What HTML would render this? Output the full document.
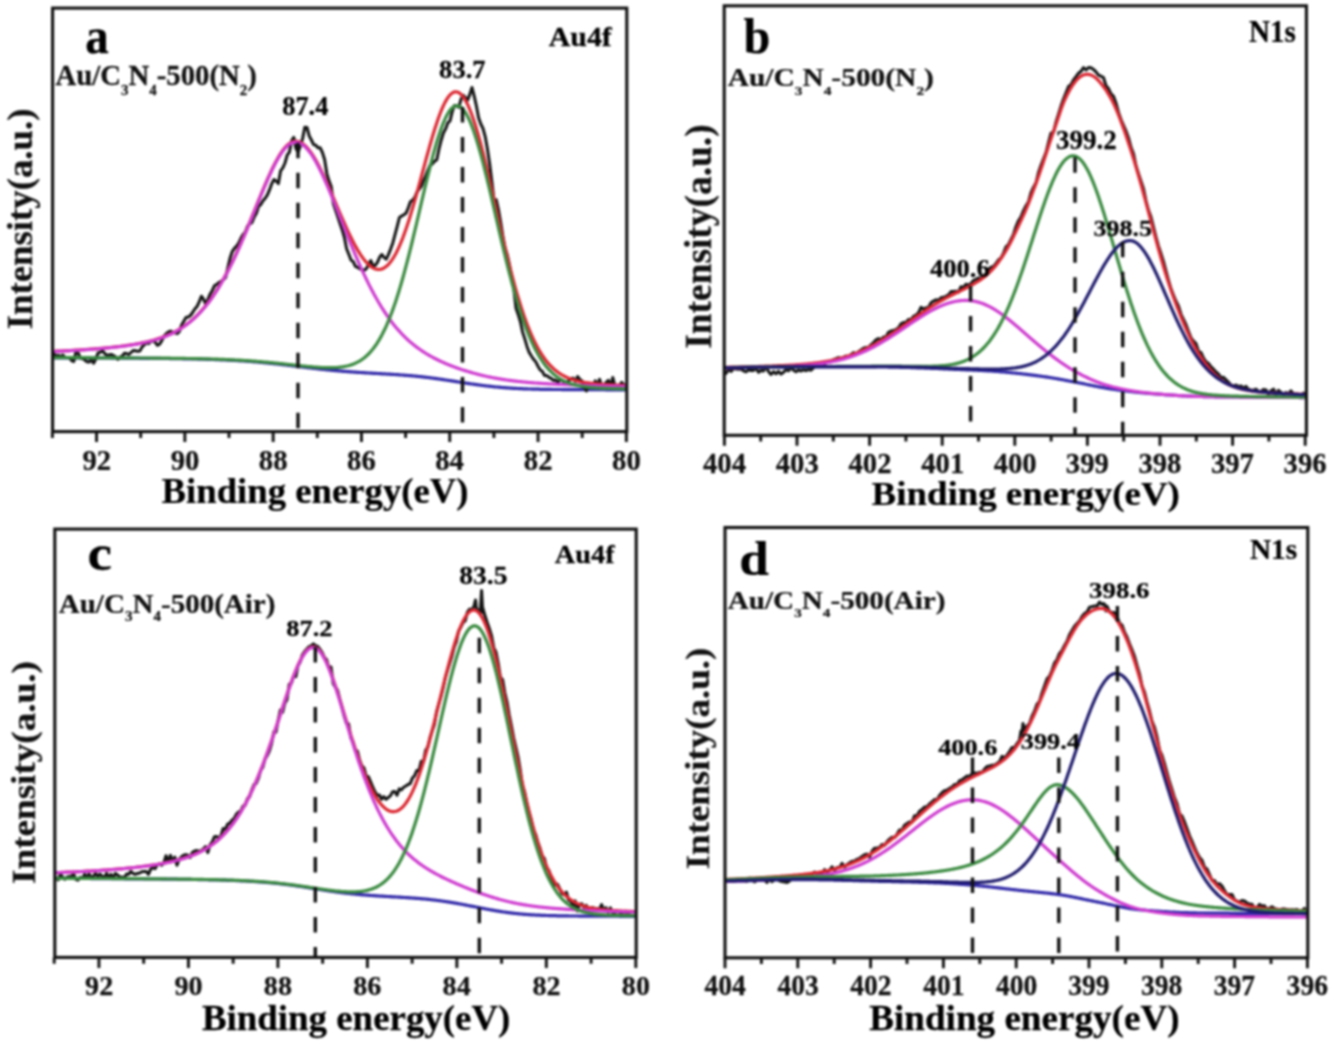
<!DOCTYPE html>
<html><head><meta charset="utf-8"><style>
html,body{margin:0;padding:0;background:#fff;}
svg{display:block;}
#w{filter:blur(1px);width:1338px;height:1048px;}
</style></head><body><div id="w">
<svg width="1338" height="1048" viewBox="0 0 1338 1048">
<rect width="1338" height="1048" fill="#fff"/>
<g fill="none" stroke-width="3.2" stroke-linejoin="round" stroke-linecap="round">
<path d="M54.0,357.8 L55.0,357.8 L56.0,357.8 L57.0,357.8 L58.0,357.8 L59.0,357.8 L60.0,357.8 L61.0,357.8 L62.0,357.8 L63.0,357.8 L64.0,357.8 L65.0,357.8 L66.0,357.8 L67.0,357.8 L68.0,357.9 L69.0,357.9 L70.0,357.9 L71.0,357.9 L72.0,357.9 L73.0,357.9 L74.0,357.9 L75.0,357.9 L76.0,357.9 L77.0,357.9 L78.0,357.9 L79.0,357.9 L80.0,357.9 L81.0,357.9 L82.0,357.9 L83.0,357.9 L84.0,357.9 L85.0,357.9 L86.0,357.9 L87.0,357.9 L88.0,357.9 L89.0,357.9 L90.0,357.9 L91.0,358.0 L92.0,358.0 L93.0,358.0 L94.0,358.0 L95.0,358.0 L96.0,358.0 L97.0,358.0 L98.0,358.0 L99.0,358.0 L100.0,358.0 L101.0,358.0 L102.0,358.0 L103.0,358.0 L104.0,358.0 L105.0,358.0 L106.0,358.0 L107.0,358.0 L108.0,358.0 L109.0,358.0 L110.0,358.0 L111.0,358.1 L112.0,358.1 L113.0,358.1 L114.0,358.1 L115.0,358.1 L116.0,358.1 L117.0,358.1 L118.0,358.1 L119.0,358.1 L120.0,358.1 L121.0,358.1 L122.0,358.1 L123.0,358.1 L124.0,358.1 L125.0,358.1 L126.0,358.1 L127.0,358.2 L128.0,358.2 L129.0,358.2 L130.0,358.2 L131.0,358.2 L132.0,358.2 L133.0,358.2 L134.0,358.2 L135.0,358.2 L136.0,358.2 L137.0,358.2 L138.0,358.2 L139.0,358.2 L140.0,358.3 L141.0,358.3 L142.0,358.3 L143.0,358.3 L144.0,358.3 L145.0,358.3 L146.0,358.3 L147.0,358.3 L148.0,358.3 L149.0,358.3 L150.0,358.3 L151.0,358.3 L152.0,358.4 L153.0,358.4 L154.0,358.4 L155.0,358.4 L156.0,358.4 L157.0,358.4 L158.0,358.4 L159.0,358.4 L160.0,358.4 L161.0,358.5 L162.0,358.5 L163.0,358.5 L164.0,358.5 L165.0,358.5 L166.0,358.5 L167.0,358.5 L168.0,358.5 L169.0,358.5 L170.0,358.6 L171.0,358.6 L172.0,358.6 L173.0,358.6 L174.0,358.6 L175.0,358.6 L176.0,358.6 L177.0,358.7 L178.0,358.7 L179.0,358.7 L180.0,358.7 L181.0,358.7 L182.0,358.7 L183.0,358.8 L184.0,358.8 L185.0,358.8 L186.0,358.8 L187.0,358.8 L188.0,358.8 L189.0,358.9 L190.0,358.9 L191.0,358.9 L192.0,358.9 L193.0,359.0 L194.0,359.0 L195.0,359.0 L196.0,359.0 L197.0,359.0 L198.0,359.1 L199.0,359.1 L200.0,359.1 L201.0,359.1 L202.0,359.2 L203.0,359.2 L204.0,359.2 L205.0,359.2 L206.0,359.3 L207.0,359.3 L208.0,359.3 L209.0,359.4 L210.0,359.4 L211.0,359.4 L212.0,359.5 L213.0,359.5 L214.0,359.5 L215.0,359.6 L216.0,359.6 L217.0,359.6 L218.0,359.7 L219.0,359.7 L220.0,359.8 L221.0,359.8 L222.0,359.8 L223.0,359.9 L224.0,359.9 L225.0,360.0 L226.0,360.0 L227.0,360.1 L228.0,360.1 L229.0,360.2 L230.0,360.2 L231.0,360.3 L232.0,360.3 L233.0,360.4 L234.0,360.4 L235.0,360.5 L236.0,360.5 L237.0,360.6 L238.0,360.7 L239.0,360.7 L240.0,360.8 L241.0,360.8 L242.0,360.9 L243.0,361.0 L244.0,361.0 L245.0,361.1 L246.0,361.2 L247.0,361.2 L248.0,361.3 L249.0,361.4 L250.0,361.5 L251.0,361.5 L252.0,361.6 L253.0,361.7 L254.0,361.8 L255.0,361.9 L256.0,361.9 L257.0,362.0 L258.0,362.1 L259.0,362.2 L260.0,362.3 L261.0,362.4 L262.0,362.5 L263.0,362.6 L264.0,362.7 L265.0,362.8 L266.0,362.9 L267.0,363.0 L268.0,363.1 L269.0,363.2 L270.0,363.3 L271.0,363.4 L272.0,363.5 L273.0,363.6 L274.0,363.7 L275.0,363.8 L276.0,363.9 L277.0,364.0 L278.0,364.1 L279.0,364.2 L280.0,364.3 L281.0,364.5 L282.0,364.6 L283.0,364.7 L284.0,364.8 L285.0,364.9 L286.0,365.0 L287.0,365.2 L288.0,365.3 L289.0,365.4 L290.0,365.5 L291.0,365.6 L292.0,365.8 L293.0,365.9 L294.0,366.0 L295.0,366.1 L296.0,366.2 L297.0,366.4 L298.0,366.5 L299.0,366.6 L300.0,366.7 L301.0,366.8 L302.0,367.0 L303.0,367.1 L304.0,367.2 L305.0,367.3 L306.0,367.4 L307.0,367.6 L308.0,367.7 L309.0,367.8 L310.0,367.9 L311.0,368.0 L312.0,368.2 L313.0,368.3 L314.0,368.4 L315.0,368.5 L316.0,368.6 L317.0,368.7 L318.0,368.8 L319.0,368.9 L320.0,369.1 L321.0,369.2 L322.0,369.3 L323.0,369.4 L324.0,369.5 L325.0,369.6 L326.0,369.7 L327.0,369.8 L328.0,369.9 L329.0,370.0 L330.0,370.1 L331.0,370.2 L332.0,370.3 L333.0,370.4 L334.0,370.5 L335.0,370.6 L336.0,370.7 L337.0,370.7 L338.0,370.8 L339.0,370.9 L340.0,371.0 L341.0,371.1 L342.0,371.2 L343.0,371.3 L344.0,371.3 L345.0,371.4 L346.0,371.5 L347.0,371.6 L348.0,371.6 L349.0,371.7 L350.0,371.8 L351.0,371.9 L352.0,371.9 L353.0,372.0 L354.0,372.1 L355.0,372.2 L356.0,372.2 L357.0,372.3 L358.0,372.4 L359.0,372.4 L360.0,372.5 L361.0,372.5 L362.0,372.6 L363.0,372.7 L364.0,372.7 L365.0,372.8 L366.0,372.9 L367.0,372.9 L368.0,373.0 L369.0,373.0 L370.0,373.1 L371.0,373.1 L372.0,373.2 L373.0,373.3 L374.0,373.3 L375.0,373.4 L376.0,373.4 L377.0,373.5 L378.0,373.5 L379.0,373.6 L380.0,373.7 L381.0,373.7 L382.0,373.8 L383.0,373.8 L384.0,373.9 L385.0,373.9 L386.0,374.0 L387.0,374.1 L388.0,374.1 L389.0,374.2 L390.0,374.2 L391.0,374.3 L392.0,374.4 L393.0,374.4 L394.0,374.5 L395.0,374.5 L396.0,374.6 L397.0,374.7 L398.0,374.7 L399.0,374.8 L400.0,374.9 L401.0,375.0 L402.0,375.0 L403.0,375.1 L404.0,375.2 L405.0,375.3 L406.0,375.3 L407.0,375.4 L408.0,375.5 L409.0,375.6 L410.0,375.7 L411.0,375.7 L412.0,375.8 L413.0,375.9 L414.0,376.0 L415.0,376.1 L416.0,376.2 L417.0,376.3 L418.0,376.4 L419.0,376.5 L420.0,376.6 L421.0,376.7 L422.0,376.8 L423.0,376.9 L424.0,377.1 L425.0,377.2 L426.0,377.3 L427.0,377.4 L428.0,377.5 L429.0,377.6 L430.0,377.8 L431.0,377.9 L432.0,378.0 L433.0,378.2 L434.0,378.3 L435.0,378.4 L436.0,378.6 L437.0,378.7 L438.0,378.8 L439.0,379.0 L440.0,379.1 L441.0,379.3 L442.0,379.4 L443.0,379.6 L444.0,379.7 L445.0,379.9 L446.0,380.0 L447.0,380.2 L448.0,380.3 L449.0,380.5 L450.0,380.6 L451.0,380.8 L452.0,380.9 L453.0,381.1 L454.0,381.2 L455.0,381.4 L456.0,381.6 L457.0,381.7 L458.0,381.9 L459.0,382.0 L460.0,382.2 L461.0,382.3 L462.0,382.5 L463.0,382.6 L464.0,382.8 L465.0,383.0 L466.0,383.1 L467.0,383.3 L468.0,383.4 L469.0,383.6 L470.0,383.7 L471.0,383.9 L472.0,384.0 L473.0,384.1 L474.0,384.3 L475.0,384.4 L476.0,384.6 L477.0,384.7 L478.0,384.8 L479.0,385.0 L480.0,385.1 L481.0,385.2 L482.0,385.4 L483.0,385.5 L484.0,385.6 L485.0,385.8 L486.0,385.9 L487.0,386.0 L488.0,386.1 L489.0,386.2 L490.0,386.3 L491.0,386.4 L492.0,386.5 L493.0,386.7 L494.0,386.8 L495.0,386.9 L496.0,387.0 L497.0,387.0 L498.0,387.1 L499.0,387.2 L500.0,387.3 L501.0,387.4 L502.0,387.5 L503.0,387.6 L504.0,387.7 L505.0,387.7 L506.0,387.8 L507.0,387.9 L508.0,387.9 L509.0,388.0 L510.0,388.1 L511.0,388.1 L512.0,388.2 L513.0,388.3 L514.0,388.3 L515.0,388.4 L516.0,388.4 L517.0,388.5 L518.0,388.5 L519.0,388.6 L520.0,388.6 L521.0,388.7 L522.0,388.7 L523.0,388.8 L524.0,388.8 L525.0,388.8 L526.0,388.9 L527.0,388.9 L528.0,389.0 L529.0,389.0 L530.0,389.0 L531.0,389.0 L532.0,389.1 L533.0,389.1 L534.0,389.1 L535.0,389.2 L536.0,389.2 L537.0,389.2 L538.0,389.2 L539.0,389.2 L540.0,389.3 L541.0,389.3 L542.0,389.3 L543.0,389.3 L544.0,389.3 L545.0,389.4 L546.0,389.4 L547.0,389.4 L548.0,389.4 L549.0,389.4 L550.0,389.4 L551.0,389.4 L552.0,389.5 L553.0,389.5 L554.0,389.5 L555.0,389.5 L556.0,389.5 L557.0,389.5 L558.0,389.5 L559.0,389.5 L560.0,389.5 L561.0,389.5 L562.0,389.6 L563.0,389.6 L564.0,389.6 L565.0,389.6 L566.0,389.6 L567.0,389.6 L568.0,389.6 L569.0,389.6 L570.0,389.6 L571.0,389.6 L572.0,389.6 L573.0,389.6 L574.0,389.6 L575.0,389.6 L576.0,389.6 L577.0,389.6 L578.0,389.7 L579.0,389.7 L580.0,389.7 L581.0,389.7 L582.0,389.7 L583.0,389.7 L584.0,389.7 L585.0,389.7 L586.0,389.7 L587.0,389.7 L588.0,389.7 L589.0,389.7 L590.0,389.7 L591.0,389.7 L592.0,389.7 L593.0,389.7 L594.0,389.7 L595.0,389.7 L596.0,389.7 L597.0,389.7 L598.0,389.7 L599.0,389.7 L600.0,389.7 L601.0,389.7 L602.0,389.7 L603.0,389.7 L604.0,389.7 L605.0,389.7 L606.0,389.8 L607.0,389.8 L608.0,389.8 L609.0,389.8 L610.0,389.8 L611.0,389.8 L612.0,389.8 L613.0,389.8 L614.0,389.8 L615.0,389.8 L616.0,389.8 L617.0,389.8 L618.0,389.8 L619.0,389.8 L620.0,389.8 L621.0,389.8 L622.0,389.8 L623.0,389.8 L624.0,389.8 L625.0,389.8" stroke="#3028a8" />
<path d="M54.0,353.9 L56.2,356.2 L58.4,355.2 L60.6,356.8 L62.8,355.0 L65.0,357.2 L67.2,357.5 L69.4,357.5 L71.6,360.7 L73.8,361.5 L76.0,351.5 L78.2,353.2 L80.4,358.1 L82.6,358.6 L84.8,360.1 L87.0,361.8 L89.2,361.9 L91.4,359.4 L93.6,363.2 L95.8,359.0 L98.0,353.0 L100.2,352.4 L102.4,350.4 L104.6,353.5 L106.8,355.1 L109.0,354.9 L111.2,354.4 L113.4,355.6 L115.6,356.9 L117.8,359.3 L120.0,357.2 L122.2,356.1 L124.4,353.3 L126.6,353.5 L128.8,354.5 L131.0,352.5 L133.2,350.5 L135.4,350.7 L137.6,351.2 L139.8,351.1 L142.0,347.1 L144.2,344.8 L146.4,342.9 L148.6,343.7 L150.8,341.5 L153.0,340.8 L155.2,342.2 L157.4,345.3 L159.6,344.2 L161.8,340.6 L164.0,336.3 L166.2,333.6 L168.4,332.0 L170.6,331.1 L172.8,332.3 L175.0,332.9 L177.2,333.7 L179.4,331.5 L181.6,325.0 L183.8,321.3 L186.0,317.5 L188.2,317.0 L190.4,315.5 L192.6,312.5 L194.8,309.0 L197.0,306.5 L199.2,301.9 L201.4,296.2 L203.6,299.4 L205.8,304.2 L208.0,299.1 L210.2,293.9 L212.4,290.2 L214.6,285.5 L216.8,284.4 L219.0,282.5 L221.2,281.3 L223.4,279.5 L225.6,277.7 L227.8,267.9 L230.0,258.3 L232.2,251.6 L234.4,248.4 L236.6,246.1 L238.8,242.8 L241.0,238.0 L243.2,234.4 L245.4,231.9 L247.6,226.1 L249.8,223.9 L252.0,222.5 L254.2,217.0 L256.4,213.3 L258.6,206.4 L260.8,204.5 L263.0,200.8 L265.2,198.3 L267.4,194.9 L269.6,189.7 L271.8,183.6 L274.0,179.5 L276.2,181.1 L278.4,183.6 L280.6,170.8 L282.8,167.9 L285.0,163.0 L287.2,155.2 L289.4,152.2 L291.6,140.9 L293.8,137.4 L296.0,148.6 L298.2,151.9 L300.4,145.7 L302.6,138.6 L304.8,127.2 L307.0,127.5 L309.2,135.9 L311.4,140.0 L313.6,144.6 L315.8,145.3 L318.0,147.8 L320.2,147.8 L322.4,152.5 L324.6,159.5 L326.8,173.3 L329.0,180.8 L331.2,186.5 L333.4,203.8 L335.6,210.3 L337.8,216.9 L340.0,223.5 L342.2,229.9 L344.4,237.5 L346.6,248.7 L348.8,254.2 L351.0,260.0 L353.2,261.6 L355.4,266.3 L357.6,267.3 L359.8,268.9 L362.0,269.5 L364.2,270.2 L366.4,268.7 L368.6,264.2 L370.8,260.5 L373.0,265.6 L375.2,265.4 L377.4,262.4 L379.6,257.3 L381.8,254.5 L384.0,257.4 L386.2,259.2 L388.4,254.6 L390.6,249.1 L392.8,242.9 L395.0,234.6 L397.2,226.4 L399.4,217.6 L401.6,216.1 L403.8,214.8 L406.0,213.3 L408.2,208.0 L410.4,201.7 L412.6,200.2 L414.8,197.3 L417.0,192.1 L419.2,189.0 L421.4,186.1 L423.6,180.3 L425.8,175.5 L428.0,170.0 L430.2,165.2 L432.4,163.9 L434.6,161.3 L436.8,159.8 L439.0,149.0 L441.2,140.2 L443.4,133.0 L445.6,128.9 L447.8,122.9 L450.0,120.9 L452.2,111.8 L454.4,105.5 L456.6,105.8 L458.8,107.3 L461.0,99.3 L463.2,95.2 L465.4,97.5 L467.6,100.1 L469.8,94.4 L472.0,87.5 L474.2,96.2 L476.4,106.0 L478.6,117.8 L480.8,124.0 L483.0,128.5 L485.2,136.6 L487.4,148.8 L489.6,163.5 L491.8,181.1 L494.0,200.2 L496.2,199.7 L498.4,209.5 L500.6,222.0 L502.8,235.8 L505.0,247.8 L507.2,254.6 L509.4,264.6 L511.6,276.8 L513.8,288.8 L516.0,308.2 L518.2,314.4 L520.4,321.8 L522.6,332.1 L524.8,338.9 L527.0,346.4 L529.2,352.4 L531.4,356.0 L533.6,359.3 L535.8,361.9 L538.0,366.2 L540.2,369.9 L542.4,371.5 L544.6,375.6 L546.8,375.6 L549.0,377.3 L551.2,378.4 L553.4,380.3 L555.6,379.9 L557.8,382.6 L560.0,379.5 L562.2,380.4 L564.4,382.6 L566.6,382.3 L568.8,380.8 L571.0,378.7 L573.2,378.1 L575.4,381.3 L577.6,376.5 L579.8,379.5 L582.0,381.0 L584.2,387.5 L586.4,391.0 L588.6,383.2 L590.8,384.6 L593.0,386.8 L595.2,380.9 L597.4,384.9 L599.6,379.4 L601.8,386.4 L604.0,385.5 L606.2,382.3 L608.4,380.3 L610.6,386.5 L612.8,377.5 L615.0,386.3 L617.2,386.2 L619.4,386.1 L621.6,382.4 L623.8,384.6" stroke="#141414" stroke-width="3.0" />
<path d="M54.0,351.3 L55.0,351.3 L56.0,351.2 L57.0,351.2 L58.0,351.2 L59.0,351.1 L60.0,351.1 L61.0,351.0 L62.0,351.0 L63.0,350.9 L64.0,350.8 L65.0,350.8 L66.0,350.7 L67.0,350.7 L68.0,350.6 L69.0,350.6 L70.0,350.5 L71.0,350.5 L72.0,350.4 L73.0,350.3 L74.0,350.3 L75.0,350.2 L76.0,350.2 L77.0,350.1 L78.0,350.0 L79.0,350.0 L80.0,349.9 L81.0,349.9 L82.0,349.8 L83.0,349.7 L84.0,349.7 L85.0,349.6 L86.0,349.5 L87.0,349.4 L88.0,349.4 L89.0,349.3 L90.0,349.2 L91.0,349.2 L92.0,349.1 L93.0,349.0 L94.0,348.9 L95.0,348.8 L96.0,348.8 L97.0,348.7 L98.0,348.6 L99.0,348.5 L100.0,348.4 L101.0,348.3 L102.0,348.3 L103.0,348.2 L104.0,348.1 L105.0,348.0 L106.0,347.9 L107.0,347.8 L108.0,347.7 L109.0,347.6 L110.0,347.5 L111.0,347.4 L112.0,347.3 L113.0,347.2 L114.0,347.1 L115.0,347.0 L116.0,346.8 L117.0,346.7 L118.0,346.6 L119.0,346.5 L120.0,346.4 L121.0,346.2 L122.0,346.1 L123.0,346.0 L124.0,345.9 L125.0,345.7 L126.0,345.6 L127.0,345.4 L128.0,345.3 L129.0,345.1 L130.0,345.0 L131.0,344.8 L132.0,344.7 L133.0,344.5 L134.0,344.4 L135.0,344.2 L136.0,344.0 L137.0,343.8 L138.0,343.7 L139.0,343.5 L140.0,343.3 L141.0,343.1 L142.0,342.9 L143.0,342.7 L144.0,342.4 L145.0,342.2 L146.0,342.0 L147.0,341.8 L148.0,341.5 L149.0,341.3 L150.0,341.0 L151.0,340.8 L152.0,340.5 L153.0,340.2 L154.0,340.0 L155.0,339.7 L156.0,339.4 L157.0,339.1 L158.0,338.7 L159.0,338.4 L160.0,338.1 L161.0,337.7 L162.0,337.4 L163.0,337.0 L164.0,336.6 L165.0,336.3 L166.0,335.8 L167.0,335.4 L168.0,335.0 L169.0,334.6 L170.0,334.1 L171.0,333.7 L172.0,333.2 L173.0,332.7 L174.0,332.2 L175.0,331.7 L176.0,331.1 L177.0,330.6 L178.0,330.0 L179.0,329.4 L180.0,328.8 L181.0,328.2 L182.0,327.5 L183.0,326.9 L184.0,326.2 L185.0,325.5 L186.0,324.8 L187.0,324.0 L188.0,323.2 L189.0,322.5 L190.0,321.7 L191.0,320.8 L192.0,320.0 L193.0,319.1 L194.0,318.2 L195.0,317.3 L196.0,316.3 L197.0,315.3 L198.0,314.3 L199.0,313.3 L200.0,312.2 L201.0,311.2 L202.0,310.0 L203.0,308.9 L204.0,307.7 L205.0,306.5 L206.0,305.3 L207.0,304.1 L208.0,302.8 L209.0,301.5 L210.0,300.1 L211.0,298.7 L212.0,297.3 L213.0,295.9 L214.0,294.4 L215.0,292.9 L216.0,291.4 L217.0,289.8 L218.0,288.2 L219.0,286.6 L220.0,284.9 L221.0,283.2 L222.0,281.5 L223.0,279.7 L224.0,278.0 L225.0,276.1 L226.0,274.3 L227.0,272.4 L228.0,270.5 L229.0,268.5 L230.0,266.6 L231.0,264.6 L232.0,262.5 L233.0,260.5 L234.0,258.4 L235.0,256.2 L236.0,254.1 L237.0,251.9 L238.0,249.7 L239.0,247.5 L240.0,245.2 L241.0,243.0 L242.0,240.7 L243.0,238.3 L244.0,236.0 L245.0,233.6 L246.0,231.3 L247.0,228.9 L248.0,226.5 L249.0,224.0 L250.0,221.6 L251.0,219.2 L252.0,216.7 L253.0,214.2 L254.0,211.8 L255.0,209.3 L256.0,206.8 L257.0,204.4 L258.0,201.9 L259.0,199.4 L260.0,197.0 L261.0,194.5 L262.0,192.1 L263.0,189.7 L264.0,187.3 L265.0,185.0 L266.0,182.6 L267.0,180.3 L268.0,178.0 L269.0,175.8 L270.0,173.6 L271.0,171.4 L272.0,169.3 L273.0,167.2 L274.0,165.2 L275.0,163.3 L276.0,161.4 L277.0,159.5 L278.0,157.8 L279.0,156.1 L280.0,154.4 L281.0,152.9 L282.0,151.4 L283.0,150.1 L284.0,148.8 L285.0,147.6 L286.0,146.5 L287.0,145.5 L288.0,144.6 L289.0,143.8 L290.0,143.1 L291.0,142.5 L292.0,142.1 L293.0,141.7 L294.0,141.4 L295.0,141.3 L296.0,141.3 L297.0,141.3 L298.0,141.5 L299.0,141.8 L300.0,142.2 L301.0,142.7 L302.0,143.3 L303.0,143.9 L304.0,144.7 L305.0,145.6 L306.0,146.5 L307.0,147.6 L308.0,148.7 L309.0,149.9 L310.0,151.2 L311.0,152.6 L312.0,154.0 L313.0,155.6 L314.0,157.2 L315.0,158.8 L316.0,160.6 L317.0,162.4 L318.0,164.2 L319.0,166.1 L320.0,168.1 L321.0,170.1 L322.0,172.2 L323.0,174.2 L324.0,176.4 L325.0,178.6 L326.0,180.8 L327.0,183.0 L328.0,185.3 L329.0,187.5 L330.0,189.8 L331.0,192.2 L332.0,194.5 L333.0,196.8 L334.0,199.2 L335.0,201.6 L336.0,203.9 L337.0,206.3 L338.0,208.6 L339.0,211.0 L340.0,213.3 L341.0,215.6 L342.0,217.9 L343.0,220.2 L344.0,222.5 L345.0,224.7 L346.0,226.9 L347.0,229.1 L348.0,231.3 L349.0,233.4 L350.0,235.5 L351.0,237.5 L352.0,239.5 L353.0,241.5 L354.0,243.4 L355.0,245.3 L356.0,247.1 L357.0,248.9 L358.0,250.6 L359.0,252.2 L360.0,253.8 L361.0,255.3 L362.0,256.8 L363.0,258.2 L364.0,259.5 L365.0,260.8 L366.0,261.9 L367.0,263.0 L368.0,264.1 L369.0,265.0 L370.0,265.9 L371.0,266.6 L372.0,267.3 L373.0,267.9 L374.0,268.4 L375.0,268.8 L376.0,269.1 L377.0,269.3 L378.0,269.4 L379.0,269.5 L380.0,269.4 L381.0,269.2 L382.0,268.9 L383.0,268.5 L384.0,268.0 L385.0,267.3 L386.0,266.6 L387.0,265.8 L388.0,264.8 L389.0,263.8 L390.0,262.6 L391.0,261.3 L392.0,259.9 L393.0,258.4 L394.0,256.7 L395.0,255.0 L396.0,253.2 L397.0,251.2 L398.0,249.1 L399.0,247.0 L400.0,244.7 L401.0,242.3 L402.0,239.8 L403.0,237.3 L404.0,234.6 L405.0,231.8 L406.0,229.0 L407.0,226.0 L408.0,223.0 L409.0,219.9 L410.0,216.7 L411.0,213.4 L412.0,210.1 L413.0,206.7 L414.0,203.2 L415.0,199.7 L416.0,196.2 L417.0,192.6 L418.0,189.0 L419.0,185.3 L420.0,181.6 L421.0,177.9 L422.0,174.2 L423.0,170.5 L424.0,166.8 L425.0,163.1 L426.0,159.4 L427.0,155.8 L428.0,152.2 L429.0,148.6 L430.0,145.0 L431.0,141.5 L432.0,138.1 L433.0,134.8 L434.0,131.5 L435.0,128.3 L436.0,125.2 L437.0,122.2 L438.0,119.3 L439.0,116.5 L440.0,113.8 L441.0,111.2 L442.0,108.8 L443.0,106.5 L444.0,104.4 L445.0,102.4 L446.0,100.6 L447.0,98.9 L448.0,97.4 L449.0,96.1 L450.0,94.9 L451.0,94.0 L452.0,93.2 L453.0,92.5 L454.0,92.1 L455.0,91.9 L456.0,91.8 L457.0,92.0 L458.0,92.3 L459.0,92.8 L460.0,93.5 L461.0,94.4 L462.0,95.4 L463.0,96.7 L464.0,98.1 L465.0,99.6 L466.0,101.4 L467.0,103.3 L468.0,105.3 L469.0,107.6 L470.0,110.0 L471.0,112.5 L472.0,115.2 L473.0,118.0 L474.0,120.9 L475.0,124.0 L476.0,127.2 L477.0,130.6 L478.0,134.0 L479.0,137.6 L480.0,141.2 L481.0,145.0 L482.0,148.8 L483.0,152.7 L484.0,156.7 L485.0,160.8 L486.0,164.9 L487.0,169.1 L488.0,173.4 L489.0,177.6 L490.0,182.0 L491.0,186.3 L492.0,190.7 L493.0,195.1 L494.0,199.5 L495.0,203.9 L496.0,208.4 L497.0,212.8 L498.0,217.2 L499.0,221.6 L500.0,226.0 L501.0,230.3 L502.0,234.7 L503.0,239.0 L504.0,243.2 L505.0,247.4 L506.0,251.6 L507.0,255.7 L508.0,259.8 L509.0,263.8 L510.0,267.8 L511.0,271.7 L512.0,275.5 L513.0,279.2 L514.0,282.9 L515.0,286.6 L516.0,290.1 L517.0,293.6 L518.0,297.0 L519.0,300.3 L520.0,303.5 L521.0,306.7 L522.0,309.8 L523.0,312.8 L524.0,315.7 L525.0,318.5 L526.0,321.3 L527.0,324.0 L528.0,326.6 L529.0,329.1 L530.0,331.5 L531.0,333.9 L532.0,336.1 L533.0,338.3 L534.0,340.5 L535.0,342.5 L536.0,344.5 L537.0,346.4 L538.0,348.2 L539.0,350.0 L540.0,351.7 L541.0,353.3 L542.0,354.9 L543.0,356.3 L544.0,357.8 L545.0,359.2 L546.0,360.5 L547.0,361.7 L548.0,362.9 L549.0,364.1 L550.0,365.2 L551.0,366.2 L552.0,367.2 L553.0,368.2 L554.0,369.1 L555.0,369.9 L556.0,370.7 L557.0,371.5 L558.0,372.3 L559.0,373.0 L560.0,373.6 L561.0,374.3 L562.0,374.9 L563.0,375.4 L564.0,376.0 L565.0,376.5 L566.0,377.0 L567.0,377.4 L568.0,377.9 L569.0,378.3 L570.0,378.7 L571.0,379.0 L572.0,379.4 L573.0,379.7 L574.0,380.0 L575.0,380.3 L576.0,380.6 L577.0,380.8 L578.0,381.1 L579.0,381.3 L580.0,381.6 L581.0,381.8 L582.0,382.0 L583.0,382.1 L584.0,382.3 L585.0,382.5 L586.0,382.6 L587.0,382.8 L588.0,382.9 L589.0,383.1 L590.0,383.2 L591.0,383.3 L592.0,383.4 L593.0,383.5 L594.0,383.6 L595.0,383.7 L596.0,383.8 L597.0,383.9 L598.0,384.0 L599.0,384.1 L600.0,384.2 L601.0,384.2 L602.0,384.3 L603.0,384.4 L604.0,384.5 L605.0,384.5 L606.0,384.6 L607.0,384.6 L608.0,384.7 L609.0,384.7 L610.0,384.8 L611.0,384.8 L612.0,384.9 L613.0,384.9 L614.0,385.0 L615.0,385.0 L616.0,385.1 L617.0,385.1 L618.0,385.2 L619.0,385.2 L620.0,385.3 L621.0,385.3 L622.0,385.3 L623.0,385.4 L624.0,385.4 L625.0,385.4" stroke="#dc2832" />
<path d="M54.0,351.5 L55.0,351.5 L56.0,351.4 L57.0,351.4 L58.0,351.3 L59.0,351.3 L60.0,351.2 L61.0,351.2 L62.0,351.1 L63.0,351.1 L64.0,351.0 L65.0,351.0 L66.0,350.9 L67.0,350.9 L68.0,350.8 L69.0,350.8 L70.0,350.7 L71.0,350.6 L72.0,350.6 L73.0,350.5 L74.0,350.5 L75.0,350.4 L76.0,350.4 L77.0,350.3 L78.0,350.2 L79.0,350.2 L80.0,350.1 L81.0,350.0 L82.0,350.0 L83.0,349.9 L84.0,349.8 L85.0,349.8 L86.0,349.7 L87.0,349.6 L88.0,349.6 L89.0,349.5 L90.0,349.4 L91.0,349.4 L92.0,349.3 L93.0,349.2 L94.0,349.1 L95.0,349.0 L96.0,349.0 L97.0,348.9 L98.0,348.8 L99.0,348.7 L100.0,348.6 L101.0,348.6 L102.0,348.5 L103.0,348.4 L104.0,348.3 L105.0,348.2 L106.0,348.1 L107.0,348.0 L108.0,347.9 L109.0,347.8 L110.0,347.7 L111.0,347.6 L112.0,347.5 L113.0,347.4 L114.0,347.3 L115.0,347.2 L116.0,347.1 L117.0,347.0 L118.0,346.8 L119.0,346.7 L120.0,346.6 L121.0,346.5 L122.0,346.4 L123.0,346.2 L124.0,346.1 L125.0,346.0 L126.0,345.8 L127.0,345.7 L128.0,345.5 L129.0,345.4 L130.0,345.2 L131.0,345.1 L132.0,344.9 L133.0,344.8 L134.0,344.6 L135.0,344.4 L136.0,344.3 L137.0,344.1 L138.0,343.9 L139.0,343.7 L140.0,343.5 L141.0,343.3 L142.0,343.1 L143.0,342.9 L144.0,342.7 L145.0,342.5 L146.0,342.3 L147.0,342.0 L148.0,341.8 L149.0,341.6 L150.0,341.3 L151.0,341.1 L152.0,340.8 L153.0,340.5 L154.0,340.2 L155.0,340.0 L156.0,339.7 L157.0,339.4 L158.0,339.0 L159.0,338.7 L160.0,338.4 L161.0,338.0 L162.0,337.7 L163.0,337.3 L164.0,336.9 L165.0,336.6 L166.0,336.2 L167.0,335.8 L168.0,335.3 L169.0,334.9 L170.0,334.4 L171.0,334.0 L172.0,333.5 L173.0,333.0 L174.0,332.5 L175.0,332.0 L176.0,331.5 L177.0,330.9 L178.0,330.3 L179.0,329.7 L180.0,329.1 L181.0,328.5 L182.0,327.9 L183.0,327.2 L184.0,326.5 L185.0,325.8 L186.0,325.1 L187.0,324.4 L188.0,323.6 L189.0,322.8 L190.0,322.0 L191.0,321.2 L192.0,320.3 L193.0,319.5 L194.0,318.6 L195.0,317.6 L196.0,316.7 L197.0,315.7 L198.0,314.7 L199.0,313.7 L200.0,312.6 L201.0,311.6 L202.0,310.5 L203.0,309.3 L204.0,308.1 L205.0,307.0 L206.0,305.7 L207.0,304.5 L208.0,303.2 L209.0,301.9 L210.0,300.5 L211.0,299.2 L212.0,297.8 L213.0,296.3 L214.0,294.9 L215.0,293.4 L216.0,291.8 L217.0,290.3 L218.0,288.7 L219.0,287.1 L220.0,285.4 L221.0,283.7 L222.0,282.0 L223.0,280.2 L224.0,278.4 L225.0,276.6 L226.0,274.8 L227.0,272.9 L228.0,271.0 L229.0,269.0 L230.0,267.1 L231.0,265.1 L232.0,263.0 L233.0,261.0 L234.0,258.9 L235.0,256.8 L236.0,254.6 L237.0,252.5 L238.0,250.3 L239.0,248.0 L240.0,245.8 L241.0,243.5 L242.0,241.2 L243.0,238.9 L244.0,236.6 L245.0,234.2 L246.0,231.8 L247.0,229.5 L248.0,227.0 L249.0,224.6 L250.0,222.2 L251.0,219.8 L252.0,217.3 L253.0,214.9 L254.0,212.4 L255.0,209.9 L256.0,207.5 L257.0,205.0 L258.0,202.6 L259.0,200.1 L260.0,197.7 L261.0,195.2 L262.0,192.8 L263.0,190.4 L264.0,188.0 L265.0,185.7 L266.0,183.3 L267.0,181.0 L268.0,178.7 L269.0,176.5 L270.0,174.3 L271.0,172.2 L272.0,170.0 L273.0,168.0 L274.0,166.0 L275.0,164.0 L276.0,162.1 L277.0,160.3 L278.0,158.6 L279.0,156.9 L280.0,155.3 L281.0,153.7 L282.0,152.3 L283.0,150.9 L284.0,149.6 L285.0,148.5 L286.0,147.4 L287.0,146.4 L288.0,145.5 L289.0,144.7 L290.0,144.0 L291.0,143.5 L292.0,143.0 L293.0,142.6 L294.0,142.4 L295.0,142.3 L296.0,142.3 L297.0,142.4 L298.0,142.6 L299.0,142.9 L300.0,143.3 L301.0,143.8 L302.0,144.4 L303.0,145.1 L304.0,145.8 L305.0,146.7 L306.0,147.7 L307.0,148.8 L308.0,149.9 L309.0,151.2 L310.0,152.5 L311.0,153.9 L312.0,155.4 L313.0,156.9 L314.0,158.6 L315.0,160.3 L316.0,162.0 L317.0,163.9 L318.0,165.8 L319.0,167.7 L320.0,169.7 L321.0,171.8 L322.0,173.9 L323.0,176.1 L324.0,178.3 L325.0,180.5 L326.0,182.8 L327.0,185.1 L328.0,187.4 L329.0,189.8 L330.0,192.2 L331.0,194.6 L332.0,197.1 L333.0,199.5 L334.0,202.0 L335.0,204.5 L336.0,207.0 L337.0,209.5 L338.0,212.0 L339.0,214.6 L340.0,217.1 L341.0,219.6 L342.0,222.1 L343.0,224.7 L344.0,227.2 L345.0,229.7 L346.0,232.2 L347.0,234.7 L348.0,237.1 L349.0,239.6 L350.0,242.1 L351.0,244.5 L352.0,246.9 L353.0,249.3 L354.0,251.7 L355.0,254.1 L356.0,256.4 L357.0,258.7 L358.0,261.0 L359.0,263.3 L360.0,265.5 L361.0,267.8 L362.0,270.0 L363.0,272.1 L364.0,274.3 L365.0,276.4 L366.0,278.5 L367.0,280.5 L368.0,282.6 L369.0,284.6 L370.0,286.6 L371.0,288.5 L372.0,290.4 L373.0,292.3 L374.0,294.2 L375.0,296.0 L376.0,297.8 L377.0,299.5 L378.0,301.3 L379.0,303.0 L380.0,304.6 L381.0,306.3 L382.0,307.9 L383.0,309.5 L384.0,311.0 L385.0,312.5 L386.0,314.0 L387.0,315.5 L388.0,316.9 L389.0,318.3 L390.0,319.7 L391.0,321.1 L392.0,322.4 L393.0,323.7 L394.0,324.9 L395.0,326.2 L396.0,327.4 L397.0,328.6 L398.0,329.7 L399.0,330.8 L400.0,331.9 L401.0,333.0 L402.0,334.1 L403.0,335.1 L404.0,336.1 L405.0,337.1 L406.0,338.1 L407.0,339.0 L408.0,340.0 L409.0,340.9 L410.0,341.7 L411.0,342.6 L412.0,343.4 L413.0,344.3 L414.0,345.1 L415.0,345.9 L416.0,346.6 L417.0,347.4 L418.0,348.1 L419.0,348.8 L420.0,349.5 L421.0,350.2 L422.0,350.9 L423.0,351.6 L424.0,352.2 L425.0,352.8 L426.0,353.5 L427.0,354.1 L428.0,354.7 L429.0,355.3 L430.0,355.8 L431.0,356.4 L432.0,356.9 L433.0,357.5 L434.0,358.0 L435.0,358.5 L436.0,359.0 L437.0,359.5 L438.0,360.0 L439.0,360.5 L440.0,361.0 L441.0,361.4 L442.0,361.9 L443.0,362.3 L444.0,362.8 L445.0,363.2 L446.0,363.7 L447.0,364.1 L448.0,364.5 L449.0,364.9 L450.0,365.3 L451.0,365.7 L452.0,366.1 L453.0,366.5 L454.0,366.8 L455.0,367.2 L456.0,367.6 L457.0,367.9 L458.0,368.3 L459.0,368.6 L460.0,369.0 L461.0,369.3 L462.0,369.7 L463.0,370.0 L464.0,370.3 L465.0,370.6 L466.0,370.9 L467.0,371.2 L468.0,371.5 L469.0,371.8 L470.0,372.1 L471.0,372.4 L472.0,372.7 L473.0,373.0 L474.0,373.3 L475.0,373.5 L476.0,373.8 L477.0,374.1 L478.0,374.3 L479.0,374.6 L480.0,374.8 L481.0,375.1 L482.0,375.3 L483.0,375.6 L484.0,375.8 L485.0,376.0 L486.0,376.2 L487.0,376.5 L488.0,376.7 L489.0,376.9 L490.0,377.1 L491.0,377.3 L492.0,377.5 L493.0,377.7 L494.0,377.9 L495.0,378.1 L496.0,378.2 L497.0,378.4 L498.0,378.6 L499.0,378.8 L500.0,378.9 L501.0,379.1 L502.0,379.3 L503.0,379.4 L504.0,379.6 L505.0,379.7 L506.0,379.9 L507.0,380.0 L508.0,380.2 L509.0,380.3 L510.0,380.4 L511.0,380.6 L512.0,380.7 L513.0,380.8 L514.0,380.9 L515.0,381.1 L516.0,381.2 L517.0,381.3 L518.0,381.4 L519.0,381.5 L520.0,381.6 L521.0,381.7 L522.0,381.8 L523.0,381.9 L524.0,382.0 L525.0,382.1 L526.0,382.2 L527.0,382.3 L528.0,382.4 L529.0,382.5 L530.0,382.6 L531.0,382.6 L532.0,382.7 L533.0,382.8 L534.0,382.9 L535.0,383.0 L536.0,383.0 L537.0,383.1 L538.0,383.2 L539.0,383.2 L540.0,383.3 L541.0,383.4 L542.0,383.4 L543.0,383.5 L544.0,383.6 L545.0,383.6 L546.0,383.7 L547.0,383.7 L548.0,383.8 L549.0,383.9 L550.0,383.9 L551.0,384.0 L552.0,384.0 L553.0,384.1 L554.0,384.1 L555.0,384.2 L556.0,384.2 L557.0,384.3 L558.0,384.3 L559.0,384.4 L560.0,384.4 L561.0,384.5 L562.0,384.5 L563.0,384.5 L564.0,384.6 L565.0,384.6 L566.0,384.7 L567.0,384.7 L568.0,384.7 L569.0,384.8 L570.0,384.8 L571.0,384.9 L572.0,384.9 L573.0,384.9 L574.0,385.0 L575.0,385.0 L576.0,385.1 L577.0,385.1 L578.0,385.1 L579.0,385.2 L580.0,385.2 L581.0,385.2 L582.0,385.3 L583.0,385.3 L584.0,385.3 L585.0,385.4 L586.0,385.4 L587.0,385.4 L588.0,385.5 L589.0,385.5 L590.0,385.5 L591.0,385.6 L592.0,385.6 L593.0,385.6 L594.0,385.6 L595.0,385.7 L596.0,385.7 L597.0,385.7 L598.0,385.8 L599.0,385.8 L600.0,385.8 L601.0,385.8 L602.0,385.9 L603.0,385.9 L604.0,385.9 L605.0,386.0 L606.0,386.0 L607.0,386.0 L608.0,386.0 L609.0,386.1 L610.0,386.1 L611.0,386.1 L612.0,386.1 L613.0,386.2 L614.0,386.2 L615.0,386.2 L616.0,386.2 L617.0,386.3 L618.0,386.3 L619.0,386.3 L620.0,386.3 L621.0,386.3 L622.0,386.4 L623.0,386.4 L624.0,386.4 L625.0,386.4" stroke="#cf3cd0" />
<path d="M54.0,357.6 L55.0,357.6 L56.0,357.6 L57.0,357.6 L58.0,357.6 L59.0,357.6 L60.0,357.7 L61.0,357.7 L62.0,357.7 L63.0,357.7 L64.0,357.7 L65.0,357.7 L66.0,357.7 L67.0,357.7 L68.0,357.7 L69.0,357.7 L70.0,357.7 L71.0,357.7 L72.0,357.7 L73.0,357.7 L74.0,357.7 L75.0,357.7 L76.0,357.7 L77.0,357.7 L78.0,357.7 L79.0,357.7 L80.0,357.7 L81.0,357.7 L82.0,357.7 L83.0,357.7 L84.0,357.7 L85.0,357.7 L86.0,357.7 L87.0,357.7 L88.0,357.7 L89.0,357.7 L90.0,357.7 L91.0,357.8 L92.0,357.8 L93.0,357.8 L94.0,357.8 L95.0,357.8 L96.0,357.8 L97.0,357.8 L98.0,357.8 L99.0,357.8 L100.0,357.8 L101.0,357.8 L102.0,357.8 L103.0,357.8 L104.0,357.8 L105.0,357.8 L106.0,357.8 L107.0,357.8 L108.0,357.8 L109.0,357.8 L110.0,357.8 L111.0,357.8 L112.0,357.8 L113.0,357.8 L114.0,357.8 L115.0,357.9 L116.0,357.9 L117.0,357.9 L118.0,357.9 L119.0,357.9 L120.0,357.9 L121.0,357.9 L122.0,357.9 L123.0,357.9 L124.0,357.9 L125.0,357.9 L126.0,357.9 L127.0,357.9 L128.0,357.9 L129.0,357.9 L130.0,357.9 L131.0,357.9 L132.0,357.9 L133.0,357.9 L134.0,358.0 L135.0,358.0 L136.0,358.0 L137.0,358.0 L138.0,358.0 L139.0,358.0 L140.0,358.0 L141.0,358.0 L142.0,358.0 L143.0,358.0 L144.0,358.0 L145.0,358.0 L146.0,358.0 L147.0,358.0 L148.0,358.0 L149.0,358.0 L150.0,358.1 L151.0,358.1 L152.0,358.1 L153.0,358.1 L154.0,358.1 L155.0,358.1 L156.0,358.1 L157.0,358.1 L158.0,358.1 L159.0,358.1 L160.0,358.1 L161.0,358.1 L162.0,358.2 L163.0,358.2 L164.0,358.2 L165.0,358.2 L166.0,358.2 L167.0,358.2 L168.0,358.2 L169.0,358.2 L170.0,358.2 L171.0,358.3 L172.0,358.3 L173.0,358.3 L174.0,358.3 L175.0,358.3 L176.0,358.3 L177.0,358.3 L178.0,358.3 L179.0,358.3 L180.0,358.4 L181.0,358.4 L182.0,358.4 L183.0,358.4 L184.0,358.4 L185.0,358.4 L186.0,358.5 L187.0,358.5 L188.0,358.5 L189.0,358.5 L190.0,358.5 L191.0,358.5 L192.0,358.6 L193.0,358.6 L194.0,358.6 L195.0,358.6 L196.0,358.6 L197.0,358.7 L198.0,358.7 L199.0,358.7 L200.0,358.7 L201.0,358.7 L202.0,358.8 L203.0,358.8 L204.0,358.8 L205.0,358.8 L206.0,358.9 L207.0,358.9 L208.0,358.9 L209.0,358.9 L210.0,359.0 L211.0,359.0 L212.0,359.0 L213.0,359.1 L214.0,359.1 L215.0,359.1 L216.0,359.2 L217.0,359.2 L218.0,359.2 L219.0,359.3 L220.0,359.3 L221.0,359.3 L222.0,359.4 L223.0,359.4 L224.0,359.4 L225.0,359.5 L226.0,359.5 L227.0,359.6 L228.0,359.6 L229.0,359.7 L230.0,359.7 L231.0,359.8 L232.0,359.8 L233.0,359.9 L234.0,359.9 L235.0,360.0 L236.0,360.0 L237.0,360.1 L238.0,360.1 L239.0,360.2 L240.0,360.2 L241.0,360.3 L242.0,360.3 L243.0,360.4 L244.0,360.5 L245.0,360.5 L246.0,360.6 L247.0,360.7 L248.0,360.7 L249.0,360.8 L250.0,360.9 L251.0,360.9 L252.0,361.0 L253.0,361.1 L254.0,361.2 L255.0,361.2 L256.0,361.3 L257.0,361.4 L258.0,361.5 L259.0,361.5 L260.0,361.6 L261.0,361.7 L262.0,361.8 L263.0,361.9 L264.0,362.0 L265.0,362.1 L266.0,362.1 L267.0,362.2 L268.0,362.3 L269.0,362.4 L270.0,362.5 L271.0,362.6 L272.0,362.7 L273.0,362.8 L274.0,362.9 L275.0,363.0 L276.0,363.1 L277.0,363.2 L278.0,363.3 L279.0,363.4 L280.0,363.5 L281.0,363.6 L282.0,363.7 L283.0,363.8 L284.0,363.9 L285.0,364.0 L286.0,364.2 L287.0,364.3 L288.0,364.4 L289.0,364.5 L290.0,364.6 L291.0,364.7 L292.0,364.8 L293.0,364.9 L294.0,365.0 L295.0,365.1 L296.0,365.2 L297.0,365.3 L298.0,365.5 L299.0,365.6 L300.0,365.7 L301.0,365.8 L302.0,365.9 L303.0,366.0 L304.0,366.1 L305.0,366.2 L306.0,366.3 L307.0,366.4 L308.0,366.5 L309.0,366.6 L310.0,366.6 L311.0,366.7 L312.0,366.8 L313.0,366.9 L314.0,367.0 L315.0,367.1 L316.0,367.1 L317.0,367.2 L318.0,367.3 L319.0,367.3 L320.0,367.4 L321.0,367.5 L322.0,367.5 L323.0,367.6 L324.0,367.6 L325.0,367.6 L326.0,367.7 L327.0,367.7 L328.0,367.7 L329.0,367.7 L330.0,367.7 L331.0,367.7 L332.0,367.7 L333.0,367.7 L334.0,367.6 L335.0,367.6 L336.0,367.5 L337.0,367.5 L338.0,367.4 L339.0,367.3 L340.0,367.2 L341.0,367.1 L342.0,366.9 L343.0,366.8 L344.0,366.6 L345.0,366.4 L346.0,366.2 L347.0,366.0 L348.0,365.8 L349.0,365.5 L350.0,365.2 L351.0,364.9 L352.0,364.6 L353.0,364.2 L354.0,363.8 L355.0,363.4 L356.0,362.9 L357.0,362.4 L358.0,361.9 L359.0,361.4 L360.0,360.8 L361.0,360.1 L362.0,359.5 L363.0,358.7 L364.0,358.0 L365.0,357.2 L366.0,356.3 L367.0,355.4 L368.0,354.5 L369.0,353.5 L370.0,352.4 L371.0,351.3 L372.0,350.1 L373.0,348.9 L374.0,347.6 L375.0,346.2 L376.0,344.8 L377.0,343.3 L378.0,341.7 L379.0,340.1 L380.0,338.4 L381.0,336.6 L382.0,334.8 L383.0,332.8 L384.0,330.8 L385.0,328.7 L386.0,326.6 L387.0,324.3 L388.0,322.0 L389.0,319.6 L390.0,317.1 L391.0,314.5 L392.0,311.9 L393.0,309.1 L394.0,306.3 L395.0,303.4 L396.0,300.4 L397.0,297.3 L398.0,294.2 L399.0,291.0 L400.0,287.6 L401.0,284.2 L402.0,280.8 L403.0,277.2 L404.0,273.6 L405.0,269.9 L406.0,266.2 L407.0,262.4 L408.0,258.5 L409.0,254.6 L410.0,250.6 L411.0,246.6 L412.0,242.5 L413.0,238.4 L414.0,234.2 L415.0,230.0 L416.0,225.8 L417.0,221.5 L418.0,217.3 L419.0,213.0 L420.0,208.7 L421.0,204.4 L422.0,200.2 L423.0,195.9 L424.0,191.7 L425.0,187.4 L426.0,183.3 L427.0,179.1 L428.0,175.0 L429.0,171.0 L430.0,167.0 L431.0,163.1 L432.0,159.2 L433.0,155.4 L434.0,151.8 L435.0,148.2 L436.0,144.7 L437.0,141.3 L438.0,138.1 L439.0,134.9 L440.0,131.9 L441.0,129.1 L442.0,126.3 L443.0,123.8 L444.0,121.3 L445.0,119.1 L446.0,117.0 L447.0,115.0 L448.0,113.3 L449.0,111.7 L450.0,110.3 L451.0,109.0 L452.0,108.0 L453.0,107.2 L454.0,106.5 L455.0,106.1 L456.0,105.8 L457.0,105.7 L458.0,105.9 L459.0,106.2 L460.0,106.7 L461.0,107.4 L462.0,108.3 L463.0,109.3 L464.0,110.6 L465.0,112.0 L466.0,113.5 L467.0,115.3 L468.0,117.2 L469.0,119.3 L470.0,121.5 L471.0,123.9 L472.0,126.5 L473.0,129.1 L474.0,132.0 L475.0,134.9 L476.0,138.0 L477.0,141.2 L478.0,144.5 L479.0,148.0 L480.0,151.5 L481.0,155.1 L482.0,158.9 L483.0,162.7 L484.0,166.6 L485.0,170.5 L486.0,174.6 L487.0,178.6 L488.0,182.8 L489.0,187.0 L490.0,191.2 L491.0,195.5 L492.0,199.8 L493.0,204.1 L494.0,208.4 L495.0,212.7 L496.0,217.1 L497.0,221.4 L498.0,225.7 L499.0,230.1 L500.0,234.4 L501.0,238.6 L502.0,242.9 L503.0,247.1 L504.0,251.3 L505.0,255.4 L506.0,259.5 L507.0,263.6 L508.0,267.6 L509.0,271.5 L510.0,275.4 L511.0,279.2 L512.0,283.0 L513.0,286.7 L514.0,290.3 L515.0,293.9 L516.0,297.4 L517.0,300.8 L518.0,304.1 L519.0,307.4 L520.0,310.5 L521.0,313.6 L522.0,316.7 L523.0,319.6 L524.0,322.5 L525.0,325.3 L526.0,328.0 L527.0,330.6 L528.0,333.1 L529.0,335.6 L530.0,338.0 L531.0,340.3 L532.0,342.5 L533.0,344.6 L534.0,346.7 L535.0,348.7 L536.0,350.6 L537.0,352.5 L538.0,354.3 L539.0,356.0 L540.0,357.6 L541.0,359.2 L542.0,360.7 L543.0,362.2 L544.0,363.6 L545.0,364.9 L546.0,366.2 L547.0,367.4 L548.0,368.5 L549.0,369.6 L550.0,370.7 L551.0,371.7 L552.0,372.7 L553.0,373.6 L554.0,374.4 L555.0,375.3 L556.0,376.0 L557.0,376.8 L558.0,377.5 L559.0,378.1 L560.0,378.8 L561.0,379.4 L562.0,379.9 L563.0,380.5 L564.0,381.0 L565.0,381.4 L566.0,381.9 L567.0,382.3 L568.0,382.7 L569.0,383.1 L570.0,383.5 L571.0,383.8 L572.0,384.1 L573.0,384.4 L574.0,384.7 L575.0,384.9 L576.0,385.2 L577.0,385.4 L578.0,385.6 L579.0,385.8 L580.0,386.0 L581.0,386.2 L582.0,386.4 L583.0,386.5 L584.0,386.7 L585.0,386.8 L586.0,386.9 L587.0,387.1 L588.0,387.2 L589.0,387.3 L590.0,387.4 L591.0,387.5 L592.0,387.6 L593.0,387.6 L594.0,387.7 L595.0,387.8 L596.0,387.9 L597.0,387.9 L598.0,388.0 L599.0,388.0 L600.0,388.1 L601.0,388.1 L602.0,388.2 L603.0,388.2 L604.0,388.3 L605.0,388.3 L606.0,388.3 L607.0,388.4 L608.0,388.4 L609.0,388.4 L610.0,388.5 L611.0,388.5 L612.0,388.5 L613.0,388.6 L614.0,388.6 L615.0,388.6 L616.0,388.6 L617.0,388.7 L618.0,388.7 L619.0,388.7 L620.0,388.7 L621.0,388.7 L622.0,388.8 L623.0,388.8 L624.0,388.8 L625.0,388.8" stroke="#3a8a40" />
<path d="M726.0,367.8 L727.0,367.8 L728.0,367.8 L729.0,367.8 L730.0,367.8 L731.0,367.7 L732.0,367.7 L733.0,367.7 L734.0,367.7 L735.0,367.7 L736.0,367.7 L737.0,367.7 L738.0,367.7 L739.0,367.6 L740.0,367.6 L741.0,367.6 L742.0,367.6 L743.0,367.6 L744.0,367.6 L745.0,367.6 L746.0,367.5 L747.0,367.5 L748.0,367.5 L749.0,367.5 L750.0,367.5 L751.0,367.5 L752.0,367.5 L753.0,367.4 L754.0,367.4 L755.0,367.4 L756.0,367.4 L757.0,367.4 L758.0,367.4 L759.0,367.4 L760.0,367.3 L761.0,367.3 L762.0,367.3 L763.0,367.3 L764.0,367.3 L765.0,367.3 L766.0,367.3 L767.0,367.2 L768.0,367.2 L769.0,367.2 L770.0,367.2 L771.0,367.2 L772.0,367.2 L773.0,367.2 L774.0,367.2 L775.0,367.2 L776.0,367.1 L777.0,367.1 L778.0,367.1 L779.0,367.1 L780.0,367.1 L781.0,367.1 L782.0,367.1 L783.0,367.1 L784.0,367.1 L785.0,367.1 L786.0,367.1 L787.0,367.0 L788.0,367.0 L789.0,367.0 L790.0,367.0 L791.0,367.0 L792.0,367.0 L793.0,367.0 L794.0,367.0 L795.0,367.0 L796.0,367.0 L797.0,367.0 L798.0,367.0 L799.0,367.0 L800.0,367.0 L801.0,367.0 L802.0,367.0 L803.0,367.0 L804.0,367.0 L805.0,367.0 L806.0,367.0 L807.0,367.0 L808.0,367.0 L809.0,367.0 L810.0,367.0 L811.0,367.0 L812.0,367.0 L813.0,367.0 L814.0,367.0 L815.0,367.0 L816.0,367.0 L817.0,367.0 L818.0,367.0 L819.0,367.0 L820.0,367.0 L821.0,367.0 L822.0,367.0 L823.0,367.0 L824.0,367.0 L825.0,367.0 L826.0,367.0 L827.0,367.0 L828.0,367.0 L829.0,367.0 L830.0,367.0 L831.0,367.0 L832.0,367.0 L833.0,367.0 L834.0,367.0 L835.0,367.0 L836.0,367.0 L837.0,367.0 L838.0,367.0 L839.0,367.0 L840.0,367.0 L841.0,367.0 L842.0,367.0 L843.0,367.0 L844.0,367.0 L845.0,367.0 L846.0,367.0 L847.0,367.0 L848.0,367.0 L849.0,367.0 L850.0,367.0 L851.0,367.0 L852.0,367.0 L853.0,367.0 L854.0,367.0 L855.0,367.0 L856.0,367.0 L857.0,367.0 L858.0,367.0 L859.0,367.0 L860.0,367.0 L861.0,367.0 L862.0,367.0 L863.0,367.0 L864.0,367.0 L865.0,367.0 L866.0,367.0 L867.0,367.0 L868.0,367.0 L869.0,367.0 L870.0,367.0 L871.0,367.0 L872.0,367.0 L873.0,367.0 L874.0,367.0 L875.0,367.0 L876.0,367.0 L877.0,367.0 L878.0,367.0 L879.0,367.0 L880.0,367.0 L881.0,367.0 L882.0,367.0 L883.0,367.0 L884.0,367.0 L885.0,367.0 L886.0,367.0 L887.0,367.0 L888.0,367.0 L889.0,367.1 L890.0,367.1 L891.0,367.1 L892.0,367.1 L893.0,367.1 L894.0,367.1 L895.0,367.1 L896.0,367.2 L897.0,367.2 L898.0,367.2 L899.0,367.2 L900.0,367.3 L901.0,367.3 L902.0,367.3 L903.0,367.3 L904.0,367.4 L905.0,367.4 L906.0,367.4 L907.0,367.4 L908.0,367.5 L909.0,367.5 L910.0,367.5 L911.0,367.6 L912.0,367.6 L913.0,367.6 L914.0,367.7 L915.0,367.7 L916.0,367.7 L917.0,367.8 L918.0,367.8 L919.0,367.8 L920.0,367.9 L921.0,367.9 L922.0,368.0 L923.0,368.0 L924.0,368.0 L925.0,368.1 L926.0,368.1 L927.0,368.1 L928.0,368.2 L929.0,368.2 L930.0,368.2 L931.0,368.3 L932.0,368.3 L933.0,368.3 L934.0,368.4 L935.0,368.4 L936.0,368.5 L937.0,368.5 L938.0,368.5 L939.0,368.6 L940.0,368.6 L941.0,368.7 L942.0,368.7 L943.0,368.8 L944.0,368.8 L945.0,368.9 L946.0,368.9 L947.0,369.0 L948.0,369.0 L949.0,369.1 L950.0,369.1 L951.0,369.1 L952.0,369.2 L953.0,369.2 L954.0,369.3 L955.0,369.3 L956.0,369.4 L957.0,369.4 L958.0,369.4 L959.0,369.5 L960.0,369.5 L961.0,369.6 L962.0,369.6 L963.0,369.6 L964.0,369.7 L965.0,369.7 L966.0,369.8 L967.0,369.8 L968.0,369.8 L969.0,369.9 L970.0,369.9 L971.0,370.0 L972.0,370.0 L973.0,370.1 L974.0,370.1 L975.0,370.2 L976.0,370.2 L977.0,370.2 L978.0,370.3 L979.0,370.3 L980.0,370.4 L981.0,370.5 L982.0,370.5 L983.0,370.6 L984.0,370.6 L985.0,370.7 L986.0,370.7 L987.0,370.8 L988.0,370.8 L989.0,370.9 L990.0,371.0 L991.0,371.0 L992.0,371.1 L993.0,371.2 L994.0,371.2 L995.0,371.3 L996.0,371.4 L997.0,371.4 L998.0,371.5 L999.0,371.6 L1000.0,371.7 L1001.0,371.8 L1002.0,371.8 L1003.0,371.9 L1004.0,372.0 L1005.0,372.1 L1006.0,372.2 L1007.0,372.3 L1008.0,372.4 L1009.0,372.5 L1010.0,372.6 L1011.0,372.7 L1012.0,372.8 L1013.0,372.9 L1014.0,373.0 L1015.0,373.1 L1016.0,373.2 L1017.0,373.3 L1018.0,373.4 L1019.0,373.5 L1020.0,373.6 L1021.0,373.7 L1022.0,373.8 L1023.0,374.0 L1024.0,374.1 L1025.0,374.2 L1026.0,374.3 L1027.0,374.4 L1028.0,374.6 L1029.0,374.7 L1030.0,374.8 L1031.0,374.9 L1032.0,375.1 L1033.0,375.2 L1034.0,375.3 L1035.0,375.4 L1036.0,375.6 L1037.0,375.7 L1038.0,375.8 L1039.0,376.0 L1040.0,376.1 L1041.0,376.2 L1042.0,376.4 L1043.0,376.5 L1044.0,376.7 L1045.0,376.8 L1046.0,376.9 L1047.0,377.1 L1048.0,377.2 L1049.0,377.4 L1050.0,377.5 L1051.0,377.7 L1052.0,377.9 L1053.0,378.0 L1054.0,378.2 L1055.0,378.4 L1056.0,378.5 L1057.0,378.7 L1058.0,378.9 L1059.0,379.1 L1060.0,379.3 L1061.0,379.5 L1062.0,379.6 L1063.0,379.8 L1064.0,380.0 L1065.0,380.2 L1066.0,380.4 L1067.0,380.6 L1068.0,380.8 L1069.0,381.0 L1070.0,381.2 L1071.0,381.3 L1072.0,381.5 L1073.0,381.7 L1074.0,381.9 L1075.0,382.1 L1076.0,382.3 L1077.0,382.5 L1078.0,382.7 L1079.0,382.8 L1080.0,383.0 L1081.0,383.2 L1082.0,383.4 L1083.0,383.6 L1084.0,383.8 L1085.0,384.0 L1086.0,384.3 L1087.0,384.5 L1088.0,384.7 L1089.0,384.9 L1090.0,385.1 L1091.0,385.3 L1092.0,385.5 L1093.0,385.7 L1094.0,385.9 L1095.0,386.1 L1096.0,386.3 L1097.0,386.5 L1098.0,386.7 L1099.0,386.9 L1100.0,387.1 L1101.0,387.3 L1102.0,387.5 L1103.0,387.6 L1104.0,387.8 L1105.0,388.0 L1106.0,388.2 L1107.0,388.3 L1108.0,388.5 L1109.0,388.7 L1110.0,388.8 L1111.0,388.9 L1112.0,389.1 L1113.0,389.2 L1114.0,389.4 L1115.0,389.5 L1116.0,389.7 L1117.0,389.8 L1118.0,389.9 L1119.0,390.1 L1120.0,390.2 L1121.0,390.3 L1122.0,390.5 L1123.0,390.6 L1124.0,390.7 L1125.0,390.9 L1126.0,391.0 L1127.0,391.1 L1128.0,391.2 L1129.0,391.4 L1130.0,391.5 L1131.0,391.6 L1132.0,391.7 L1133.0,391.8 L1134.0,391.9 L1135.0,392.1 L1136.0,392.2 L1137.0,392.3 L1138.0,392.4 L1139.0,392.5 L1140.0,392.6 L1141.0,392.7 L1142.0,392.8 L1143.0,392.9 L1144.0,393.0 L1145.0,393.1 L1146.0,393.2 L1147.0,393.2 L1148.0,393.3 L1149.0,393.4 L1150.0,393.5 L1151.0,393.6 L1152.0,393.7 L1153.0,393.7 L1154.0,393.8 L1155.0,393.9 L1156.0,394.0 L1157.0,394.1 L1158.0,394.1 L1159.0,394.2 L1160.0,394.3 L1161.0,394.4 L1162.0,394.4 L1163.0,394.5 L1164.0,394.6 L1165.0,394.7 L1166.0,394.8 L1167.0,394.8 L1168.0,394.9 L1169.0,395.0 L1170.0,395.0 L1171.0,395.1 L1172.0,395.2 L1173.0,395.2 L1174.0,395.3 L1175.0,395.4 L1176.0,395.4 L1177.0,395.5 L1178.0,395.6 L1179.0,395.6 L1180.0,395.7 L1181.0,395.7 L1182.0,395.8 L1183.0,395.9 L1184.0,395.9 L1185.0,396.0 L1186.0,396.0 L1187.0,396.1 L1188.0,396.1 L1189.0,396.1 L1190.0,396.2 L1191.0,396.2 L1192.0,396.3 L1193.0,396.3 L1194.0,396.3 L1195.0,396.4 L1196.0,396.4 L1197.0,396.4 L1198.0,396.5 L1199.0,396.5 L1200.0,396.5 L1201.0,396.5 L1202.0,396.5 L1203.0,396.6 L1204.0,396.6 L1205.0,396.6 L1206.0,396.6 L1207.0,396.6 L1208.0,396.6 L1209.0,396.7 L1210.0,396.7 L1211.0,396.7 L1212.0,396.7 L1213.0,396.7 L1214.0,396.7 L1215.0,396.8 L1216.0,396.8 L1217.0,396.8 L1218.0,396.8 L1219.0,396.8 L1220.0,396.8 L1221.0,396.8 L1222.0,396.9 L1223.0,396.9 L1224.0,396.9 L1225.0,396.9 L1226.0,396.9 L1227.0,396.9 L1228.0,396.9 L1229.0,396.9 L1230.0,397.0 L1231.0,397.0 L1232.0,397.0 L1233.0,397.0 L1234.0,397.0 L1235.0,397.0 L1236.0,397.0 L1237.0,397.0 L1238.0,397.0 L1239.0,397.0 L1240.0,397.1 L1241.0,397.1 L1242.0,397.1 L1243.0,397.1 L1244.0,397.1 L1245.0,397.1 L1246.0,397.1 L1247.0,397.1 L1248.0,397.1 L1249.0,397.1 L1250.0,397.2 L1251.0,397.2 L1252.0,397.2 L1253.0,397.2 L1254.0,397.2 L1255.0,397.2 L1256.0,397.2 L1257.0,397.2 L1258.0,397.2 L1259.0,397.2 L1260.0,397.2 L1261.0,397.2 L1262.0,397.2 L1263.0,397.3 L1264.0,397.3 L1265.0,397.3 L1266.0,397.3 L1267.0,397.3 L1268.0,397.3 L1269.0,397.3 L1270.0,397.3 L1271.0,397.3 L1272.0,397.3 L1273.0,397.3 L1274.0,397.3 L1275.0,397.3 L1276.0,397.4 L1277.0,397.4 L1278.0,397.4 L1279.0,397.4 L1280.0,397.4 L1281.0,397.4 L1282.0,397.4 L1283.0,397.4 L1284.0,397.4 L1285.0,397.4 L1286.0,397.4 L1287.0,397.4 L1288.0,397.4 L1289.0,397.5 L1290.0,397.5 L1291.0,397.5 L1292.0,397.5 L1293.0,397.5 L1294.0,397.5 L1295.0,397.5 L1296.0,397.5 L1297.0,397.5 L1298.0,397.5 L1299.0,397.5 L1300.0,397.6 L1301.0,397.6 L1302.0,397.6 L1303.0,397.6 L1304.0,397.6" stroke="#3028a8" />
<path d="M726.0,373.4 L728.5,369.5 L731.0,371.4 L733.5,368.5 L736.0,368.9 L738.5,369.2 L741.0,369.1 L743.5,370.8 L746.0,371.8 L748.5,369.8 L751.0,370.6 L753.5,370.4 L756.0,368.3 L758.5,372.3 L761.0,370.5 L763.5,371.1 L766.0,366.6 L768.5,371.6 L771.0,374.4 L773.5,371.7 L776.0,373.8 L778.5,371.4 L781.0,374.1 L783.5,372.2 L786.0,369.7 L788.5,370.8 L791.0,367.7 L793.5,370.3 L796.0,371.7 L798.5,370.1 L801.0,371.0 L803.5,369.8 L806.0,370.7 L808.5,369.5 L811.0,370.2 L813.5,367.6 L816.0,365.5 L818.5,365.9 L821.0,364.7 L823.5,364.9 L826.0,362.7 L828.5,361.7 L831.0,361.8 L833.5,359.7 L836.0,358.7 L838.5,357.5 L841.0,358.7 L843.5,357.4 L846.0,356.1 L848.5,357.1 L851.0,354.6 L853.5,352.6 L856.0,354.1 L858.5,351.8 L861.0,350.1 L863.5,348.1 L866.0,347.5 L868.5,347.3 L871.0,344.9 L873.5,342.7 L876.0,339.8 L878.5,338.5 L881.0,339.8 L883.5,337.1 L886.0,337.0 L888.5,332.3 L891.0,331.0 L893.5,330.4 L896.0,329.7 L898.5,327.7 L901.0,323.9 L903.5,322.6 L906.0,322.5 L908.5,319.5 L911.0,319.6 L913.5,316.4 L916.0,315.2 L918.5,312.9 L921.0,307.3 L923.5,309.1 L926.0,307.8 L928.5,307.4 L931.0,302.7 L933.5,301.1 L936.0,299.8 L938.5,300.5 L941.0,297.8 L943.5,297.3 L946.0,296.3 L948.5,294.8 L951.0,291.6 L953.5,291.6 L956.0,291.2 L958.5,292.1 L961.0,286.7 L963.5,287.5 L966.0,284.2 L968.5,285.1 L971.0,283.4 L973.5,280.4 L976.0,279.3 L978.5,277.9 L981.0,278.9 L983.5,275.3 L986.0,274.1 L988.5,269.2 L991.0,267.1 L993.5,266.5 L996.0,263.6 L998.5,259.9 L1001.0,257.9 L1003.5,253.1 L1006.0,246.9 L1008.5,244.5 L1011.0,239.3 L1013.5,234.3 L1016.0,226.5 L1018.5,220.7 L1021.0,216.7 L1023.5,210.6 L1026.0,205.8 L1028.5,201.8 L1031.0,192.7 L1033.5,187.2 L1036.0,182.8 L1038.5,172.5 L1041.0,165.3 L1043.5,158.9 L1046.0,152.6 L1048.5,142.6 L1051.0,133.2 L1053.5,132.2 L1056.0,122.0 L1058.5,114.3 L1061.0,106.1 L1063.5,99.0 L1066.0,92.7 L1068.5,86.5 L1071.0,84.6 L1073.5,80.0 L1076.0,76.6 L1078.5,73.2 L1081.0,71.3 L1083.5,67.7 L1086.0,70.0 L1088.5,67.5 L1091.0,67.8 L1093.5,69.4 L1096.0,71.8 L1098.5,75.1 L1101.0,76.2 L1103.5,77.6 L1106.0,85.7 L1108.5,88.6 L1111.0,93.8 L1113.5,96.3 L1116.0,103.2 L1118.5,112.4 L1121.0,119.6 L1123.5,125.3 L1126.0,131.1 L1128.5,138.0 L1131.0,147.4 L1133.5,153.8 L1136.0,165.7 L1138.5,173.8 L1141.0,181.2 L1143.5,188.7 L1146.0,200.8 L1148.5,210.3 L1151.0,217.0 L1153.5,227.1 L1156.0,237.0 L1158.5,246.1 L1161.0,253.8 L1163.5,261.7 L1166.0,271.2 L1168.5,280.4 L1171.0,288.9 L1173.5,295.2 L1176.0,301.3 L1178.5,306.2 L1181.0,314.3 L1183.5,319.4 L1186.0,324.7 L1188.5,331.5 L1191.0,337.8 L1193.5,341.2 L1196.0,343.6 L1198.5,351.2 L1201.0,352.6 L1203.5,358.1 L1206.0,361.8 L1208.5,363.5 L1211.0,366.8 L1213.5,369.2 L1216.0,371.9 L1218.5,374.1 L1221.0,377.7 L1223.5,377.2 L1226.0,379.7 L1228.5,382.3 L1231.0,385.1 L1233.5,385.9 L1236.0,385.1 L1238.5,386.6 L1241.0,385.9 L1243.5,388.0 L1246.0,386.4 L1248.5,389.4 L1251.0,390.0 L1253.5,390.2 L1256.0,389.2 L1258.5,391.3 L1261.0,391.4 L1263.5,389.4 L1266.0,389.9 L1268.5,393.9 L1271.0,390.7 L1273.5,389.2 L1276.0,394.4 L1278.5,390.3 L1281.0,392.3 L1283.5,394.7 L1286.0,392.5 L1288.5,393.8 L1291.0,390.8 L1293.5,394.1 L1296.0,394.1 L1298.5,394.2 L1301.0,396.5 L1303.5,393.0" stroke="#141414" stroke-width="3.0" />
<path d="M726.0,367.3 L727.0,367.3 L728.0,367.3 L729.0,367.3 L730.0,367.2 L731.0,367.2 L732.0,367.2 L733.0,367.2 L734.0,367.1 L735.0,367.1 L736.0,367.1 L737.0,367.1 L738.0,367.0 L739.0,367.0 L740.0,367.0 L741.0,367.0 L742.0,366.9 L743.0,366.9 L744.0,366.9 L745.0,366.9 L746.0,366.8 L747.0,366.8 L748.0,366.8 L749.0,366.7 L750.0,366.7 L751.0,366.7 L752.0,366.7 L753.0,366.6 L754.0,366.6 L755.0,366.6 L756.0,366.5 L757.0,366.5 L758.0,366.5 L759.0,366.4 L760.0,366.4 L761.0,366.4 L762.0,366.3 L763.0,366.3 L764.0,366.3 L765.0,366.2 L766.0,366.2 L767.0,366.2 L768.0,366.1 L769.0,366.1 L770.0,366.1 L771.0,366.0 L772.0,366.0 L773.0,365.9 L774.0,365.9 L775.0,365.9 L776.0,365.8 L777.0,365.8 L778.0,365.7 L779.0,365.7 L780.0,365.7 L781.0,365.6 L782.0,365.6 L783.0,365.5 L784.0,365.5 L785.0,365.4 L786.0,365.4 L787.0,365.3 L788.0,365.3 L789.0,365.2 L790.0,365.2 L791.0,365.1 L792.0,365.0 L793.0,365.0 L794.0,364.9 L795.0,364.9 L796.0,364.8 L797.0,364.7 L798.0,364.7 L799.0,364.6 L800.0,364.5 L801.0,364.4 L802.0,364.4 L803.0,364.3 L804.0,364.2 L805.0,364.1 L806.0,364.0 L807.0,363.9 L808.0,363.8 L809.0,363.7 L810.0,363.6 L811.0,363.5 L812.0,363.4 L813.0,363.3 L814.0,363.2 L815.0,363.1 L816.0,362.9 L817.0,362.8 L818.0,362.7 L819.0,362.5 L820.0,362.4 L821.0,362.3 L822.0,362.1 L823.0,361.9 L824.0,361.8 L825.0,361.6 L826.0,361.4 L827.0,361.3 L828.0,361.1 L829.0,360.9 L830.0,360.7 L831.0,360.5 L832.0,360.3 L833.0,360.1 L834.0,359.8 L835.0,359.6 L836.0,359.4 L837.0,359.1 L838.0,358.9 L839.0,358.6 L840.0,358.4 L841.0,358.1 L842.0,357.8 L843.0,357.6 L844.0,357.3 L845.0,357.0 L846.0,356.7 L847.0,356.3 L848.0,356.0 L849.0,355.7 L850.0,355.4 L851.0,355.0 L852.0,354.7 L853.0,354.3 L854.0,353.9 L855.0,353.5 L856.0,353.2 L857.0,352.8 L858.0,352.4 L859.0,351.9 L860.0,351.5 L861.0,351.1 L862.0,350.6 L863.0,350.2 L864.0,349.7 L865.0,349.3 L866.0,348.8 L867.0,348.3 L868.0,347.8 L869.0,347.3 L870.0,346.8 L871.0,346.3 L872.0,345.8 L873.0,345.2 L874.0,344.7 L875.0,344.1 L876.0,343.6 L877.0,343.0 L878.0,342.4 L879.0,341.8 L880.0,341.2 L881.0,340.6 L882.0,340.0 L883.0,339.4 L884.0,338.8 L885.0,338.2 L886.0,337.5 L887.0,336.9 L888.0,336.3 L889.0,335.6 L890.0,335.0 L891.0,334.3 L892.0,333.6 L893.0,333.0 L894.0,332.3 L895.0,331.6 L896.0,330.9 L897.0,330.3 L898.0,329.6 L899.0,328.9 L900.0,328.2 L901.0,327.5 L902.0,326.8 L903.0,326.1 L904.0,325.4 L905.0,324.7 L906.0,324.0 L907.0,323.3 L908.0,322.6 L909.0,321.9 L910.0,321.2 L911.0,320.4 L912.0,319.7 L913.0,319.0 L914.0,318.3 L915.0,317.6 L916.0,316.9 L917.0,316.2 L918.0,315.5 L919.0,314.8 L920.0,314.2 L921.0,313.5 L922.0,312.8 L923.0,312.1 L924.0,311.4 L925.0,310.8 L926.0,310.1 L927.0,309.4 L928.0,308.8 L929.0,308.1 L930.0,307.5 L931.0,306.8 L932.0,306.2 L933.0,305.6 L934.0,305.0 L935.0,304.3 L936.0,303.7 L937.0,303.1 L938.0,302.5 L939.0,302.0 L940.0,301.4 L941.0,300.8 L942.0,300.3 L943.0,299.7 L944.0,299.2 L945.0,298.6 L946.0,298.1 L947.0,297.6 L948.0,297.1 L949.0,296.5 L950.0,296.0 L951.0,295.5 L952.0,295.0 L953.0,294.5 L954.0,294.0 L955.0,293.5 L956.0,293.0 L957.0,292.5 L958.0,292.1 L959.0,291.6 L960.0,291.1 L961.0,290.6 L962.0,290.1 L963.0,289.6 L964.0,289.1 L965.0,288.6 L966.0,288.1 L967.0,287.6 L968.0,287.1 L969.0,286.5 L970.0,286.0 L971.0,285.5 L972.0,284.9 L973.0,284.4 L974.0,283.8 L975.0,283.2 L976.0,282.6 L977.0,282.0 L978.0,281.4 L979.0,280.8 L980.0,280.1 L981.0,279.4 L982.0,278.7 L983.0,278.0 L984.0,277.2 L985.0,276.4 L986.0,275.6 L987.0,274.7 L988.0,273.8 L989.0,272.9 L990.0,271.9 L991.0,270.9 L992.0,269.8 L993.0,268.8 L994.0,267.6 L995.0,266.5 L996.0,265.2 L997.0,264.0 L998.0,262.7 L999.0,261.3 L1000.0,259.9 L1001.0,258.5 L1002.0,257.0 L1003.0,255.5 L1004.0,253.9 L1005.0,252.3 L1006.0,250.6 L1007.0,248.9 L1008.0,247.1 L1009.0,245.3 L1010.0,243.4 L1011.0,241.5 L1012.0,239.5 L1013.0,237.5 L1014.0,235.4 L1015.0,233.3 L1016.0,231.2 L1017.0,229.1 L1018.0,227.0 L1019.0,224.9 L1020.0,222.7 L1021.0,220.6 L1022.0,218.4 L1023.0,216.2 L1024.0,214.0 L1025.0,211.8 L1026.0,209.4 L1027.0,207.1 L1028.0,204.6 L1029.0,202.1 L1030.0,199.5 L1031.0,196.9 L1032.0,194.2 L1033.0,191.5 L1034.0,188.8 L1035.0,186.1 L1036.0,183.4 L1037.0,180.6 L1038.0,177.8 L1039.0,174.9 L1040.0,172.0 L1041.0,169.1 L1042.0,166.2 L1043.0,163.2 L1044.0,160.1 L1045.0,157.1 L1046.0,154.0 L1047.0,150.9 L1048.0,147.9 L1049.0,144.8 L1050.0,141.8 L1051.0,138.9 L1052.0,135.9 L1053.0,133.0 L1054.0,130.2 L1055.0,127.3 L1056.0,124.5 L1057.0,121.5 L1058.0,118.5 L1059.0,115.5 L1060.0,112.5 L1061.0,109.6 L1062.0,106.8 L1063.0,104.1 L1064.0,101.6 L1065.0,99.3 L1066.0,97.2 L1067.0,95.1 L1068.0,93.2 L1069.0,91.3 L1070.0,89.5 L1071.0,87.8 L1072.0,86.2 L1073.0,84.7 L1074.0,83.3 L1075.0,82.0 L1076.0,80.8 L1077.0,79.6 L1078.0,78.6 L1079.0,77.7 L1080.0,76.9 L1081.0,76.2 L1082.0,75.6 L1083.0,75.2 L1084.0,74.8 L1085.0,74.5 L1086.0,74.3 L1087.0,74.3 L1088.0,74.3 L1089.0,74.4 L1090.0,74.7 L1091.0,75.0 L1092.0,75.4 L1093.0,76.0 L1094.0,76.6 L1095.0,77.3 L1096.0,78.1 L1097.0,79.0 L1098.0,80.0 L1099.0,81.0 L1100.0,82.2 L1101.0,83.4 L1102.0,84.7 L1103.0,86.0 L1104.0,87.3 L1105.0,88.7 L1106.0,90.2 L1107.0,91.7 L1108.0,93.3 L1109.0,94.9 L1110.0,96.6 L1111.0,98.4 L1112.0,100.3 L1113.0,102.3 L1114.0,104.4 L1115.0,106.5 L1116.0,108.8 L1117.0,111.2 L1118.0,113.6 L1119.0,116.1 L1120.0,118.7 L1121.0,121.4 L1122.0,124.1 L1123.0,126.9 L1124.0,129.7 L1125.0,132.6 L1126.0,135.5 L1127.0,138.4 L1128.0,141.4 L1129.0,144.5 L1130.0,147.5 L1131.0,150.6 L1132.0,153.7 L1133.0,156.9 L1134.0,160.1 L1135.0,163.5 L1136.0,166.8 L1137.0,170.2 L1138.0,173.7 L1139.0,177.2 L1140.0,180.7 L1141.0,184.3 L1142.0,187.9 L1143.0,191.6 L1144.0,195.2 L1145.0,198.9 L1146.0,202.6 L1147.0,206.4 L1148.0,210.1 L1149.0,213.8 L1150.0,217.6 L1151.0,221.3 L1152.0,225.1 L1153.0,228.8 L1154.0,232.5 L1155.0,236.2 L1156.0,239.9 L1157.0,243.6 L1158.0,247.2 L1159.0,250.8 L1160.0,254.4 L1161.0,258.0 L1162.0,261.4 L1163.0,264.8 L1164.0,268.2 L1165.0,271.5 L1166.0,274.7 L1167.0,277.9 L1168.0,281.0 L1169.0,284.1 L1170.0,287.1 L1171.0,290.0 L1172.0,292.9 L1173.0,295.8 L1174.0,298.5 L1175.0,301.3 L1176.0,304.0 L1177.0,306.6 L1178.0,309.2 L1179.0,311.8 L1180.0,314.3 L1181.0,316.8 L1182.0,319.3 L1183.0,321.7 L1184.0,324.1 L1185.0,326.4 L1186.0,328.7 L1187.0,331.0 L1188.0,333.2 L1189.0,335.4 L1190.0,337.5 L1191.0,339.5 L1192.0,341.5 L1193.0,343.5 L1194.0,345.4 L1195.0,347.3 L1196.0,349.1 L1197.0,350.8 L1198.0,352.5 L1199.0,354.1 L1200.0,355.7 L1201.0,357.2 L1202.0,358.7 L1203.0,360.2 L1204.0,361.6 L1205.0,363.0 L1206.0,364.3 L1207.0,365.6 L1208.0,366.8 L1209.0,368.1 L1210.0,369.2 L1211.0,370.4 L1212.0,371.5 L1213.0,372.5 L1214.0,373.6 L1215.0,374.6 L1216.0,375.5 L1217.0,376.4 L1218.0,377.3 L1219.0,378.2 L1220.0,379.0 L1221.0,379.7 L1222.0,380.5 L1223.0,381.2 L1224.0,381.8 L1225.0,382.5 L1226.0,383.1 L1227.0,383.6 L1228.0,384.2 L1229.0,384.7 L1230.0,385.1 L1231.0,385.5 L1232.0,385.9 L1233.0,386.3 L1234.0,386.7 L1235.0,387.1 L1236.0,387.4 L1237.0,387.7 L1238.0,388.0 L1239.0,388.3 L1240.0,388.6 L1241.0,388.9 L1242.0,389.1 L1243.0,389.4 L1244.0,389.6 L1245.0,389.8 L1246.0,390.0 L1247.0,390.2 L1248.0,390.4 L1249.0,390.6 L1250.0,390.7 L1251.0,390.9 L1252.0,391.1 L1253.0,391.2 L1254.0,391.3 L1255.0,391.5 L1256.0,391.6 L1257.0,391.7 L1258.0,391.8 L1259.0,392.0 L1260.0,392.1 L1261.0,392.2 L1262.0,392.3 L1263.0,392.4 L1264.0,392.4 L1265.0,392.5 L1266.0,392.6 L1267.0,392.7 L1268.0,392.8 L1269.0,392.8 L1270.0,392.9 L1271.0,393.0 L1272.0,393.0 L1273.0,393.1 L1274.0,393.2 L1275.0,393.2 L1276.0,393.3 L1277.0,393.3 L1278.0,393.4 L1279.0,393.4 L1280.0,393.5 L1281.0,393.5 L1282.0,393.6 L1283.0,393.6 L1284.0,393.6 L1285.0,393.7 L1286.0,393.7 L1287.0,393.8 L1288.0,393.8 L1289.0,393.8 L1290.0,393.9 L1291.0,393.9 L1292.0,394.0 L1293.0,394.0 L1294.0,394.0 L1295.0,394.1 L1296.0,394.1 L1297.0,394.1 L1298.0,394.2 L1299.0,394.2 L1300.0,394.2 L1301.0,394.3 L1302.0,394.3 L1303.0,394.3 L1304.0,394.4" stroke="#dc2832" />
<path d="M726.0,367.8 L727.0,367.8 L728.0,367.8 L729.0,367.7 L730.0,367.7 L731.0,367.7 L732.0,367.7 L733.0,367.7 L734.0,367.7 L735.0,367.7 L736.0,367.6 L737.0,367.6 L738.0,367.6 L739.0,367.6 L740.0,367.6 L741.0,367.6 L742.0,367.5 L743.0,367.5 L744.0,367.5 L745.0,367.5 L746.0,367.5 L747.0,367.5 L748.0,367.4 L749.0,367.4 L750.0,367.4 L751.0,367.4 L752.0,367.4 L753.0,367.3 L754.0,367.3 L755.0,367.3 L756.0,367.3 L757.0,367.2 L758.0,367.2 L759.0,367.2 L760.0,367.2 L761.0,367.2 L762.0,367.1 L763.0,367.1 L764.0,367.1 L765.0,367.1 L766.0,367.0 L767.0,367.0 L768.0,367.0 L769.0,366.9 L770.0,366.9 L771.0,366.9 L772.0,366.9 L773.0,366.8 L774.0,366.8 L775.0,366.8 L776.0,366.7 L777.0,366.7 L778.0,366.7 L779.0,366.6 L780.0,366.6 L781.0,366.6 L782.0,366.5 L783.0,366.5 L784.0,366.5 L785.0,366.4 L786.0,366.4 L787.0,366.3 L788.0,366.3 L789.0,366.2 L790.0,366.2 L791.0,366.1 L792.0,366.1 L793.0,366.0 L794.0,366.0 L795.0,365.9 L796.0,365.9 L797.0,365.8 L798.0,365.8 L799.0,365.7 L800.0,365.6 L801.0,365.6 L802.0,365.5 L803.0,365.4 L804.0,365.4 L805.0,365.3 L806.0,365.2 L807.0,365.1 L808.0,365.0 L809.0,365.0 L810.0,364.9 L811.0,364.8 L812.0,364.7 L813.0,364.6 L814.0,364.5 L815.0,364.4 L816.0,364.2 L817.0,364.1 L818.0,364.0 L819.0,363.9 L820.0,363.7 L821.0,363.6 L822.0,363.5 L823.0,363.3 L824.0,363.2 L825.0,363.0 L826.0,362.8 L827.0,362.7 L828.0,362.5 L829.0,362.3 L830.0,362.1 L831.0,361.9 L832.0,361.7 L833.0,361.5 L834.0,361.3 L835.0,361.1 L836.0,360.9 L837.0,360.7 L838.0,360.4 L839.0,360.2 L840.0,359.9 L841.0,359.7 L842.0,359.4 L843.0,359.1 L844.0,358.9 L845.0,358.6 L846.0,358.3 L847.0,358.0 L848.0,357.7 L849.0,357.4 L850.0,357.0 L851.0,356.7 L852.0,356.4 L853.0,356.0 L854.0,355.7 L855.0,355.3 L856.0,354.9 L857.0,354.5 L858.0,354.1 L859.0,353.7 L860.0,353.3 L861.0,352.9 L862.0,352.5 L863.0,352.1 L864.0,351.6 L865.0,351.2 L866.0,350.7 L867.0,350.2 L868.0,349.8 L869.0,349.3 L870.0,348.8 L871.0,348.3 L872.0,347.8 L873.0,347.3 L874.0,346.7 L875.0,346.2 L876.0,345.6 L877.0,345.1 L878.0,344.5 L879.0,344.0 L880.0,343.4 L881.0,342.8 L882.0,342.2 L883.0,341.6 L884.0,341.0 L885.0,340.4 L886.0,339.8 L887.0,339.2 L888.0,338.6 L889.0,337.9 L890.0,337.3 L891.0,336.7 L892.0,336.0 L893.0,335.4 L894.0,334.7 L895.0,334.1 L896.0,333.4 L897.0,332.8 L898.0,332.1 L899.0,331.4 L900.0,330.8 L901.0,330.1 L902.0,329.4 L903.0,328.8 L904.0,328.1 L905.0,327.4 L906.0,326.7 L907.0,326.1 L908.0,325.4 L909.0,324.7 L910.0,324.0 L911.0,323.4 L912.0,322.7 L913.0,322.0 L914.0,321.4 L915.0,320.7 L916.0,320.1 L917.0,319.4 L918.0,318.8 L919.0,318.1 L920.0,317.5 L921.0,316.8 L922.0,316.2 L923.0,315.6 L924.0,315.0 L925.0,314.3 L926.0,313.7 L927.0,313.1 L928.0,312.6 L929.0,312.0 L930.0,311.4 L931.0,310.9 L932.0,310.3 L933.0,309.8 L934.0,309.2 L935.0,308.7 L936.0,308.2 L937.0,307.7 L938.0,307.2 L939.0,306.8 L940.0,306.3 L941.0,305.9 L942.0,305.5 L943.0,305.1 L944.0,304.7 L945.0,304.3 L946.0,304.0 L947.0,303.6 L948.0,303.3 L949.0,303.0 L950.0,302.7 L951.0,302.4 L952.0,302.2 L953.0,301.9 L954.0,301.7 L955.0,301.5 L956.0,301.3 L957.0,301.1 L958.0,301.0 L959.0,300.8 L960.0,300.7 L961.0,300.6 L962.0,300.5 L963.0,300.5 L964.0,300.4 L965.0,300.4 L966.0,300.4 L967.0,300.4 L968.0,300.4 L969.0,300.5 L970.0,300.6 L971.0,300.7 L972.0,300.8 L973.0,301.0 L974.0,301.1 L975.0,301.3 L976.0,301.6 L977.0,301.8 L978.0,302.1 L979.0,302.3 L980.0,302.7 L981.0,303.0 L982.0,303.3 L983.0,303.7 L984.0,304.1 L985.0,304.5 L986.0,305.0 L987.0,305.4 L988.0,305.9 L989.0,306.4 L990.0,306.9 L991.0,307.4 L992.0,308.0 L993.0,308.5 L994.0,309.1 L995.0,309.7 L996.0,310.4 L997.0,311.0 L998.0,311.7 L999.0,312.3 L1000.0,313.0 L1001.0,313.7 L1002.0,314.4 L1003.0,315.1 L1004.0,315.9 L1005.0,316.6 L1006.0,317.4 L1007.0,318.2 L1008.0,319.0 L1009.0,319.8 L1010.0,320.6 L1011.0,321.4 L1012.0,322.2 L1013.0,323.0 L1014.0,323.9 L1015.0,324.7 L1016.0,325.6 L1017.0,326.4 L1018.0,327.3 L1019.0,328.1 L1020.0,329.0 L1021.0,329.9 L1022.0,330.7 L1023.0,331.6 L1024.0,332.5 L1025.0,333.4 L1026.0,334.2 L1027.0,335.1 L1028.0,336.0 L1029.0,336.9 L1030.0,337.7 L1031.0,338.6 L1032.0,339.5 L1033.0,340.3 L1034.0,341.2 L1035.0,342.1 L1036.0,342.9 L1037.0,343.8 L1038.0,344.6 L1039.0,345.5 L1040.0,346.3 L1041.0,347.1 L1042.0,348.0 L1043.0,348.8 L1044.0,349.6 L1045.0,350.4 L1046.0,351.2 L1047.0,352.0 L1048.0,352.8 L1049.0,353.5 L1050.0,354.3 L1051.0,355.1 L1052.0,355.9 L1053.0,356.6 L1054.0,357.4 L1055.0,358.1 L1056.0,358.9 L1057.0,359.6 L1058.0,360.3 L1059.0,361.1 L1060.0,361.8 L1061.0,362.5 L1062.0,363.2 L1063.0,363.8 L1064.0,364.5 L1065.0,365.2 L1066.0,365.8 L1067.0,366.5 L1068.0,367.1 L1069.0,367.8 L1070.0,368.4 L1071.0,369.0 L1072.0,369.6 L1073.0,370.2 L1074.0,370.7 L1075.0,371.3 L1076.0,371.9 L1077.0,372.4 L1078.0,373.0 L1079.0,373.5 L1080.0,374.0 L1081.0,374.5 L1082.0,375.1 L1083.0,375.6 L1084.0,376.1 L1085.0,376.6 L1086.0,377.0 L1087.0,377.5 L1088.0,378.0 L1089.0,378.5 L1090.0,378.9 L1091.0,379.4 L1092.0,379.8 L1093.0,380.2 L1094.0,380.7 L1095.0,381.1 L1096.0,381.5 L1097.0,381.9 L1098.0,382.3 L1099.0,382.6 L1100.0,383.0 L1101.0,383.4 L1102.0,383.7 L1103.0,384.1 L1104.0,384.4 L1105.0,384.7 L1106.0,385.0 L1107.0,385.3 L1108.0,385.6 L1109.0,385.9 L1110.0,386.2 L1111.0,386.4 L1112.0,386.7 L1113.0,387.0 L1114.0,387.2 L1115.0,387.4 L1116.0,387.7 L1117.0,387.9 L1118.0,388.1 L1119.0,388.4 L1120.0,388.6 L1121.0,388.8 L1122.0,389.0 L1123.0,389.2 L1124.0,389.4 L1125.0,389.6 L1126.0,389.8 L1127.0,390.0 L1128.0,390.2 L1129.0,390.3 L1130.0,390.5 L1131.0,390.7 L1132.0,390.8 L1133.0,391.0 L1134.0,391.2 L1135.0,391.3 L1136.0,391.5 L1137.0,391.6 L1138.0,391.7 L1139.0,391.9 L1140.0,392.0 L1141.0,392.2 L1142.0,392.3 L1143.0,392.4 L1144.0,392.5 L1145.0,392.6 L1146.0,392.8 L1147.0,392.9 L1148.0,393.0 L1149.0,393.1 L1150.0,393.2 L1151.0,393.3 L1152.0,393.4 L1153.0,393.5 L1154.0,393.6 L1155.0,393.7 L1156.0,393.8 L1157.0,393.8 L1158.0,393.9 L1159.0,394.0 L1160.0,394.1 L1161.0,394.2 L1162.0,394.3 L1163.0,394.4 L1164.0,394.5 L1165.0,394.6 L1166.0,394.6 L1167.0,394.7 L1168.0,394.8 L1169.0,394.9 L1170.0,394.9 L1171.0,395.0 L1172.0,395.1 L1173.0,395.2 L1174.0,395.2 L1175.0,395.3 L1176.0,395.4 L1177.0,395.4 L1178.0,395.5 L1179.0,395.6 L1180.0,395.6 L1181.0,395.7 L1182.0,395.8 L1183.0,395.8 L1184.0,395.9 L1185.0,395.9 L1186.0,396.0 L1187.0,396.0 L1188.0,396.1 L1189.0,396.1 L1190.0,396.2 L1191.0,396.2 L1192.0,396.2 L1193.0,396.3 L1194.0,396.3 L1195.0,396.4 L1196.0,396.4 L1197.0,396.4 L1198.0,396.4 L1199.0,396.5 L1200.0,396.5 L1201.0,396.5 L1202.0,396.5 L1203.0,396.5 L1204.0,396.6 L1205.0,396.6 L1206.0,396.6 L1207.0,396.6 L1208.0,396.6 L1209.0,396.7 L1210.0,396.7 L1211.0,396.7 L1212.0,396.7 L1213.0,396.7 L1214.0,396.7 L1215.0,396.8 L1216.0,396.8 L1217.0,396.8 L1218.0,396.8 L1219.0,396.8 L1220.0,396.8 L1221.0,396.8 L1222.0,396.9 L1223.0,396.9 L1224.0,396.9 L1225.0,396.9 L1226.0,396.9 L1227.0,396.9 L1228.0,396.9 L1229.0,396.9 L1230.0,397.0 L1231.0,397.0 L1232.0,397.0 L1233.0,397.0 L1234.0,397.0 L1235.0,397.0 L1236.0,397.0 L1237.0,397.0 L1238.0,397.0 L1239.0,397.0 L1240.0,397.1 L1241.0,397.1 L1242.0,397.1 L1243.0,397.1 L1244.0,397.1 L1245.0,397.1 L1246.0,397.1 L1247.0,397.1 L1248.0,397.1 L1249.0,397.1 L1250.0,397.2 L1251.0,397.2 L1252.0,397.2 L1253.0,397.2 L1254.0,397.2 L1255.0,397.2 L1256.0,397.2 L1257.0,397.2 L1258.0,397.2 L1259.0,397.2 L1260.0,397.2 L1261.0,397.2 L1262.0,397.2 L1263.0,397.3 L1264.0,397.3 L1265.0,397.3 L1266.0,397.3 L1267.0,397.3 L1268.0,397.3 L1269.0,397.3 L1270.0,397.3 L1271.0,397.3 L1272.0,397.3 L1273.0,397.3 L1274.0,397.3 L1275.0,397.3 L1276.0,397.4 L1277.0,397.4 L1278.0,397.4 L1279.0,397.4 L1280.0,397.4 L1281.0,397.4 L1282.0,397.4 L1283.0,397.4 L1284.0,397.4 L1285.0,397.4 L1286.0,397.4 L1287.0,397.4 L1288.0,397.4 L1289.0,397.5 L1290.0,397.5 L1291.0,397.5 L1292.0,397.5 L1293.0,397.5 L1294.0,397.5 L1295.0,397.5 L1296.0,397.5 L1297.0,397.5 L1298.0,397.5 L1299.0,397.5 L1300.0,397.6 L1301.0,397.6 L1302.0,397.6 L1303.0,397.6 L1304.0,397.6" stroke="#cf3cd0" />
<path d="M726.0,367.5 L727.0,367.5 L728.0,367.5 L729.0,367.5 L730.0,367.5 L731.0,367.5 L732.0,367.5 L733.0,367.4 L734.0,367.4 L735.0,367.4 L736.0,367.4 L737.0,367.4 L738.0,367.4 L739.0,367.4 L740.0,367.3 L741.0,367.3 L742.0,367.3 L743.0,367.3 L744.0,367.3 L745.0,367.3 L746.0,367.2 L747.0,367.2 L748.0,367.2 L749.0,367.2 L750.0,367.2 L751.0,367.2 L752.0,367.1 L753.0,367.1 L754.0,367.1 L755.0,367.1 L756.0,367.1 L757.0,367.1 L758.0,367.1 L759.0,367.0 L760.0,367.0 L761.0,367.0 L762.0,367.0 L763.0,367.0 L764.0,367.0 L765.0,366.9 L766.0,366.9 L767.0,366.9 L768.0,366.9 L769.0,366.9 L770.0,366.9 L771.0,366.9 L772.0,366.8 L773.0,366.8 L774.0,366.8 L775.0,366.8 L776.0,366.8 L777.0,366.8 L778.0,366.8 L779.0,366.7 L780.0,366.7 L781.0,366.7 L782.0,366.7 L783.0,366.7 L784.0,366.7 L785.0,366.7 L786.0,366.7 L787.0,366.7 L788.0,366.7 L789.0,366.6 L790.0,366.6 L791.0,366.6 L792.0,366.6 L793.0,366.6 L794.0,366.6 L795.0,366.6 L796.0,366.6 L797.0,366.6 L798.0,366.6 L799.0,366.6 L800.0,366.6 L801.0,366.6 L802.0,366.6 L803.0,366.6 L804.0,366.6 L805.0,366.6 L806.0,366.6 L807.0,366.6 L808.0,366.6 L809.0,366.6 L810.0,366.5 L811.0,366.5 L812.0,366.5 L813.0,366.5 L814.0,366.5 L815.0,366.5 L816.0,366.5 L817.0,366.5 L818.0,366.5 L819.0,366.5 L820.0,366.5 L821.0,366.5 L822.0,366.5 L823.0,366.5 L824.0,366.5 L825.0,366.5 L826.0,366.5 L827.0,366.5 L828.0,366.5 L829.0,366.5 L830.0,366.5 L831.0,366.5 L832.0,366.5 L833.0,366.5 L834.0,366.5 L835.0,366.5 L836.0,366.5 L837.0,366.4 L838.0,366.4 L839.0,366.4 L840.0,366.4 L841.0,366.4 L842.0,366.4 L843.0,366.4 L844.0,366.4 L845.0,366.4 L846.0,366.4 L847.0,366.4 L848.0,366.4 L849.0,366.4 L850.0,366.4 L851.0,366.4 L852.0,366.4 L853.0,366.4 L854.0,366.4 L855.0,366.4 L856.0,366.3 L857.0,366.3 L858.0,366.3 L859.0,366.3 L860.0,366.3 L861.0,366.3 L862.0,366.3 L863.0,366.3 L864.0,366.3 L865.0,366.3 L866.0,366.3 L867.0,366.3 L868.0,366.3 L869.0,366.3 L870.0,366.3 L871.0,366.3 L872.0,366.2 L873.0,366.2 L874.0,366.2 L875.0,366.2 L876.0,366.2 L877.0,366.2 L878.0,366.2 L879.0,366.2 L880.0,366.2 L881.0,366.2 L882.0,366.2 L883.0,366.2 L884.0,366.2 L885.0,366.2 L886.0,366.2 L887.0,366.2 L888.0,366.2 L889.0,366.2 L890.0,366.2 L891.0,366.2 L892.0,366.2 L893.0,366.2 L894.0,366.2 L895.0,366.2 L896.0,366.2 L897.0,366.2 L898.0,366.2 L899.0,366.2 L900.0,366.2 L901.0,366.2 L902.0,366.3 L903.0,366.3 L904.0,366.3 L905.0,366.3 L906.0,366.3 L907.0,366.3 L908.0,366.3 L909.0,366.3 L910.0,366.3 L911.0,366.4 L912.0,366.4 L913.0,366.4 L914.0,366.4 L915.0,366.4 L916.0,366.4 L917.0,366.4 L918.0,366.4 L919.0,366.4 L920.0,366.4 L921.0,366.4 L922.0,366.4 L923.0,366.4 L924.0,366.4 L925.0,366.4 L926.0,366.4 L927.0,366.4 L928.0,366.4 L929.0,366.3 L930.0,366.3 L931.0,366.3 L932.0,366.3 L933.0,366.2 L934.0,366.2 L935.0,366.1 L936.0,366.1 L937.0,366.1 L938.0,366.0 L939.0,365.9 L940.0,365.9 L941.0,365.8 L942.0,365.7 L943.0,365.7 L944.0,365.6 L945.0,365.5 L946.0,365.4 L947.0,365.3 L948.0,365.1 L949.0,365.0 L950.0,364.8 L951.0,364.7 L952.0,364.5 L953.0,364.3 L954.0,364.1 L955.0,363.9 L956.0,363.7 L957.0,363.4 L958.0,363.1 L959.0,362.9 L960.0,362.6 L961.0,362.2 L962.0,361.9 L963.0,361.5 L964.0,361.2 L965.0,360.7 L966.0,360.3 L967.0,359.9 L968.0,359.4 L969.0,358.9 L970.0,358.3 L971.0,357.8 L972.0,357.2 L973.0,356.6 L974.0,355.9 L975.0,355.2 L976.0,354.5 L977.0,353.8 L978.0,353.0 L979.0,352.2 L980.0,351.3 L981.0,350.4 L982.0,349.5 L983.0,348.5 L984.0,347.5 L985.0,346.4 L986.0,345.3 L987.0,344.1 L988.0,342.9 L989.0,341.7 L990.0,340.4 L991.0,339.0 L992.0,337.6 L993.0,336.2 L994.0,334.7 L995.0,333.1 L996.0,331.5 L997.0,329.9 L998.0,328.2 L999.0,326.4 L1000.0,324.6 L1001.0,322.7 L1002.0,320.8 L1003.0,318.8 L1004.0,316.8 L1005.0,314.7 L1006.0,312.6 L1007.0,310.4 L1008.0,308.1 L1009.0,305.8 L1010.0,303.4 L1011.0,301.0 L1012.0,298.6 L1013.0,296.0 L1014.0,293.5 L1015.0,290.9 L1016.0,288.2 L1017.0,285.5 L1018.0,282.8 L1019.0,280.0 L1020.0,277.1 L1021.0,274.3 L1022.0,271.4 L1023.0,268.4 L1024.0,265.5 L1025.0,262.5 L1026.0,259.4 L1027.0,256.4 L1028.0,253.3 L1029.0,250.2 L1030.0,247.1 L1031.0,244.0 L1032.0,240.9 L1033.0,237.8 L1034.0,234.6 L1035.0,231.5 L1036.0,228.4 L1037.0,225.3 L1038.0,222.2 L1039.0,219.1 L1040.0,216.1 L1041.0,213.0 L1042.0,210.1 L1043.0,207.1 L1044.0,204.2 L1045.0,201.3 L1046.0,198.5 L1047.0,195.7 L1048.0,193.0 L1049.0,190.4 L1050.0,187.8 L1051.0,185.3 L1052.0,182.9 L1053.0,180.5 L1054.0,178.3 L1055.0,176.1 L1056.0,174.0 L1057.0,172.0 L1058.0,170.1 L1059.0,168.4 L1060.0,166.7 L1061.0,165.1 L1062.0,163.7 L1063.0,162.3 L1064.0,161.1 L1065.0,160.0 L1066.0,159.1 L1067.0,158.2 L1068.0,157.5 L1069.0,156.9 L1070.0,156.4 L1071.0,156.1 L1072.0,155.9 L1073.0,155.8 L1074.0,155.9 L1075.0,156.1 L1076.0,156.4 L1077.0,156.9 L1078.0,157.5 L1079.0,158.3 L1080.0,159.2 L1081.0,160.2 L1082.0,161.3 L1083.0,162.6 L1084.0,164.0 L1085.0,165.5 L1086.0,167.2 L1087.0,168.9 L1088.0,170.8 L1089.0,172.8 L1090.0,174.9 L1091.0,177.2 L1092.0,179.5 L1093.0,181.9 L1094.0,184.4 L1095.0,187.0 L1096.0,189.7 L1097.0,192.4 L1098.0,195.3 L1099.0,198.2 L1100.0,201.2 L1101.0,204.2 L1102.0,207.3 L1103.0,210.5 L1104.0,213.6 L1105.0,216.9 L1106.0,220.2 L1107.0,223.5 L1108.0,226.8 L1109.0,230.2 L1110.0,233.6 L1111.0,237.0 L1112.0,240.4 L1113.0,243.8 L1114.0,247.3 L1115.0,250.7 L1116.0,254.2 L1117.0,257.6 L1118.0,261.0 L1119.0,264.4 L1120.0,267.8 L1121.0,271.2 L1122.0,274.6 L1123.0,277.9 L1124.0,281.2 L1125.0,284.5 L1126.0,287.7 L1127.0,291.0 L1128.0,294.1 L1129.0,297.2 L1130.0,300.3 L1131.0,303.4 L1132.0,306.3 L1133.0,309.3 L1134.0,312.2 L1135.0,315.0 L1136.0,317.8 L1137.0,320.5 L1138.0,323.2 L1139.0,325.8 L1140.0,328.3 L1141.0,330.8 L1142.0,333.3 L1143.0,335.7 L1144.0,338.0 L1145.0,340.2 L1146.0,342.4 L1147.0,344.6 L1148.0,346.6 L1149.0,348.6 L1150.0,350.6 L1151.0,352.5 L1152.0,354.3 L1153.0,356.1 L1154.0,357.8 L1155.0,359.5 L1156.0,361.1 L1157.0,362.7 L1158.0,364.2 L1159.0,365.7 L1160.0,367.1 L1161.0,368.4 L1162.0,369.7 L1163.0,371.0 L1164.0,372.2 L1165.0,373.3 L1166.0,374.5 L1167.0,375.5 L1168.0,376.6 L1169.0,377.6 L1170.0,378.5 L1171.0,379.4 L1172.0,380.3 L1173.0,381.1 L1174.0,381.9 L1175.0,382.7 L1176.0,383.4 L1177.0,384.1 L1178.0,384.8 L1179.0,385.4 L1180.0,386.0 L1181.0,386.6 L1182.0,387.1 L1183.0,387.6 L1184.0,388.1 L1185.0,388.6 L1186.0,389.0 L1187.0,389.5 L1188.0,389.9 L1189.0,390.3 L1190.0,390.6 L1191.0,390.9 L1192.0,391.3 L1193.0,391.6 L1194.0,391.9 L1195.0,392.1 L1196.0,392.4 L1197.0,392.6 L1198.0,392.8 L1199.0,393.1 L1200.0,393.2 L1201.0,393.4 L1202.0,393.6 L1203.0,393.8 L1204.0,393.9 L1205.0,394.1 L1206.0,394.2 L1207.0,394.3 L1208.0,394.5 L1209.0,394.6 L1210.0,394.7 L1211.0,394.8 L1212.0,394.9 L1213.0,395.0 L1214.0,395.1 L1215.0,395.2 L1216.0,395.2 L1217.0,395.3 L1218.0,395.4 L1219.0,395.4 L1220.0,395.5 L1221.0,395.6 L1222.0,395.6 L1223.0,395.7 L1224.0,395.7 L1225.0,395.8 L1226.0,395.8 L1227.0,395.9 L1228.0,395.9 L1229.0,395.9 L1230.0,396.0 L1231.0,396.0 L1232.0,396.1 L1233.0,396.1 L1234.0,396.1 L1235.0,396.1 L1236.0,396.2 L1237.0,396.2 L1238.0,396.2 L1239.0,396.3 L1240.0,396.3 L1241.0,396.3 L1242.0,396.3 L1243.0,396.3 L1244.0,396.4 L1245.0,396.4 L1246.0,396.4 L1247.0,396.4 L1248.0,396.4 L1249.0,396.5 L1250.0,396.5 L1251.0,396.5 L1252.0,396.5 L1253.0,396.5 L1254.0,396.6 L1255.0,396.6 L1256.0,396.6 L1257.0,396.6 L1258.0,396.6 L1259.0,396.6 L1260.0,396.6 L1261.0,396.7 L1262.0,396.7 L1263.0,396.7 L1264.0,396.7 L1265.0,396.7 L1266.0,396.7 L1267.0,396.7 L1268.0,396.8 L1269.0,396.8 L1270.0,396.8 L1271.0,396.8 L1272.0,396.8 L1273.0,396.8 L1274.0,396.8 L1275.0,396.8 L1276.0,396.9 L1277.0,396.9 L1278.0,396.9 L1279.0,396.9 L1280.0,396.9 L1281.0,396.9 L1282.0,396.9 L1283.0,396.9 L1284.0,397.0 L1285.0,397.0 L1286.0,397.0 L1287.0,397.0 L1288.0,397.0 L1289.0,397.0 L1290.0,397.0 L1291.0,397.0 L1292.0,397.1 L1293.0,397.1 L1294.0,397.1 L1295.0,397.1 L1296.0,397.1 L1297.0,397.1 L1298.0,397.1 L1299.0,397.1 L1300.0,397.2 L1301.0,397.2 L1302.0,397.2 L1303.0,397.2 L1304.0,397.2" stroke="#3a8a40" />
<path d="M726.0,367.6 L727.0,367.6 L728.0,367.6 L729.0,367.6 L730.0,367.6 L731.0,367.6 L732.0,367.5 L733.0,367.5 L734.0,367.5 L735.0,367.5 L736.0,367.5 L737.0,367.5 L738.0,367.5 L739.0,367.4 L740.0,367.4 L741.0,367.4 L742.0,367.4 L743.0,367.4 L744.0,367.4 L745.0,367.4 L746.0,367.3 L747.0,367.3 L748.0,367.3 L749.0,367.3 L750.0,367.3 L751.0,367.3 L752.0,367.2 L753.0,367.2 L754.0,367.2 L755.0,367.2 L756.0,367.2 L757.0,367.2 L758.0,367.2 L759.0,367.1 L760.0,367.1 L761.0,367.1 L762.0,367.1 L763.0,367.1 L764.0,367.1 L765.0,367.1 L766.0,367.0 L767.0,367.0 L768.0,367.0 L769.0,367.0 L770.0,367.0 L771.0,367.0 L772.0,367.0 L773.0,366.9 L774.0,366.9 L775.0,366.9 L776.0,366.9 L777.0,366.9 L778.0,366.9 L779.0,366.9 L780.0,366.9 L781.0,366.9 L782.0,366.8 L783.0,366.8 L784.0,366.8 L785.0,366.8 L786.0,366.8 L787.0,366.8 L788.0,366.8 L789.0,366.8 L790.0,366.8 L791.0,366.8 L792.0,366.8 L793.0,366.8 L794.0,366.8 L795.0,366.7 L796.0,366.7 L797.0,366.7 L798.0,366.7 L799.0,366.7 L800.0,366.7 L801.0,366.7 L802.0,366.7 L803.0,366.7 L804.0,366.7 L805.0,366.7 L806.0,366.7 L807.0,366.7 L808.0,366.7 L809.0,366.7 L810.0,366.7 L811.0,366.7 L812.0,366.7 L813.0,366.7 L814.0,366.7 L815.0,366.7 L816.0,366.7 L817.0,366.7 L818.0,366.7 L819.0,366.7 L820.0,366.7 L821.0,366.7 L822.0,366.7 L823.0,366.7 L824.0,366.7 L825.0,366.7 L826.0,366.7 L827.0,366.7 L828.0,366.7 L829.0,366.7 L830.0,366.7 L831.0,366.7 L832.0,366.7 L833.0,366.7 L834.0,366.7 L835.0,366.7 L836.0,366.7 L837.0,366.7 L838.0,366.7 L839.0,366.7 L840.0,366.7 L841.0,366.7 L842.0,366.6 L843.0,366.6 L844.0,366.6 L845.0,366.6 L846.0,366.6 L847.0,366.6 L848.0,366.6 L849.0,366.6 L850.0,366.6 L851.0,366.6 L852.0,366.6 L853.0,366.6 L854.0,366.6 L855.0,366.6 L856.0,366.6 L857.0,366.6 L858.0,366.6 L859.0,366.6 L860.0,366.6 L861.0,366.6 L862.0,366.6 L863.0,366.6 L864.0,366.6 L865.0,366.6 L866.0,366.6 L867.0,366.6 L868.0,366.6 L869.0,366.6 L870.0,366.6 L871.0,366.6 L872.0,366.6 L873.0,366.6 L874.0,366.6 L875.0,366.6 L876.0,366.6 L877.0,366.5 L878.0,366.5 L879.0,366.5 L880.0,366.5 L881.0,366.5 L882.0,366.5 L883.0,366.5 L884.0,366.5 L885.0,366.5 L886.0,366.5 L887.0,366.5 L888.0,366.6 L889.0,366.6 L890.0,366.6 L891.0,366.6 L892.0,366.6 L893.0,366.6 L894.0,366.6 L895.0,366.6 L896.0,366.6 L897.0,366.7 L898.0,366.7 L899.0,366.7 L900.0,366.7 L901.0,366.7 L902.0,366.8 L903.0,366.8 L904.0,366.8 L905.0,366.8 L906.0,366.9 L907.0,366.9 L908.0,366.9 L909.0,366.9 L910.0,367.0 L911.0,367.0 L912.0,367.0 L913.0,367.0 L914.0,367.1 L915.0,367.1 L916.0,367.1 L917.0,367.2 L918.0,367.2 L919.0,367.2 L920.0,367.2 L921.0,367.3 L922.0,367.3 L923.0,367.3 L924.0,367.4 L925.0,367.4 L926.0,367.4 L927.0,367.4 L928.0,367.5 L929.0,367.5 L930.0,367.5 L931.0,367.6 L932.0,367.6 L933.0,367.6 L934.0,367.6 L935.0,367.7 L936.0,367.7 L937.0,367.7 L938.0,367.8 L939.0,367.8 L940.0,367.8 L941.0,367.9 L942.0,367.9 L943.0,368.0 L944.0,368.0 L945.0,368.0 L946.0,368.1 L947.0,368.1 L948.0,368.2 L949.0,368.2 L950.0,368.2 L951.0,368.3 L952.0,368.3 L953.0,368.3 L954.0,368.4 L955.0,368.4 L956.0,368.4 L957.0,368.4 L958.0,368.5 L959.0,368.5 L960.0,368.5 L961.0,368.6 L962.0,368.6 L963.0,368.6 L964.0,368.6 L965.0,368.7 L966.0,368.7 L967.0,368.7 L968.0,368.7 L969.0,368.7 L970.0,368.8 L971.0,368.8 L972.0,368.8 L973.0,368.8 L974.0,368.9 L975.0,368.9 L976.0,368.9 L977.0,368.9 L978.0,368.9 L979.0,368.9 L980.0,369.0 L981.0,369.0 L982.0,369.0 L983.0,369.0 L984.0,369.0 L985.0,369.0 L986.0,369.0 L987.0,369.0 L988.0,369.1 L989.0,369.1 L990.0,369.1 L991.0,369.1 L992.0,369.1 L993.0,369.1 L994.0,369.1 L995.0,369.0 L996.0,369.0 L997.0,369.0 L998.0,369.0 L999.0,369.0 L1000.0,369.0 L1001.0,368.9 L1002.0,368.9 L1003.0,368.9 L1004.0,368.8 L1005.0,368.8 L1006.0,368.7 L1007.0,368.7 L1008.0,368.6 L1009.0,368.5 L1010.0,368.4 L1011.0,368.3 L1012.0,368.2 L1013.0,368.1 L1014.0,368.0 L1015.0,367.9 L1016.0,367.7 L1017.0,367.6 L1018.0,367.4 L1019.0,367.2 L1020.0,367.1 L1021.0,366.9 L1022.0,366.6 L1023.0,366.4 L1024.0,366.1 L1025.0,365.9 L1026.0,365.6 L1027.0,365.3 L1028.0,365.0 L1029.0,364.6 L1030.0,364.3 L1031.0,363.9 L1032.0,363.5 L1033.0,363.1 L1034.0,362.6 L1035.0,362.2 L1036.0,361.7 L1037.0,361.1 L1038.0,360.6 L1039.0,360.0 L1040.0,359.4 L1041.0,358.8 L1042.0,358.1 L1043.0,357.4 L1044.0,356.7 L1045.0,356.0 L1046.0,355.2 L1047.0,354.4 L1048.0,353.6 L1049.0,352.7 L1050.0,351.8 L1051.0,350.9 L1052.0,349.9 L1053.0,348.9 L1054.0,347.9 L1055.0,346.9 L1056.0,345.8 L1057.0,344.7 L1058.0,343.5 L1059.0,342.3 L1060.0,341.1 L1061.0,339.8 L1062.0,338.5 L1063.0,337.2 L1064.0,335.9 L1065.0,334.5 L1066.0,333.0 L1067.0,331.6 L1068.0,330.1 L1069.0,328.6 L1070.0,327.0 L1071.0,325.4 L1072.0,323.8 L1073.0,322.1 L1074.0,320.4 L1075.0,318.7 L1076.0,317.0 L1077.0,315.2 L1078.0,313.5 L1079.0,311.6 L1080.0,309.8 L1081.0,308.0 L1082.0,306.1 L1083.0,304.3 L1084.0,302.4 L1085.0,300.5 L1086.0,298.6 L1087.0,296.7 L1088.0,294.8 L1089.0,292.9 L1090.0,291.0 L1091.0,289.1 L1092.0,287.1 L1093.0,285.2 L1094.0,283.3 L1095.0,281.4 L1096.0,279.6 L1097.0,277.7 L1098.0,275.9 L1099.0,274.0 L1100.0,272.2 L1101.0,270.4 L1102.0,268.7 L1103.0,266.9 L1104.0,265.2 L1105.0,263.6 L1106.0,262.0 L1107.0,260.4 L1108.0,258.8 L1109.0,257.3 L1110.0,255.8 L1111.0,254.4 L1112.0,253.1 L1113.0,251.8 L1114.0,250.6 L1115.0,249.4 L1116.0,248.3 L1117.0,247.2 L1118.0,246.3 L1119.0,245.4 L1120.0,244.5 L1121.0,243.8 L1122.0,243.1 L1123.0,242.5 L1124.0,242.0 L1125.0,241.6 L1126.0,241.2 L1127.0,240.9 L1128.0,240.8 L1129.0,240.7 L1130.0,240.6 L1131.0,240.7 L1132.0,240.9 L1133.0,241.1 L1134.0,241.5 L1135.0,242.0 L1136.0,242.6 L1137.0,243.3 L1138.0,244.1 L1139.0,245.1 L1140.0,246.1 L1141.0,247.2 L1142.0,248.4 L1143.0,249.7 L1144.0,251.1 L1145.0,252.5 L1146.0,254.1 L1147.0,255.7 L1148.0,257.4 L1149.0,259.1 L1150.0,261.0 L1151.0,262.9 L1152.0,264.8 L1153.0,266.8 L1154.0,268.8 L1155.0,270.9 L1156.0,273.0 L1157.0,275.2 L1158.0,277.4 L1159.0,279.6 L1160.0,281.8 L1161.0,284.1 L1162.0,286.4 L1163.0,288.7 L1164.0,291.0 L1165.0,293.3 L1166.0,295.6 L1167.0,297.9 L1168.0,300.2 L1169.0,302.5 L1170.0,304.8 L1171.0,307.1 L1172.0,309.4 L1173.0,311.6 L1174.0,313.9 L1175.0,316.1 L1176.0,318.3 L1177.0,320.5 L1178.0,322.6 L1179.0,324.7 L1180.0,326.8 L1181.0,328.9 L1182.0,330.9 L1183.0,332.9 L1184.0,334.9 L1185.0,336.8 L1186.0,338.7 L1187.0,340.5 L1188.0,342.4 L1189.0,344.1 L1190.0,345.9 L1191.0,347.6 L1192.0,349.2 L1193.0,350.8 L1194.0,352.4 L1195.0,353.9 L1196.0,355.4 L1197.0,356.9 L1198.0,358.3 L1199.0,359.6 L1200.0,361.0 L1201.0,362.2 L1202.0,363.5 L1203.0,364.7 L1204.0,365.9 L1205.0,367.0 L1206.0,368.1 L1207.0,369.2 L1208.0,370.2 L1209.0,371.2 L1210.0,372.1 L1211.0,373.0 L1212.0,373.9 L1213.0,374.8 L1214.0,375.6 L1215.0,376.4 L1216.0,377.1 L1217.0,377.9 L1218.0,378.6 L1219.0,379.3 L1220.0,379.9 L1221.0,380.5 L1222.0,381.1 L1223.0,381.7 L1224.0,382.2 L1225.0,382.8 L1226.0,383.3 L1227.0,383.8 L1228.0,384.2 L1229.0,384.7 L1230.0,385.1 L1231.0,385.5 L1232.0,385.9 L1233.0,386.2 L1234.0,386.6 L1235.0,386.9 L1236.0,387.3 L1237.0,387.6 L1238.0,387.9 L1239.0,388.1 L1240.0,388.4 L1241.0,388.7 L1242.0,388.9 L1243.0,389.2 L1244.0,389.4 L1245.0,389.6 L1246.0,389.8 L1247.0,390.0 L1248.0,390.2 L1249.0,390.4 L1250.0,390.5 L1251.0,390.7 L1252.0,390.9 L1253.0,391.0 L1254.0,391.2 L1255.0,391.3 L1256.0,391.4 L1257.0,391.6 L1258.0,391.7 L1259.0,391.8 L1260.0,391.9 L1261.0,392.0 L1262.0,392.1 L1263.0,392.2 L1264.0,392.3 L1265.0,392.4 L1266.0,392.5 L1267.0,392.6 L1268.0,392.7 L1269.0,392.8 L1270.0,392.9 L1271.0,392.9 L1272.0,393.0 L1273.0,393.1 L1274.0,393.2 L1275.0,393.2 L1276.0,393.3 L1277.0,393.4 L1278.0,393.4 L1279.0,393.5 L1280.0,393.5 L1281.0,393.6 L1282.0,393.7 L1283.0,393.7 L1284.0,393.8 L1285.0,393.8 L1286.0,393.9 L1287.0,393.9 L1288.0,394.0 L1289.0,394.0 L1290.0,394.1 L1291.0,394.1 L1292.0,394.2 L1293.0,394.2 L1294.0,394.3 L1295.0,394.3 L1296.0,394.4 L1297.0,394.4 L1298.0,394.5 L1299.0,394.5 L1300.0,394.6 L1301.0,394.6 L1302.0,394.7 L1303.0,394.7 L1304.0,394.7" stroke="#201c6e" />
<path d="M56.0,878.4 L57.0,878.4 L58.0,878.4 L59.0,878.4 L60.0,878.4 L61.0,878.4 L62.0,878.4 L63.0,878.4 L64.0,878.4 L65.0,878.4 L66.0,878.4 L67.0,878.4 L68.0,878.4 L69.0,878.5 L70.0,878.5 L71.0,878.5 L72.0,878.5 L73.0,878.5 L74.0,878.5 L75.0,878.5 L76.0,878.5 L77.0,878.5 L78.0,878.5 L79.0,878.5 L80.0,878.5 L81.0,878.5 L82.0,878.5 L83.0,878.5 L84.0,878.5 L85.0,878.5 L86.0,878.5 L87.0,878.5 L88.0,878.5 L89.0,878.5 L90.0,878.5 L91.0,878.6 L92.0,878.6 L93.0,878.6 L94.0,878.6 L95.0,878.6 L96.0,878.6 L97.0,878.6 L98.0,878.6 L99.0,878.6 L100.0,878.6 L101.0,878.6 L102.0,878.6 L103.0,878.6 L104.0,878.6 L105.0,878.6 L106.0,878.6 L107.0,878.6 L108.0,878.6 L109.0,878.7 L110.0,878.7 L111.0,878.7 L112.0,878.7 L113.0,878.7 L114.0,878.7 L115.0,878.7 L116.0,878.7 L117.0,878.7 L118.0,878.7 L119.0,878.7 L120.0,878.7 L121.0,878.7 L122.0,878.7 L123.0,878.7 L124.0,878.7 L125.0,878.8 L126.0,878.8 L127.0,878.8 L128.0,878.8 L129.0,878.8 L130.0,878.8 L131.0,878.8 L132.0,878.8 L133.0,878.8 L134.0,878.8 L135.0,878.8 L136.0,878.8 L137.0,878.8 L138.0,878.9 L139.0,878.9 L140.0,878.9 L141.0,878.9 L142.0,878.9 L143.0,878.9 L144.0,878.9 L145.0,878.9 L146.0,878.9 L147.0,878.9 L148.0,878.9 L149.0,878.9 L150.0,879.0 L151.0,879.0 L152.0,879.0 L153.0,879.0 L154.0,879.0 L155.0,879.0 L156.0,879.0 L157.0,879.0 L158.0,879.0 L159.0,879.0 L160.0,879.0 L161.0,879.1 L162.0,879.1 L163.0,879.1 L164.0,879.1 L165.0,879.1 L166.0,879.1 L167.0,879.1 L168.0,879.1 L169.0,879.1 L170.0,879.2 L171.0,879.2 L172.0,879.2 L173.0,879.2 L174.0,879.2 L175.0,879.2 L176.0,879.2 L177.0,879.2 L178.0,879.3 L179.0,879.3 L180.0,879.3 L181.0,879.3 L182.0,879.3 L183.0,879.3 L184.0,879.3 L185.0,879.3 L186.0,879.4 L187.0,879.4 L188.0,879.4 L189.0,879.4 L190.0,879.4 L191.0,879.4 L192.0,879.5 L193.0,879.5 L194.0,879.5 L195.0,879.5 L196.0,879.5 L197.0,879.5 L198.0,879.6 L199.0,879.6 L200.0,879.6 L201.0,879.6 L202.0,879.6 L203.0,879.6 L204.0,879.7 L205.0,879.7 L206.0,879.7 L207.0,879.7 L208.0,879.7 L209.0,879.8 L210.0,879.8 L211.0,879.8 L212.0,879.8 L213.0,879.9 L214.0,879.9 L215.0,879.9 L216.0,879.9 L217.0,880.0 L218.0,880.0 L219.0,880.0 L220.0,880.0 L221.0,880.1 L222.0,880.1 L223.0,880.1 L224.0,880.2 L225.0,880.2 L226.0,880.2 L227.0,880.3 L228.0,880.3 L229.0,880.3 L230.0,880.4 L231.0,880.4 L232.0,880.4 L233.0,880.5 L234.0,880.5 L235.0,880.5 L236.0,880.6 L237.0,880.6 L238.0,880.7 L239.0,880.7 L240.0,880.8 L241.0,880.8 L242.0,880.8 L243.0,880.9 L244.0,880.9 L245.0,881.0 L246.0,881.0 L247.0,881.1 L248.0,881.2 L249.0,881.2 L250.0,881.3 L251.0,881.3 L252.0,881.4 L253.0,881.4 L254.0,881.5 L255.0,881.6 L256.0,881.6 L257.0,881.7 L258.0,881.8 L259.0,881.8 L260.0,881.9 L261.0,882.0 L262.0,882.1 L263.0,882.1 L264.0,882.2 L265.0,882.3 L266.0,882.4 L267.0,882.5 L268.0,882.6 L269.0,882.6 L270.0,882.7 L271.0,882.8 L272.0,882.9 L273.0,883.0 L274.0,883.1 L275.0,883.2 L276.0,883.3 L277.0,883.4 L278.0,883.5 L279.0,883.6 L280.0,883.8 L281.0,883.9 L282.0,884.0 L283.0,884.1 L284.0,884.2 L285.0,884.3 L286.0,884.5 L287.0,884.6 L288.0,884.7 L289.0,884.8 L290.0,885.0 L291.0,885.1 L292.0,885.2 L293.0,885.4 L294.0,885.5 L295.0,885.7 L296.0,885.8 L297.0,885.9 L298.0,886.1 L299.0,886.2 L300.0,886.4 L301.0,886.5 L302.0,886.7 L303.0,886.8 L304.0,887.0 L305.0,887.2 L306.0,887.3 L307.0,887.5 L308.0,887.6 L309.0,887.8 L310.0,887.9 L311.0,888.1 L312.0,888.3 L313.0,888.4 L314.0,888.6 L315.0,888.7 L316.0,888.9 L317.0,889.1 L318.0,889.2 L319.0,889.4 L320.0,889.5 L321.0,889.7 L322.0,889.9 L323.0,890.0 L324.0,890.2 L325.0,890.3 L326.0,890.5 L327.0,890.6 L328.0,890.8 L329.0,890.9 L330.0,891.1 L331.0,891.2 L332.0,891.4 L333.0,891.5 L334.0,891.6 L335.0,891.8 L336.0,891.9 L337.0,892.1 L338.0,892.2 L339.0,892.3 L340.0,892.5 L341.0,892.6 L342.0,892.7 L343.0,892.8 L344.0,892.9 L345.0,893.1 L346.0,893.2 L347.0,893.3 L348.0,893.4 L349.0,893.5 L350.0,893.6 L351.0,893.7 L352.0,893.8 L353.0,893.9 L354.0,894.0 L355.0,894.1 L356.0,894.2 L357.0,894.3 L358.0,894.4 L359.0,894.5 L360.0,894.6 L361.0,894.7 L362.0,894.8 L363.0,894.9 L364.0,894.9 L365.0,895.0 L366.0,895.1 L367.0,895.2 L368.0,895.2 L369.0,895.3 L370.0,895.4 L371.0,895.5 L372.0,895.5 L373.0,895.6 L374.0,895.7 L375.0,895.7 L376.0,895.8 L377.0,895.9 L378.0,895.9 L379.0,896.0 L380.0,896.1 L381.0,896.1 L382.0,896.2 L383.0,896.2 L384.0,896.3 L385.0,896.4 L386.0,896.4 L387.0,896.5 L388.0,896.5 L389.0,896.6 L390.0,896.7 L391.0,896.7 L392.0,896.8 L393.0,896.8 L394.0,896.9 L395.0,896.9 L396.0,897.0 L397.0,897.0 L398.0,897.1 L399.0,897.2 L400.0,897.2 L401.0,897.3 L402.0,897.3 L403.0,897.4 L404.0,897.5 L405.0,897.5 L406.0,897.6 L407.0,897.6 L408.0,897.7 L409.0,897.8 L410.0,897.8 L411.0,897.9 L412.0,898.0 L413.0,898.1 L414.0,898.1 L415.0,898.2 L416.0,898.3 L417.0,898.4 L418.0,898.4 L419.0,898.5 L420.0,898.6 L421.0,898.7 L422.0,898.8 L423.0,898.9 L424.0,898.9 L425.0,899.0 L426.0,899.1 L427.0,899.2 L428.0,899.3 L429.0,899.4 L430.0,899.5 L431.0,899.7 L432.0,899.8 L433.0,899.9 L434.0,900.0 L435.0,900.1 L436.0,900.2 L437.0,900.4 L438.0,900.5 L439.0,900.6 L440.0,900.7 L441.0,900.9 L442.0,901.0 L443.0,901.2 L444.0,901.3 L445.0,901.5 L446.0,901.6 L447.0,901.8 L448.0,901.9 L449.0,902.1 L450.0,902.2 L451.0,902.4 L452.0,902.6 L453.0,902.7 L454.0,902.9 L455.0,903.1 L456.0,903.2 L457.0,903.4 L458.0,903.6 L459.0,903.8 L460.0,904.0 L461.0,904.1 L462.0,904.3 L463.0,904.5 L464.0,904.7 L465.0,904.9 L466.0,905.1 L467.0,905.3 L468.0,905.5 L469.0,905.7 L470.0,905.9 L471.0,906.1 L472.0,906.2 L473.0,906.4 L474.0,906.6 L475.0,906.8 L476.0,907.0 L477.0,907.2 L478.0,907.4 L479.0,907.6 L480.0,907.8 L481.0,908.0 L482.0,908.2 L483.0,908.4 L484.0,908.6 L485.0,908.8 L486.0,909.0 L487.0,909.2 L488.0,909.3 L489.0,909.5 L490.0,909.7 L491.0,909.9 L492.0,910.1 L493.0,910.2 L494.0,910.4 L495.0,910.6 L496.0,910.8 L497.0,910.9 L498.0,911.1 L499.0,911.2 L500.0,911.4 L501.0,911.6 L502.0,911.7 L503.0,911.9 L504.0,912.0 L505.0,912.1 L506.0,912.3 L507.0,912.4 L508.0,912.6 L509.0,912.7 L510.0,912.8 L511.0,912.9 L512.0,913.1 L513.0,913.2 L514.0,913.3 L515.0,913.4 L516.0,913.5 L517.0,913.6 L518.0,913.7 L519.0,913.8 L520.0,913.9 L521.0,914.0 L522.0,914.1 L523.0,914.2 L524.0,914.3 L525.0,914.3 L526.0,914.4 L527.0,914.5 L528.0,914.6 L529.0,914.6 L530.0,914.7 L531.0,914.8 L532.0,914.8 L533.0,914.9 L534.0,914.9 L535.0,915.0 L536.0,915.1 L537.0,915.1 L538.0,915.2 L539.0,915.2 L540.0,915.2 L541.0,915.3 L542.0,915.3 L543.0,915.4 L544.0,915.4 L545.0,915.4 L546.0,915.5 L547.0,915.5 L548.0,915.5 L549.0,915.6 L550.0,915.6 L551.0,915.6 L552.0,915.7 L553.0,915.7 L554.0,915.7 L555.0,915.7 L556.0,915.7 L557.0,915.8 L558.0,915.8 L559.0,915.8 L560.0,915.8 L561.0,915.8 L562.0,915.9 L563.0,915.9 L564.0,915.9 L565.0,915.9 L566.0,915.9 L567.0,915.9 L568.0,915.9 L569.0,916.0 L570.0,916.0 L571.0,916.0 L572.0,916.0 L573.0,916.0 L574.0,916.0 L575.0,916.0 L576.0,916.0 L577.0,916.0 L578.0,916.0 L579.0,916.1 L580.0,916.1 L581.0,916.1 L582.0,916.1 L583.0,916.1 L584.0,916.1 L585.0,916.1 L586.0,916.1 L587.0,916.1 L588.0,916.1 L589.0,916.1 L590.0,916.1 L591.0,916.1 L592.0,916.1 L593.0,916.1 L594.0,916.1 L595.0,916.1 L596.0,916.2 L597.0,916.2 L598.0,916.2 L599.0,916.2 L600.0,916.2 L601.0,916.2 L602.0,916.2 L603.0,916.2 L604.0,916.2 L605.0,916.2 L606.0,916.2 L607.0,916.2 L608.0,916.2 L609.0,916.2 L610.0,916.2 L611.0,916.2 L612.0,916.2 L613.0,916.2 L614.0,916.2 L615.0,916.2 L616.0,916.2 L617.0,916.2 L618.0,916.2 L619.0,916.2 L620.0,916.3 L621.0,916.3 L622.0,916.3 L623.0,916.3 L624.0,916.3 L625.0,916.3 L626.0,916.3 L627.0,916.3 L628.0,916.3 L629.0,916.3 L630.0,916.3 L631.0,916.3 L632.0,916.3 L633.0,916.3 L634.0,916.3" stroke="#3028a8" />
<path d="M56.0,877.8 L58.2,879.8 L60.4,874.2 L62.6,876.9 L64.8,879.3 L67.0,877.1 L69.2,876.4 L71.4,876.2 L73.6,874.0 L75.8,879.3 L78.0,880.2 L80.2,877.3 L82.4,878.5 L84.6,874.4 L86.8,876.8 L89.0,874.2 L91.2,876.7 L93.4,876.4 L95.6,873.3 L97.8,876.5 L100.0,874.1 L102.2,876.3 L104.4,877.3 L106.6,873.4 L108.8,877.4 L111.0,874.4 L113.2,878.2 L115.4,873.4 L117.6,874.9 L119.8,877.2 L122.0,876.9 L124.2,878.1 L126.4,874.1 L128.6,874.3 L130.8,871.5 L133.0,873.3 L135.2,874.3 L137.4,873.4 L139.6,873.0 L141.8,871.8 L144.0,871.6 L146.2,871.4 L148.4,874.4 L150.6,869.4 L152.8,867.2 L155.0,868.7 L157.2,864.9 L159.4,863.9 L161.6,865.3 L163.8,862.9 L166.0,855.7 L168.2,861.4 L170.4,855.4 L172.6,861.2 L174.8,857.1 L177.0,865.3 L179.2,859.2 L181.4,857.0 L183.6,855.2 L185.8,854.6 L188.0,855.3 L190.2,857.4 L192.4,852.4 L194.6,850.9 L196.8,850.6 L199.0,851.3 L201.2,850.6 L203.4,848.8 L205.6,846.6 L207.8,852.6 L210.0,844.9 L212.2,842.0 L214.4,836.8 L216.6,836.5 L218.8,838.4 L221.0,835.5 L223.2,828.5 L225.4,829.3 L227.6,824.2 L229.8,823.2 L232.0,820.1 L234.2,818.5 L236.4,814.2 L238.6,812.1 L240.8,810.9 L243.0,806.1 L245.2,805.2 L247.4,798.7 L249.6,796.8 L251.8,789.8 L254.0,784.6 L256.2,783.4 L258.4,778.5 L260.6,770.4 L262.8,767.4 L265.0,759.0 L267.2,755.6 L269.4,750.9 L271.6,743.5 L273.8,732.0 L276.0,731.9 L278.2,720.1 L280.4,710.0 L282.6,712.1 L284.8,703.1 L287.0,699.6 L289.2,684.4 L291.4,683.2 L293.6,676.4 L295.8,676.6 L298.0,665.8 L300.2,662.1 L302.4,654.8 L304.6,651.6 L306.8,649.1 L309.0,646.7 L311.2,645.9 L313.4,643.8 L315.6,645.8 L317.8,646.5 L320.0,649.4 L322.2,652.5 L324.4,657.7 L326.6,659.7 L328.8,667.8 L331.0,667.0 L333.2,683.6 L335.4,687.2 L337.6,690.4 L339.8,699.3 L342.0,707.5 L344.2,716.4 L346.4,723.2 L348.6,724.0 L350.8,737.7 L353.0,742.0 L355.2,750.0 L357.4,751.1 L359.6,760.0 L361.8,766.0 L364.0,767.9 L366.2,776.3 L368.4,776.7 L370.6,781.8 L372.8,787.0 L375.0,791.9 L377.2,795.3 L379.4,795.0 L381.6,799.2 L383.8,796.6 L386.0,799.2 L388.2,797.5 L390.4,795.9 L392.6,791.8 L394.8,791.6 L397.0,795.3 L399.2,788.9 L401.4,789.9 L403.6,787.2 L405.8,786.0 L408.0,784.5 L410.2,783.6 L412.4,778.1 L414.6,775.7 L416.8,770.6 L419.0,770.7 L421.2,761.4 L423.4,762.1 L425.6,750.4 L427.8,747.1 L430.0,737.8 L432.2,730.8 L434.4,724.6 L436.6,711.6 L438.8,703.8 L441.0,696.3 L443.2,687.6 L445.4,677.2 L447.6,670.0 L449.8,663.1 L452.0,656.0 L454.2,647.2 L456.4,641.6 L458.6,630.9 L460.8,627.2 L463.0,622.5 L465.2,620.8 L467.4,612.1 L469.6,609.1 L471.8,609.6 L474.0,606.2 L475.5,600.0 L476.2,606.0 L476.8,610.0 L478.4,609.8 L480.6,611.8 L480.6,606.0 L481.6,590.5 L482.8,612.6 L482.8,608.0 L485.0,615.8 L487.2,622.5 L489.4,628.7 L491.6,635.9 L493.8,647.8 L496.0,652.2 L498.2,663.5 L500.4,677.3 L502.6,679.8 L504.8,692.8 L507.0,702.0 L509.2,715.1 L511.4,725.7 L513.6,737.6 L515.8,747.0 L518.0,756.8 L520.2,769.7 L522.4,785.7 L524.6,792.0 L526.8,802.9 L529.0,812.0 L531.2,819.6 L533.4,830.7 L535.6,834.2 L537.8,842.2 L540.0,848.2 L542.2,856.5 L544.4,858.3 L546.6,868.1 L548.8,870.3 L551.0,877.4 L553.2,885.8 L555.4,884.9 L557.6,884.3 L559.8,889.0 L562.0,893.9 L564.2,894.7 L566.4,892.1 L568.6,900.2 L570.8,901.4 L573.0,906.5 L575.2,900.8 L577.4,911.0 L579.6,904.4 L581.8,903.7 L584.0,907.4 L586.2,905.3 L588.4,911.9 L590.6,908.2 L592.8,907.6 L595.0,908.7 L597.2,908.6 L599.4,909.3 L601.6,904.6 L603.8,910.5 L606.0,907.6 L608.2,912.5 L610.4,907.9 L612.6,913.0 L614.8,913.0 L617.0,911.1 L619.2,912.4 L621.4,912.9 L623.6,912.1 L625.8,912.4 L628.0,913.3 L630.2,911.9 L632.4,911.5" stroke="#141414" stroke-width="3.0" />
<path d="M56.0,872.6 L57.0,872.6 L58.0,872.6 L59.0,872.5 L60.0,872.5 L61.0,872.4 L62.0,872.4 L63.0,872.4 L64.0,872.3 L65.0,872.3 L66.0,872.2 L67.0,872.2 L68.0,872.1 L69.0,872.1 L70.0,872.1 L71.0,872.0 L72.0,872.0 L73.0,871.9 L74.0,871.9 L75.0,871.8 L76.0,871.8 L77.0,871.7 L78.0,871.7 L79.0,871.6 L80.0,871.6 L81.0,871.5 L82.0,871.5 L83.0,871.4 L84.0,871.4 L85.0,871.3 L86.0,871.2 L87.0,871.2 L88.0,871.1 L89.0,871.1 L90.0,871.0 L91.0,871.0 L92.0,870.9 L93.0,870.8 L94.0,870.8 L95.0,870.7 L96.0,870.6 L97.0,870.6 L98.0,870.5 L99.0,870.5 L100.0,870.4 L101.0,870.3 L102.0,870.3 L103.0,870.2 L104.0,870.1 L105.0,870.0 L106.0,870.0 L107.0,869.9 L108.0,869.8 L109.0,869.7 L110.0,869.7 L111.0,869.6 L112.0,869.5 L113.0,869.4 L114.0,869.4 L115.0,869.3 L116.0,869.2 L117.0,869.1 L118.0,869.0 L119.0,868.9 L120.0,868.8 L121.0,868.8 L122.0,868.7 L123.0,868.6 L124.0,868.5 L125.0,868.4 L126.0,868.3 L127.0,868.2 L128.0,868.1 L129.0,868.0 L130.0,867.9 L131.0,867.8 L132.0,867.7 L133.0,867.6 L134.0,867.5 L135.0,867.4 L136.0,867.2 L137.0,867.1 L138.0,867.0 L139.0,866.9 L140.0,866.8 L141.0,866.6 L142.0,866.5 L143.0,866.4 L144.0,866.3 L145.0,866.1 L146.0,866.0 L147.0,865.9 L148.0,865.7 L149.0,865.6 L150.0,865.4 L151.0,865.3 L152.0,865.2 L153.0,865.0 L154.0,864.8 L155.0,864.7 L156.0,864.5 L157.0,864.4 L158.0,864.2 L159.0,864.0 L160.0,863.9 L161.0,863.7 L162.0,863.5 L163.0,863.3 L164.0,863.1 L165.0,862.9 L166.0,862.7 L167.0,862.5 L168.0,862.3 L169.0,862.1 L170.0,861.9 L171.0,861.7 L172.0,861.4 L173.0,861.2 L174.0,861.0 L175.0,860.7 L176.0,860.5 L177.0,860.2 L178.0,859.9 L179.0,859.7 L180.0,859.4 L181.0,859.1 L182.0,858.8 L183.0,858.5 L184.0,858.2 L185.0,857.9 L186.0,857.6 L187.0,857.2 L188.0,856.9 L189.0,856.5 L190.0,856.2 L191.0,855.8 L192.0,855.4 L193.0,855.0 L194.0,854.6 L195.0,854.2 L196.0,853.7 L197.0,853.3 L198.0,852.8 L199.0,852.4 L200.0,851.9 L201.0,851.4 L202.0,850.8 L203.0,850.3 L204.0,849.7 L205.0,849.2 L206.0,848.6 L207.0,848.0 L208.0,847.3 L209.0,846.7 L210.0,846.0 L211.0,845.3 L212.0,844.6 L213.0,843.9 L214.0,843.1 L215.0,842.4 L216.0,841.6 L217.0,840.7 L218.0,839.9 L219.0,839.0 L220.0,838.1 L221.0,837.1 L222.0,836.2 L223.0,835.2 L224.0,834.1 L225.0,833.1 L226.0,832.0 L227.0,830.9 L228.0,829.7 L229.0,828.5 L230.0,827.3 L231.0,826.1 L232.0,824.8 L233.0,823.4 L234.0,822.1 L235.0,820.7 L236.0,819.2 L237.0,817.7 L238.0,816.2 L239.0,814.7 L240.0,813.1 L241.0,811.4 L242.0,809.7 L243.0,808.0 L244.0,806.2 L245.0,804.4 L246.0,802.6 L247.0,800.7 L248.0,798.7 L249.0,796.7 L250.0,794.7 L251.0,792.6 L252.0,790.5 L253.0,788.3 L254.0,786.1 L255.0,783.9 L256.0,781.6 L257.0,779.2 L258.0,776.9 L259.0,774.4 L260.0,772.0 L261.0,769.4 L262.0,766.9 L263.0,764.3 L264.0,761.7 L265.0,759.0 L266.0,756.3 L267.0,753.5 L268.0,750.7 L269.0,747.9 L270.0,745.1 L271.0,742.2 L272.0,739.3 L273.0,736.4 L274.0,733.4 L275.0,730.4 L276.0,727.4 L277.0,724.4 L278.0,721.4 L279.0,718.4 L280.0,715.3 L281.0,712.3 L282.0,709.3 L283.0,706.2 L284.0,703.2 L285.0,700.2 L286.0,697.2 L287.0,694.3 L288.0,691.3 L289.0,688.5 L290.0,685.6 L291.0,682.8 L292.0,680.1 L293.0,677.4 L294.0,674.8 L295.0,672.3 L296.0,669.8 L297.0,667.4 L298.0,665.2 L299.0,663.0 L300.0,661.0 L301.0,659.0 L302.0,657.2 L303.0,655.5 L304.0,654.0 L305.0,652.6 L306.0,651.3 L307.0,650.2 L308.0,649.2 L309.0,648.5 L310.0,647.8 L311.0,647.4 L312.0,647.1 L313.0,646.9 L314.0,647.0 L315.0,647.2 L316.0,647.6 L317.0,648.2 L318.0,649.0 L319.0,650.0 L320.0,651.1 L321.0,652.4 L322.0,653.8 L323.0,655.5 L324.0,657.2 L325.0,659.2 L326.0,661.2 L327.0,663.4 L328.0,665.7 L329.0,668.2 L330.0,670.7 L331.0,673.4 L332.0,676.1 L333.0,678.9 L334.0,681.8 L335.0,684.8 L336.0,687.8 L337.0,690.9 L338.0,694.0 L339.0,697.2 L340.0,700.4 L341.0,703.6 L342.0,706.8 L343.0,710.0 L344.0,713.3 L345.0,716.5 L346.0,719.8 L347.0,723.0 L348.0,726.2 L349.0,729.4 L350.0,732.6 L351.0,735.7 L352.0,738.8 L353.0,741.9 L354.0,744.9 L355.0,747.9 L356.0,750.9 L357.0,753.8 L358.0,756.6 L359.0,759.4 L360.0,762.2 L361.0,764.9 L362.0,767.5 L363.0,770.1 L364.0,772.6 L365.0,775.0 L366.0,777.4 L367.0,779.7 L368.0,782.0 L369.0,784.1 L370.0,786.2 L371.0,788.3 L372.0,790.2 L373.0,792.1 L374.0,793.9 L375.0,795.6 L376.0,797.2 L377.0,798.8 L378.0,800.3 L379.0,801.7 L380.0,803.0 L381.0,804.2 L382.0,805.3 L383.0,806.4 L384.0,807.3 L385.0,808.2 L386.0,809.0 L387.0,809.7 L388.0,810.2 L389.0,810.7 L390.0,811.1 L391.0,811.4 L392.0,811.6 L393.0,811.7 L394.0,811.7 L395.0,811.5 L396.0,811.3 L397.0,811.0 L398.0,810.5 L399.0,810.0 L400.0,809.3 L401.0,808.5 L402.0,807.6 L403.0,806.7 L404.0,805.5 L405.0,804.3 L406.0,803.0 L407.0,801.5 L408.0,800.0 L409.0,798.3 L410.0,796.5 L411.0,794.6 L412.0,792.6 L413.0,790.4 L414.0,788.2 L415.0,785.8 L416.0,783.4 L417.0,780.8 L418.0,778.1 L419.0,775.4 L420.0,772.5 L421.0,769.5 L422.0,766.4 L423.0,763.3 L424.0,760.0 L425.0,756.7 L426.0,753.2 L427.0,749.7 L428.0,746.1 L429.0,742.5 L430.0,738.7 L431.0,735.0 L432.0,731.1 L433.0,727.2 L434.0,723.3 L435.0,719.3 L436.0,715.3 L437.0,711.3 L438.0,707.2 L439.0,703.2 L440.0,699.1 L441.0,695.0 L442.0,691.0 L443.0,686.9 L444.0,682.9 L445.0,678.9 L446.0,675.0 L447.0,671.1 L448.0,667.2 L449.0,663.4 L450.0,659.7 L451.0,656.1 L452.0,652.5 L453.0,649.1 L454.0,645.7 L455.0,642.5 L456.0,639.3 L457.0,636.3 L458.0,633.4 L459.0,630.7 L460.0,628.1 L461.0,625.7 L462.0,623.4 L463.0,621.3 L464.0,619.3 L465.0,617.5 L466.0,615.9 L467.0,614.5 L468.0,613.3 L469.0,612.3 L470.0,611.4 L471.0,610.8 L472.0,610.3 L473.0,610.1 L474.0,610.1 L475.0,610.2 L476.0,610.6 L477.0,611.2 L478.0,612.0 L479.0,613.0 L480.0,614.3 L481.0,615.7 L482.0,617.3 L483.0,619.2 L484.0,621.2 L485.0,623.5 L486.0,625.9 L487.0,628.5 L488.0,631.3 L489.0,634.3 L490.0,637.5 L491.0,640.8 L492.0,644.2 L493.0,647.9 L494.0,651.6 L495.0,655.5 L496.0,659.5 L497.0,663.6 L498.0,667.9 L499.0,672.2 L500.0,676.6 L501.0,681.2 L502.0,685.8 L503.0,690.4 L504.0,695.1 L505.0,699.9 L506.0,704.7 L507.0,709.6 L508.0,714.5 L509.0,719.4 L510.0,724.3 L511.0,729.2 L512.0,734.1 L513.0,739.0 L514.0,743.9 L515.0,748.8 L516.0,753.6 L517.0,758.4 L518.0,763.2 L519.0,767.9 L520.0,772.5 L521.0,777.2 L522.0,781.7 L523.0,786.2 L524.0,790.6 L525.0,794.9 L526.0,799.2 L527.0,803.3 L528.0,807.4 L529.0,811.4 L530.0,815.3 L531.0,819.1 L532.0,822.9 L533.0,826.5 L534.0,830.0 L535.0,833.5 L536.0,836.8 L537.0,840.1 L538.0,843.2 L539.0,846.3 L540.0,849.2 L541.0,852.1 L542.0,854.8 L543.0,857.5 L544.0,860.1 L545.0,862.5 L546.0,864.9 L547.0,867.2 L548.0,869.4 L549.0,871.5 L550.0,873.5 L551.0,875.5 L552.0,877.3 L553.0,879.1 L554.0,880.8 L555.0,882.4 L556.0,884.0 L557.0,885.5 L558.0,886.9 L559.0,888.2 L560.0,889.5 L561.0,890.7 L562.0,891.9 L563.0,893.0 L564.0,894.0 L565.0,895.0 L566.0,895.9 L567.0,896.8 L568.0,897.7 L569.0,898.4 L570.0,899.2 L571.0,899.9 L572.0,900.6 L573.0,901.2 L574.0,901.8 L575.0,902.3 L576.0,902.9 L577.0,903.4 L578.0,903.8 L579.0,904.3 L580.0,904.7 L581.0,905.1 L582.0,905.5 L583.0,905.8 L584.0,906.1 L585.0,906.4 L586.0,906.7 L587.0,907.0 L588.0,907.2 L589.0,907.5 L590.0,907.7 L591.0,907.9 L592.0,908.1 L593.0,908.3 L594.0,908.5 L595.0,908.6 L596.0,908.8 L597.0,908.9 L598.0,909.1 L599.0,909.2 L600.0,909.3 L601.0,909.5 L602.0,909.6 L603.0,909.7 L604.0,909.8 L605.0,909.9 L606.0,910.0 L607.0,910.0 L608.0,910.1 L609.0,910.2 L610.0,910.3 L611.0,910.4 L612.0,910.4 L613.0,910.5 L614.0,910.6 L615.0,910.6 L616.0,910.7 L617.0,910.7 L618.0,910.8 L619.0,910.8 L620.0,910.9 L621.0,910.9 L622.0,911.0 L623.0,911.0 L624.0,911.1 L625.0,911.1 L626.0,911.2 L627.0,911.2 L628.0,911.3 L629.0,911.3 L630.0,911.3 L631.0,911.4 L632.0,911.4 L633.0,911.5 L634.0,911.5" stroke="#dc2832" />
<path d="M56.0,872.7 L57.0,872.7 L58.0,872.7 L59.0,872.6 L60.0,872.6 L61.0,872.5 L62.0,872.5 L63.0,872.5 L64.0,872.4 L65.0,872.4 L66.0,872.3 L67.0,872.3 L68.0,872.2 L69.0,872.2 L70.0,872.1 L71.0,872.1 L72.0,872.1 L73.0,872.0 L74.0,872.0 L75.0,871.9 L76.0,871.9 L77.0,871.8 L78.0,871.8 L79.0,871.7 L80.0,871.7 L81.0,871.6 L82.0,871.6 L83.0,871.5 L84.0,871.5 L85.0,871.4 L86.0,871.3 L87.0,871.3 L88.0,871.2 L89.0,871.2 L90.0,871.1 L91.0,871.1 L92.0,871.0 L93.0,870.9 L94.0,870.9 L95.0,870.8 L96.0,870.8 L97.0,870.7 L98.0,870.6 L99.0,870.6 L100.0,870.5 L101.0,870.4 L102.0,870.4 L103.0,870.3 L104.0,870.2 L105.0,870.2 L106.0,870.1 L107.0,870.0 L108.0,869.9 L109.0,869.9 L110.0,869.8 L111.0,869.7 L112.0,869.6 L113.0,869.6 L114.0,869.5 L115.0,869.4 L116.0,869.3 L117.0,869.2 L118.0,869.1 L119.0,869.1 L120.0,869.0 L121.0,868.9 L122.0,868.8 L123.0,868.7 L124.0,868.6 L125.0,868.5 L126.0,868.4 L127.0,868.3 L128.0,868.2 L129.0,868.1 L130.0,868.0 L131.0,867.9 L132.0,867.8 L133.0,867.7 L134.0,867.6 L135.0,867.5 L136.0,867.4 L137.0,867.3 L138.0,867.1 L139.0,867.0 L140.0,866.9 L141.0,866.8 L142.0,866.7 L143.0,866.5 L144.0,866.4 L145.0,866.3 L146.0,866.1 L147.0,866.0 L148.0,865.9 L149.0,865.7 L150.0,865.6 L151.0,865.4 L152.0,865.3 L153.0,865.2 L154.0,865.0 L155.0,864.8 L156.0,864.7 L157.0,864.5 L158.0,864.4 L159.0,864.2 L160.0,864.0 L161.0,863.8 L162.0,863.7 L163.0,863.5 L164.0,863.3 L165.0,863.1 L166.0,862.9 L167.0,862.7 L168.0,862.5 L169.0,862.3 L170.0,862.1 L171.0,861.8 L172.0,861.6 L173.0,861.4 L174.0,861.1 L175.0,860.9 L176.0,860.6 L177.0,860.4 L178.0,860.1 L179.0,859.9 L180.0,859.6 L181.0,859.3 L182.0,859.0 L183.0,858.7 L184.0,858.4 L185.0,858.1 L186.0,857.8 L187.0,857.4 L188.0,857.1 L189.0,856.7 L190.0,856.4 L191.0,856.0 L192.0,855.6 L193.0,855.2 L194.0,854.8 L195.0,854.4 L196.0,853.9 L197.0,853.5 L198.0,853.0 L199.0,852.6 L200.0,852.1 L201.0,851.6 L202.0,851.0 L203.0,850.5 L204.0,850.0 L205.0,849.4 L206.0,848.8 L207.0,848.2 L208.0,847.6 L209.0,846.9 L210.0,846.2 L211.0,845.6 L212.0,844.8 L213.0,844.1 L214.0,843.4 L215.0,842.6 L216.0,841.8 L217.0,841.0 L218.0,840.1 L219.0,839.2 L220.0,838.3 L221.0,837.4 L222.0,836.4 L223.0,835.4 L224.0,834.4 L225.0,833.3 L226.0,832.3 L227.0,831.1 L228.0,830.0 L229.0,828.8 L230.0,827.6 L231.0,826.3 L232.0,825.0 L233.0,823.7 L234.0,822.3 L235.0,820.9 L236.0,819.5 L237.0,818.0 L238.0,816.5 L239.0,814.9 L240.0,813.3 L241.0,811.7 L242.0,810.0 L243.0,808.3 L244.0,806.5 L245.0,804.7 L246.0,802.9 L247.0,801.0 L248.0,799.0 L249.0,797.0 L250.0,795.0 L251.0,792.9 L252.0,790.8 L253.0,788.7 L254.0,786.4 L255.0,784.2 L256.0,781.9 L257.0,779.6 L258.0,777.2 L259.0,774.8 L260.0,772.3 L261.0,769.8 L262.0,767.2 L263.0,764.6 L264.0,762.0 L265.0,759.3 L266.0,756.6 L267.0,753.9 L268.0,751.1 L269.0,748.3 L270.0,745.4 L271.0,742.6 L272.0,739.7 L273.0,736.7 L274.0,733.8 L275.0,730.8 L276.0,727.8 L277.0,724.8 L278.0,721.8 L279.0,718.8 L280.0,715.7 L281.0,712.7 L282.0,709.7 L283.0,706.6 L284.0,703.6 L285.0,700.6 L286.0,697.6 L287.0,694.7 L288.0,691.8 L289.0,688.9 L290.0,686.1 L291.0,683.3 L292.0,680.5 L293.0,677.9 L294.0,675.3 L295.0,672.7 L296.0,670.3 L297.0,667.9 L298.0,665.7 L299.0,663.5 L300.0,661.5 L301.0,659.5 L302.0,657.7 L303.0,656.0 L304.0,654.5 L305.0,653.1 L306.0,651.8 L307.0,650.7 L308.0,649.8 L309.0,649.0 L310.0,648.4 L311.0,647.9 L312.0,647.6 L313.0,647.5 L314.0,647.6 L315.0,647.8 L316.0,648.2 L317.0,648.8 L318.0,649.6 L319.0,650.6 L320.0,651.7 L321.0,653.0 L322.0,654.5 L323.0,656.1 L324.0,657.9 L325.0,659.9 L326.0,661.9 L327.0,664.2 L328.0,666.5 L329.0,669.0 L330.0,671.5 L331.0,674.2 L332.0,676.9 L333.0,679.8 L334.0,682.7 L335.0,685.7 L336.0,688.8 L337.0,691.9 L338.0,695.0 L339.0,698.2 L340.0,701.5 L341.0,704.7 L342.0,708.0 L343.0,711.3 L344.0,714.6 L345.0,717.9 L346.0,721.2 L347.0,724.5 L348.0,727.8 L349.0,731.1 L350.0,734.3 L351.0,737.6 L352.0,740.8 L353.0,744.0 L354.0,747.1 L355.0,750.2 L356.0,753.3 L357.0,756.4 L358.0,759.4 L359.0,762.4 L360.0,765.3 L361.0,768.2 L362.0,771.0 L363.0,773.8 L364.0,776.6 L365.0,779.3 L366.0,781.9 L367.0,784.5 L368.0,787.1 L369.0,789.6 L370.0,792.1 L371.0,794.5 L372.0,796.9 L373.0,799.2 L374.0,801.5 L375.0,803.7 L376.0,805.9 L377.0,808.0 L378.0,810.1 L379.0,812.1 L380.0,814.1 L381.0,816.0 L382.0,817.9 L383.0,819.8 L384.0,821.6 L385.0,823.4 L386.0,825.1 L387.0,826.8 L388.0,828.4 L389.0,830.0 L390.0,831.6 L391.0,833.1 L392.0,834.6 L393.0,836.0 L394.0,837.4 L395.0,838.8 L396.0,840.2 L397.0,841.5 L398.0,842.7 L399.0,844.0 L400.0,845.2 L401.0,846.4 L402.0,847.5 L403.0,848.6 L404.0,849.7 L405.0,850.8 L406.0,851.8 L407.0,852.8 L408.0,853.8 L409.0,854.8 L410.0,855.7 L411.0,856.6 L412.0,857.5 L413.0,858.4 L414.0,859.2 L415.0,860.0 L416.0,860.8 L417.0,861.6 L418.0,862.4 L419.0,863.2 L420.0,863.9 L421.0,864.6 L422.0,865.3 L423.0,866.0 L424.0,866.7 L425.0,867.3 L426.0,868.0 L427.0,868.6 L428.0,869.2 L429.0,869.9 L430.0,870.5 L431.0,871.0 L432.0,871.6 L433.0,872.2 L434.0,872.8 L435.0,873.3 L436.0,873.9 L437.0,874.4 L438.0,874.9 L439.0,875.4 L440.0,876.0 L441.0,876.5 L442.0,877.0 L443.0,877.5 L444.0,878.0 L445.0,878.4 L446.0,878.9 L447.0,879.4 L448.0,879.9 L449.0,880.3 L450.0,880.8 L451.0,881.2 L452.0,881.7 L453.0,882.1 L454.0,882.6 L455.0,883.0 L456.0,883.5 L457.0,883.9 L458.0,884.3 L459.0,884.8 L460.0,885.2 L461.0,885.6 L462.0,886.0 L463.0,886.4 L464.0,886.9 L465.0,887.3 L466.0,887.7 L467.0,888.1 L468.0,888.5 L469.0,888.9 L470.0,889.3 L471.0,889.7 L472.0,890.1 L473.0,890.4 L474.0,890.8 L475.0,891.2 L476.0,891.6 L477.0,892.0 L478.0,892.3 L479.0,892.7 L480.0,893.1 L481.0,893.4 L482.0,893.8 L483.0,894.1 L484.0,894.5 L485.0,894.8 L486.0,895.1 L487.0,895.5 L488.0,895.8 L489.0,896.1 L490.0,896.5 L491.0,896.8 L492.0,897.1 L493.0,897.4 L494.0,897.7 L495.0,898.0 L496.0,898.3 L497.0,898.6 L498.0,898.9 L499.0,899.2 L500.0,899.5 L501.0,899.7 L502.0,900.0 L503.0,900.3 L504.0,900.5 L505.0,900.8 L506.0,901.0 L507.0,901.3 L508.0,901.5 L509.0,901.8 L510.0,902.0 L511.0,902.2 L512.0,902.4 L513.0,902.7 L514.0,902.9 L515.0,903.1 L516.0,903.3 L517.0,903.5 L518.0,903.7 L519.0,903.9 L520.0,904.1 L521.0,904.2 L522.0,904.4 L523.0,904.6 L524.0,904.8 L525.0,904.9 L526.0,905.1 L527.0,905.2 L528.0,905.4 L529.0,905.5 L530.0,905.7 L531.0,905.8 L532.0,906.0 L533.0,906.1 L534.0,906.3 L535.0,906.4 L536.0,906.5 L537.0,906.6 L538.0,906.8 L539.0,906.9 L540.0,907.0 L541.0,907.1 L542.0,907.2 L543.0,907.3 L544.0,907.4 L545.0,907.5 L546.0,907.6 L547.0,907.7 L548.0,907.8 L549.0,907.9 L550.0,908.0 L551.0,908.1 L552.0,908.2 L553.0,908.3 L554.0,908.3 L555.0,908.4 L556.0,908.5 L557.0,908.6 L558.0,908.7 L559.0,908.7 L560.0,908.8 L561.0,908.9 L562.0,908.9 L563.0,909.0 L564.0,909.1 L565.0,909.1 L566.0,909.2 L567.0,909.3 L568.0,909.3 L569.0,909.4 L570.0,909.5 L571.0,909.5 L572.0,909.6 L573.0,909.6 L574.0,909.7 L575.0,909.8 L576.0,909.8 L577.0,909.9 L578.0,909.9 L579.0,910.0 L580.0,910.0 L581.0,910.1 L582.0,910.1 L583.0,910.2 L584.0,910.2 L585.0,910.3 L586.0,910.3 L587.0,910.4 L588.0,910.4 L589.0,910.5 L590.0,910.5 L591.0,910.5 L592.0,910.6 L593.0,910.6 L594.0,910.7 L595.0,910.7 L596.0,910.8 L597.0,910.8 L598.0,910.8 L599.0,910.9 L600.0,910.9 L601.0,911.0 L602.0,911.0 L603.0,911.0 L604.0,911.1 L605.0,911.1 L606.0,911.2 L607.0,911.2 L608.0,911.2 L609.0,911.3 L610.0,911.3 L611.0,911.3 L612.0,911.4 L613.0,911.4 L614.0,911.4 L615.0,911.5 L616.0,911.5 L617.0,911.6 L618.0,911.6 L619.0,911.6 L620.0,911.7 L621.0,911.7 L622.0,911.7 L623.0,911.7 L624.0,911.8 L625.0,911.8 L626.0,911.8 L627.0,911.9 L628.0,911.9 L629.0,911.9 L630.0,912.0 L631.0,912.0 L632.0,912.0 L633.0,912.1 L634.0,912.1" stroke="#cf3cd0" />
<path d="M56.0,878.3 L57.0,878.3 L58.0,878.3 L59.0,878.3 L60.0,878.3 L61.0,878.3 L62.0,878.3 L63.0,878.3 L64.0,878.3 L65.0,878.3 L66.0,878.3 L67.0,878.3 L68.0,878.4 L69.0,878.4 L70.0,878.4 L71.0,878.4 L72.0,878.4 L73.0,878.4 L74.0,878.4 L75.0,878.4 L76.0,878.4 L77.0,878.4 L78.0,878.4 L79.0,878.4 L80.0,878.4 L81.0,878.4 L82.0,878.4 L83.0,878.4 L84.0,878.4 L85.0,878.4 L86.0,878.4 L87.0,878.4 L88.0,878.4 L89.0,878.4 L90.0,878.4 L91.0,878.4 L92.0,878.5 L93.0,878.5 L94.0,878.5 L95.0,878.5 L96.0,878.5 L97.0,878.5 L98.0,878.5 L99.0,878.5 L100.0,878.5 L101.0,878.5 L102.0,878.5 L103.0,878.5 L104.0,878.5 L105.0,878.5 L106.0,878.5 L107.0,878.5 L108.0,878.5 L109.0,878.5 L110.0,878.5 L111.0,878.5 L112.0,878.6 L113.0,878.6 L114.0,878.6 L115.0,878.6 L116.0,878.6 L117.0,878.6 L118.0,878.6 L119.0,878.6 L120.0,878.6 L121.0,878.6 L122.0,878.6 L123.0,878.6 L124.0,878.6 L125.0,878.6 L126.0,878.6 L127.0,878.6 L128.0,878.6 L129.0,878.7 L130.0,878.7 L131.0,878.7 L132.0,878.7 L133.0,878.7 L134.0,878.7 L135.0,878.7 L136.0,878.7 L137.0,878.7 L138.0,878.7 L139.0,878.7 L140.0,878.7 L141.0,878.7 L142.0,878.7 L143.0,878.7 L144.0,878.8 L145.0,878.8 L146.0,878.8 L147.0,878.8 L148.0,878.8 L149.0,878.8 L150.0,878.8 L151.0,878.8 L152.0,878.8 L153.0,878.8 L154.0,878.8 L155.0,878.8 L156.0,878.9 L157.0,878.9 L158.0,878.9 L159.0,878.9 L160.0,878.9 L161.0,878.9 L162.0,878.9 L163.0,878.9 L164.0,878.9 L165.0,878.9 L166.0,878.9 L167.0,879.0 L168.0,879.0 L169.0,879.0 L170.0,879.0 L171.0,879.0 L172.0,879.0 L173.0,879.0 L174.0,879.0 L175.0,879.0 L176.0,879.1 L177.0,879.1 L178.0,879.1 L179.0,879.1 L180.0,879.1 L181.0,879.1 L182.0,879.1 L183.0,879.1 L184.0,879.1 L185.0,879.2 L186.0,879.2 L187.0,879.2 L188.0,879.2 L189.0,879.2 L190.0,879.2 L191.0,879.2 L192.0,879.3 L193.0,879.3 L194.0,879.3 L195.0,879.3 L196.0,879.3 L197.0,879.3 L198.0,879.3 L199.0,879.4 L200.0,879.4 L201.0,879.4 L202.0,879.4 L203.0,879.4 L204.0,879.5 L205.0,879.5 L206.0,879.5 L207.0,879.5 L208.0,879.5 L209.0,879.6 L210.0,879.6 L211.0,879.6 L212.0,879.6 L213.0,879.6 L214.0,879.7 L215.0,879.7 L216.0,879.7 L217.0,879.7 L218.0,879.8 L219.0,879.8 L220.0,879.8 L221.0,879.8 L222.0,879.9 L223.0,879.9 L224.0,879.9 L225.0,879.9 L226.0,880.0 L227.0,880.0 L228.0,880.0 L229.0,880.1 L230.0,880.1 L231.0,880.1 L232.0,880.2 L233.0,880.2 L234.0,880.2 L235.0,880.3 L236.0,880.3 L237.0,880.4 L238.0,880.4 L239.0,880.4 L240.0,880.5 L241.0,880.5 L242.0,880.6 L243.0,880.6 L244.0,880.7 L245.0,880.7 L246.0,880.8 L247.0,880.8 L248.0,880.9 L249.0,880.9 L250.0,881.0 L251.0,881.0 L252.0,881.1 L253.0,881.1 L254.0,881.2 L255.0,881.3 L256.0,881.3 L257.0,881.4 L258.0,881.4 L259.0,881.5 L260.0,881.6 L261.0,881.7 L262.0,881.7 L263.0,881.8 L264.0,881.9 L265.0,882.0 L266.0,882.0 L267.0,882.1 L268.0,882.2 L269.0,882.3 L270.0,882.4 L271.0,882.5 L272.0,882.6 L273.0,882.6 L274.0,882.7 L275.0,882.8 L276.0,882.9 L277.0,883.0 L278.0,883.1 L279.0,883.2 L280.0,883.4 L281.0,883.5 L282.0,883.6 L283.0,883.7 L284.0,883.8 L285.0,883.9 L286.0,884.0 L287.0,884.2 L288.0,884.3 L289.0,884.4 L290.0,884.5 L291.0,884.7 L292.0,884.8 L293.0,884.9 L294.0,885.1 L295.0,885.2 L296.0,885.3 L297.0,885.5 L298.0,885.6 L299.0,885.8 L300.0,885.9 L301.0,886.0 L302.0,886.2 L303.0,886.3 L304.0,886.5 L305.0,886.6 L306.0,886.8 L307.0,886.9 L308.0,887.1 L309.0,887.2 L310.0,887.4 L311.0,887.5 L312.0,887.7 L313.0,887.8 L314.0,888.0 L315.0,888.1 L316.0,888.3 L317.0,888.4 L318.0,888.6 L319.0,888.7 L320.0,888.9 L321.0,889.0 L322.0,889.2 L323.0,889.3 L324.0,889.5 L325.0,889.6 L326.0,889.7 L327.0,889.9 L328.0,890.0 L329.0,890.1 L330.0,890.3 L331.0,890.4 L332.0,890.5 L333.0,890.6 L334.0,890.7 L335.0,890.9 L336.0,891.0 L337.0,891.1 L338.0,891.2 L339.0,891.2 L340.0,891.3 L341.0,891.4 L342.0,891.5 L343.0,891.6 L344.0,891.6 L345.0,891.7 L346.0,891.7 L347.0,891.8 L348.0,891.8 L349.0,891.8 L350.0,891.9 L351.0,891.9 L352.0,891.9 L353.0,891.9 L354.0,891.9 L355.0,891.8 L356.0,891.8 L357.0,891.7 L358.0,891.7 L359.0,891.6 L360.0,891.5 L361.0,891.4 L362.0,891.3 L363.0,891.1 L364.0,891.0 L365.0,890.8 L366.0,890.6 L367.0,890.4 L368.0,890.1 L369.0,889.8 L370.0,889.5 L371.0,889.2 L372.0,888.9 L373.0,888.5 L374.0,888.1 L375.0,887.7 L376.0,887.2 L377.0,886.7 L378.0,886.2 L379.0,885.6 L380.0,885.0 L381.0,884.3 L382.0,883.6 L383.0,882.9 L384.0,882.1 L385.0,881.2 L386.0,880.3 L387.0,879.4 L388.0,878.4 L389.0,877.3 L390.0,876.2 L391.0,875.0 L392.0,873.8 L393.0,872.5 L394.0,871.1 L395.0,869.6 L396.0,868.1 L397.0,866.5 L398.0,864.9 L399.0,863.2 L400.0,861.3 L401.0,859.5 L402.0,857.5 L403.0,855.4 L404.0,853.3 L405.0,851.1 L406.0,848.8 L407.0,846.4 L408.0,843.9 L409.0,841.3 L410.0,838.6 L411.0,835.9 L412.0,833.1 L413.0,830.1 L414.0,827.1 L415.0,824.0 L416.0,820.8 L417.0,817.5 L418.0,814.2 L419.0,810.7 L420.0,807.2 L421.0,803.6 L422.0,799.9 L423.0,796.1 L424.0,792.3 L425.0,788.4 L426.0,784.4 L427.0,780.3 L428.0,776.2 L429.0,772.1 L430.0,767.8 L431.0,763.6 L432.0,759.3 L433.0,754.9 L434.0,750.5 L435.0,746.1 L436.0,741.7 L437.0,737.3 L438.0,732.8 L439.0,728.4 L440.0,723.9 L441.0,719.5 L442.0,715.0 L443.0,710.6 L444.0,706.3 L445.0,701.9 L446.0,697.7 L447.0,693.4 L448.0,689.3 L449.0,685.2 L450.0,681.2 L451.0,677.2 L452.0,673.4 L453.0,669.6 L454.0,666.0 L455.0,662.5 L456.0,659.1 L457.0,655.8 L458.0,652.7 L459.0,649.7 L460.0,646.9 L461.0,644.2 L462.0,641.7 L463.0,639.3 L464.0,637.1 L465.0,635.1 L466.0,633.3 L467.0,631.7 L468.0,630.3 L469.0,629.0 L470.0,628.0 L471.0,627.2 L472.0,626.5 L473.0,626.1 L474.0,625.9 L475.0,625.9 L476.0,626.1 L477.0,626.5 L478.0,627.1 L479.0,628.0 L480.0,629.0 L481.0,630.3 L482.0,631.8 L483.0,633.5 L484.0,635.4 L485.0,637.5 L486.0,639.8 L487.0,642.2 L488.0,644.9 L489.0,647.7 L490.0,650.7 L491.0,653.9 L492.0,657.2 L493.0,660.7 L494.0,664.3 L495.0,668.1 L496.0,671.9 L497.0,675.9 L498.0,680.1 L499.0,684.3 L500.0,688.6 L501.0,693.0 L502.0,697.5 L503.0,702.0 L504.0,706.6 L505.0,711.3 L506.0,716.0 L507.0,720.7 L508.0,725.5 L509.0,730.3 L510.0,735.1 L511.0,739.9 L512.0,744.7 L513.0,749.5 L514.0,754.3 L515.0,759.1 L516.0,763.8 L517.0,768.5 L518.0,773.2 L519.0,777.8 L520.0,782.4 L521.0,786.9 L522.0,791.4 L523.0,795.8 L524.0,800.1 L525.0,804.3 L526.0,808.5 L527.0,812.6 L528.0,816.6 L529.0,820.5 L530.0,824.3 L531.0,828.1 L532.0,831.7 L533.0,835.3 L534.0,838.7 L535.0,842.1 L536.0,845.4 L537.0,848.5 L538.0,851.6 L539.0,854.6 L540.0,857.5 L541.0,860.3 L542.0,862.9 L543.0,865.5 L544.0,868.0 L545.0,870.4 L546.0,872.8 L547.0,875.0 L548.0,877.1 L549.0,879.2 L550.0,881.1 L551.0,883.0 L552.0,884.8 L553.0,886.5 L554.0,888.2 L555.0,889.7 L556.0,891.2 L557.0,892.7 L558.0,894.0 L559.0,895.3 L560.0,896.5 L561.0,897.7 L562.0,898.8 L563.0,899.8 L564.0,900.8 L565.0,901.7 L566.0,902.6 L567.0,903.5 L568.0,904.3 L569.0,905.0 L570.0,905.7 L571.0,906.4 L572.0,907.0 L573.0,907.6 L574.0,908.1 L575.0,908.6 L576.0,909.1 L577.0,909.5 L578.0,910.0 L579.0,910.4 L580.0,910.7 L581.0,911.1 L582.0,911.4 L583.0,911.7 L584.0,912.0 L585.0,912.3 L586.0,912.5 L587.0,912.7 L588.0,912.9 L589.0,913.1 L590.0,913.3 L591.0,913.5 L592.0,913.7 L593.0,913.8 L594.0,913.9 L595.0,914.1 L596.0,914.2 L597.0,914.3 L598.0,914.4 L599.0,914.5 L600.0,914.6 L601.0,914.7 L602.0,914.7 L603.0,914.8 L604.0,914.9 L605.0,914.9 L606.0,915.0 L607.0,915.0 L608.0,915.1 L609.0,915.1 L610.0,915.2 L611.0,915.2 L612.0,915.3 L613.0,915.3 L614.0,915.3 L615.0,915.4 L616.0,915.4 L617.0,915.4 L618.0,915.4 L619.0,915.5 L620.0,915.5 L621.0,915.5 L622.0,915.5 L623.0,915.6 L624.0,915.6 L625.0,915.6 L626.0,915.6 L627.0,915.6 L628.0,915.6 L629.0,915.7 L630.0,915.7 L631.0,915.7 L632.0,915.7 L633.0,915.7 L634.0,915.7" stroke="#3a8a40" />
<path d="M727.0,881.3 L728.0,881.3 L729.0,881.3 L730.0,881.2 L731.0,881.2 L732.0,881.2 L733.0,881.1 L734.0,881.1 L735.0,881.1 L736.0,881.1 L737.0,881.0 L738.0,881.0 L739.0,881.0 L740.0,881.0 L741.0,880.9 L742.0,880.9 L743.0,880.9 L744.0,880.8 L745.0,880.8 L746.0,880.8 L747.0,880.7 L748.0,880.7 L749.0,880.7 L750.0,880.6 L751.0,880.6 L752.0,880.6 L753.0,880.6 L754.0,880.5 L755.0,880.5 L756.0,880.5 L757.0,880.4 L758.0,880.4 L759.0,880.4 L760.0,880.3 L761.0,880.3 L762.0,880.3 L763.0,880.3 L764.0,880.2 L765.0,880.2 L766.0,880.2 L767.0,880.1 L768.0,880.1 L769.0,880.1 L770.0,880.1 L771.0,880.0 L772.0,880.0 L773.0,880.0 L774.0,880.0 L775.0,879.9 L776.0,879.9 L777.0,879.9 L778.0,879.9 L779.0,879.8 L780.0,879.8 L781.0,879.8 L782.0,879.8 L783.0,879.8 L784.0,879.7 L785.0,879.7 L786.0,879.7 L787.0,879.7 L788.0,879.7 L789.0,879.7 L790.0,879.7 L791.0,879.6 L792.0,879.6 L793.0,879.6 L794.0,879.6 L795.0,879.6 L796.0,879.6 L797.0,879.6 L798.0,879.6 L799.0,879.6 L800.0,879.6 L801.0,879.6 L802.0,879.6 L803.0,879.6 L804.0,879.6 L805.0,879.6 L806.0,879.6 L807.0,879.6 L808.0,879.6 L809.0,879.6 L810.0,879.6 L811.0,879.7 L812.0,879.7 L813.0,879.7 L814.0,879.7 L815.0,879.7 L816.0,879.7 L817.0,879.7 L818.0,879.7 L819.0,879.8 L820.0,879.8 L821.0,879.8 L822.0,879.8 L823.0,879.8 L824.0,879.9 L825.0,879.9 L826.0,879.9 L827.0,879.9 L828.0,879.9 L829.0,880.0 L830.0,880.0 L831.0,880.0 L832.0,880.0 L833.0,880.0 L834.0,880.1 L835.0,880.1 L836.0,880.1 L837.0,880.1 L838.0,880.2 L839.0,880.2 L840.0,880.2 L841.0,880.2 L842.0,880.3 L843.0,880.3 L844.0,880.3 L845.0,880.4 L846.0,880.4 L847.0,880.4 L848.0,880.4 L849.0,880.5 L850.0,880.5 L851.0,880.5 L852.0,880.5 L853.0,880.6 L854.0,880.6 L855.0,880.6 L856.0,880.7 L857.0,880.7 L858.0,880.7 L859.0,880.7 L860.0,880.8 L861.0,880.8 L862.0,880.8 L863.0,880.9 L864.0,880.9 L865.0,880.9 L866.0,880.9 L867.0,881.0 L868.0,881.0 L869.0,881.0 L870.0,881.0 L871.0,881.1 L872.0,881.1 L873.0,881.1 L874.0,881.1 L875.0,881.2 L876.0,881.2 L877.0,881.2 L878.0,881.2 L879.0,881.3 L880.0,881.3 L881.0,881.3 L882.0,881.3 L883.0,881.4 L884.0,881.4 L885.0,881.4 L886.0,881.4 L887.0,881.5 L888.0,881.5 L889.0,881.5 L890.0,881.5 L891.0,881.5 L892.0,881.6 L893.0,881.6 L894.0,881.6 L895.0,881.6 L896.0,881.7 L897.0,881.7 L898.0,881.7 L899.0,881.7 L900.0,881.8 L901.0,881.8 L902.0,881.8 L903.0,881.8 L904.0,881.9 L905.0,881.9 L906.0,881.9 L907.0,881.9 L908.0,882.0 L909.0,882.0 L910.0,882.0 L911.0,882.0 L912.0,882.1 L913.0,882.1 L914.0,882.1 L915.0,882.2 L916.0,882.2 L917.0,882.2 L918.0,882.2 L919.0,882.3 L920.0,882.3 L921.0,882.3 L922.0,882.4 L923.0,882.4 L924.0,882.4 L925.0,882.5 L926.0,882.5 L927.0,882.5 L928.0,882.6 L929.0,882.6 L930.0,882.6 L931.0,882.7 L932.0,882.7 L933.0,882.7 L934.0,882.8 L935.0,882.8 L936.0,882.8 L937.0,882.9 L938.0,882.9 L939.0,883.0 L940.0,883.0 L941.0,883.1 L942.0,883.1 L943.0,883.2 L944.0,883.2 L945.0,883.3 L946.0,883.3 L947.0,883.4 L948.0,883.4 L949.0,883.5 L950.0,883.6 L951.0,883.6 L952.0,883.7 L953.0,883.7 L954.0,883.8 L955.0,883.9 L956.0,883.9 L957.0,884.0 L958.0,884.1 L959.0,884.1 L960.0,884.2 L961.0,884.3 L962.0,884.3 L963.0,884.4 L964.0,884.5 L965.0,884.6 L966.0,884.6 L967.0,884.7 L968.0,884.8 L969.0,884.9 L970.0,884.9 L971.0,885.0 L972.0,885.1 L973.0,885.2 L974.0,885.3 L975.0,885.4 L976.0,885.5 L977.0,885.6 L978.0,885.7 L979.0,885.8 L980.0,885.9 L981.0,886.0 L982.0,886.1 L983.0,886.2 L984.0,886.3 L985.0,886.4 L986.0,886.5 L987.0,886.6 L988.0,886.7 L989.0,886.8 L990.0,886.9 L991.0,887.0 L992.0,887.1 L993.0,887.3 L994.0,887.4 L995.0,887.5 L996.0,887.6 L997.0,887.7 L998.0,887.8 L999.0,887.9 L1000.0,888.1 L1001.0,888.2 L1002.0,888.3 L1003.0,888.4 L1004.0,888.5 L1005.0,888.7 L1006.0,888.8 L1007.0,888.9 L1008.0,889.0 L1009.0,889.1 L1010.0,889.2 L1011.0,889.4 L1012.0,889.5 L1013.0,889.6 L1014.0,889.7 L1015.0,889.8 L1016.0,889.9 L1017.0,890.0 L1018.0,890.2 L1019.0,890.3 L1020.0,890.4 L1021.0,890.5 L1022.0,890.6 L1023.0,890.7 L1024.0,890.8 L1025.0,890.9 L1026.0,891.0 L1027.0,891.1 L1028.0,891.2 L1029.0,891.3 L1030.0,891.4 L1031.0,891.5 L1032.0,891.6 L1033.0,891.7 L1034.0,891.8 L1035.0,891.9 L1036.0,892.0 L1037.0,892.1 L1038.0,892.2 L1039.0,892.3 L1040.0,892.4 L1041.0,892.5 L1042.0,892.6 L1043.0,892.7 L1044.0,892.8 L1045.0,892.9 L1046.0,893.0 L1047.0,893.1 L1048.0,893.2 L1049.0,893.3 L1050.0,893.4 L1051.0,893.6 L1052.0,893.7 L1053.0,893.8 L1054.0,893.9 L1055.0,894.0 L1056.0,894.2 L1057.0,894.3 L1058.0,894.4 L1059.0,894.6 L1060.0,894.7 L1061.0,894.9 L1062.0,895.0 L1063.0,895.2 L1064.0,895.3 L1065.0,895.5 L1066.0,895.7 L1067.0,895.8 L1068.0,896.0 L1069.0,896.2 L1070.0,896.4 L1071.0,896.6 L1072.0,896.8 L1073.0,897.0 L1074.0,897.2 L1075.0,897.4 L1076.0,897.6 L1077.0,897.8 L1078.0,898.0 L1079.0,898.2 L1080.0,898.4 L1081.0,898.6 L1082.0,898.8 L1083.0,899.1 L1084.0,899.3 L1085.0,899.5 L1086.0,899.7 L1087.0,899.9 L1088.0,900.1 L1089.0,900.3 L1090.0,900.5 L1091.0,900.7 L1092.0,900.9 L1093.0,901.1 L1094.0,901.3 L1095.0,901.5 L1096.0,901.7 L1097.0,901.9 L1098.0,902.1 L1099.0,902.3 L1100.0,902.5 L1101.0,902.7 L1102.0,902.9 L1103.0,903.1 L1104.0,903.3 L1105.0,903.5 L1106.0,903.7 L1107.0,904.0 L1108.0,904.2 L1109.0,904.4 L1110.0,904.6 L1111.0,904.8 L1112.0,905.0 L1113.0,905.2 L1114.0,905.5 L1115.0,905.7 L1116.0,905.9 L1117.0,906.1 L1118.0,906.3 L1119.0,906.5 L1120.0,906.7 L1121.0,906.9 L1122.0,907.1 L1123.0,907.3 L1124.0,907.5 L1125.0,907.7 L1126.0,907.9 L1127.0,908.0 L1128.0,908.2 L1129.0,908.4 L1130.0,908.6 L1131.0,908.7 L1132.0,908.9 L1133.0,909.0 L1134.0,909.1 L1135.0,909.3 L1136.0,909.4 L1137.0,909.5 L1138.0,909.6 L1139.0,909.7 L1140.0,909.8 L1141.0,909.9 L1142.0,910.0 L1143.0,910.1 L1144.0,910.1 L1145.0,910.2 L1146.0,910.3 L1147.0,910.4 L1148.0,910.5 L1149.0,910.5 L1150.0,910.6 L1151.0,910.7 L1152.0,910.8 L1153.0,910.8 L1154.0,910.9 L1155.0,911.0 L1156.0,911.1 L1157.0,911.1 L1158.0,911.2 L1159.0,911.3 L1160.0,911.3 L1161.0,911.4 L1162.0,911.5 L1163.0,911.5 L1164.0,911.6 L1165.0,911.7 L1166.0,911.7 L1167.0,911.8 L1168.0,911.8 L1169.0,911.9 L1170.0,912.0 L1171.0,912.0 L1172.0,912.1 L1173.0,912.1 L1174.0,912.2 L1175.0,912.2 L1176.0,912.3 L1177.0,912.3 L1178.0,912.4 L1179.0,912.4 L1180.0,912.5 L1181.0,912.5 L1182.0,912.5 L1183.0,912.6 L1184.0,912.6 L1185.0,912.6 L1186.0,912.7 L1187.0,912.7 L1188.0,912.7 L1189.0,912.8 L1190.0,912.8 L1191.0,912.8 L1192.0,912.9 L1193.0,912.9 L1194.0,912.9 L1195.0,912.9 L1196.0,912.9 L1197.0,913.0 L1198.0,913.0 L1199.0,913.0 L1200.0,913.0 L1201.0,913.0 L1202.0,913.0 L1203.0,913.0 L1204.0,913.0 L1205.0,913.1 L1206.0,913.1 L1207.0,913.1 L1208.0,913.1 L1209.0,913.1 L1210.0,913.1 L1211.0,913.1 L1212.0,913.1 L1213.0,913.1 L1214.0,913.1 L1215.0,913.1 L1216.0,913.2 L1217.0,913.2 L1218.0,913.2 L1219.0,913.2 L1220.0,913.2 L1221.0,913.2 L1222.0,913.2 L1223.0,913.2 L1224.0,913.2 L1225.0,913.2 L1226.0,913.2 L1227.0,913.2 L1228.0,913.2 L1229.0,913.2 L1230.0,913.3 L1231.0,913.3 L1232.0,913.3 L1233.0,913.3 L1234.0,913.3 L1235.0,913.3 L1236.0,913.3 L1237.0,913.3 L1238.0,913.3 L1239.0,913.3 L1240.0,913.3 L1241.0,913.3 L1242.0,913.3 L1243.0,913.3 L1244.0,913.3 L1245.0,913.3 L1246.0,913.3 L1247.0,913.3 L1248.0,913.3 L1249.0,913.4 L1250.0,913.4 L1251.0,913.4 L1252.0,913.4 L1253.0,913.4 L1254.0,913.4 L1255.0,913.4 L1256.0,913.4 L1257.0,913.4 L1258.0,913.4 L1259.0,913.4 L1260.0,913.4 L1261.0,913.4 L1262.0,913.4 L1263.0,913.4 L1264.0,913.4 L1265.0,913.4 L1266.0,913.4 L1267.0,913.4 L1268.0,913.4 L1269.0,913.4 L1270.0,913.4 L1271.0,913.4 L1272.0,913.4 L1273.0,913.5 L1274.0,913.5 L1275.0,913.5 L1276.0,913.5 L1277.0,913.5 L1278.0,913.5 L1279.0,913.5 L1280.0,913.5 L1281.0,913.5 L1282.0,913.5 L1283.0,913.5 L1284.0,913.5 L1285.0,913.5 L1286.0,913.5 L1287.0,913.5 L1288.0,913.5 L1289.0,913.5 L1290.0,913.5 L1291.0,913.5 L1292.0,913.5 L1293.0,913.5 L1294.0,913.5 L1295.0,913.5 L1296.0,913.5 L1297.0,913.6 L1298.0,913.6 L1299.0,913.6 L1300.0,913.6 L1301.0,913.6 L1302.0,913.6 L1303.0,913.6 L1304.0,913.6 L1305.0,913.6 L1306.0,913.6" stroke="#3028a8" />
<path d="M727.0,880.4 L729.5,880.9 L732.0,881.5 L734.5,880.9 L737.0,880.4 L739.5,879.4 L742.0,880.6 L744.5,880.8 L747.0,881.3 L749.5,878.1 L752.0,879.5 L754.5,881.8 L757.0,880.5 L759.5,879.7 L762.0,879.3 L764.5,880.0 L767.0,882.5 L769.5,879.0 L772.0,881.6 L774.5,879.4 L777.0,879.2 L779.5,880.7 L782.0,881.5 L784.5,881.9 L787.0,882.6 L789.5,880.9 L792.0,878.4 L794.5,878.8 L797.0,876.8 L799.5,877.2 L802.0,874.9 L804.5,877.4 L807.0,875.7 L809.5,874.4 L812.0,874.4 L814.5,872.0 L817.0,873.9 L819.5,874.0 L822.0,874.7 L824.5,869.6 L827.0,872.0 L829.5,870.3 L832.0,866.8 L834.5,870.3 L837.0,867.5 L839.5,867.6 L842.0,863.4 L844.5,867.1 L847.0,864.5 L849.5,862.9 L852.0,861.4 L854.5,860.9 L857.0,859.3 L859.5,858.4 L862.0,856.4 L864.5,854.8 L867.0,854.1 L869.5,857.1 L872.0,851.3 L874.5,848.2 L877.0,848.0 L879.5,847.6 L882.0,844.5 L884.5,845.4 L887.0,841.8 L889.5,839.1 L892.0,837.2 L894.5,837.5 L897.0,834.3 L899.5,829.9 L902.0,830.1 L904.5,825.2 L907.0,823.6 L909.5,821.9 L912.0,822.1 L914.5,815.7 L917.0,815.8 L919.5,811.2 L922.0,809.6 L924.5,806.9 L927.0,806.8 L929.5,804.0 L932.0,801.8 L934.5,799.5 L937.0,799.7 L939.5,795.4 L942.0,792.7 L944.5,790.7 L947.0,790.1 L949.5,788.4 L952.0,787.1 L954.5,784.5 L957.0,784.6 L959.5,780.7 L962.0,779.8 L964.5,777.9 L967.0,776.0 L969.5,776.5 L972.0,773.7 L974.5,772.9 L977.0,773.3 L979.5,772.3 L982.0,772.6 L984.5,769.1 L987.0,766.5 L989.5,766.1 L992.0,765.3 L994.5,765.2 L997.0,763.5 L999.5,761.7 L1002.0,756.4 L1004.5,757.8 L1007.0,755.2 L1009.5,751.6 L1012.0,747.4 L1014.5,747.6 L1017.0,743.6 L1019.5,740.3 L1021.0,731.0 L1022.0,733.0 L1023.0,723.5 L1024.5,730.7 L1025.5,727.0 L1027.0,726.3 L1029.5,723.5 L1032.0,716.2 L1034.5,711.3 L1037.0,704.2 L1039.5,701.4 L1042.0,692.9 L1044.5,686.1 L1047.0,678.9 L1049.5,676.4 L1052.0,670.5 L1054.5,662.9 L1057.0,659.6 L1059.5,653.4 L1062.0,650.5 L1064.5,645.4 L1067.0,641.2 L1069.5,634.7 L1072.0,630.5 L1074.5,626.3 L1077.0,623.5 L1079.5,620.9 L1082.0,616.4 L1084.5,613.6 L1087.0,612.0 L1089.5,607.2 L1092.0,606.6 L1094.5,606.0 L1097.0,606.1 L1099.5,602.1 L1102.0,604.5 L1103.0,603.5 L1104.5,604.1 L1106.0,611.0 L1107.0,606.1 L1109.5,611.6 L1112.0,612.6 L1114.5,612.6 L1117.0,616.5 L1119.5,623.1 L1122.0,625.1 L1124.5,632.2 L1127.0,637.0 L1129.5,643.7 L1132.0,649.8 L1134.5,656.3 L1137.0,665.5 L1139.5,673.9 L1142.0,686.1 L1144.5,692.0 L1147.0,702.1 L1149.5,711.0 L1152.0,721.4 L1154.5,727.4 L1157.0,737.0 L1159.5,750.1 L1162.0,755.5 L1164.5,763.6 L1167.0,773.0 L1169.5,781.8 L1172.0,789.4 L1174.5,797.6 L1177.0,803.5 L1179.5,813.8 L1182.0,816.2 L1184.5,821.9 L1187.0,828.8 L1189.5,835.8 L1192.0,841.3 L1194.5,847.3 L1197.0,853.0 L1199.5,857.5 L1202.0,860.3 L1204.5,867.3 L1207.0,869.0 L1209.5,874.6 L1212.0,880.4 L1214.5,880.6 L1217.0,884.5 L1219.5,883.7 L1222.0,886.0 L1224.5,890.6 L1227.0,894.5 L1229.5,894.4 L1232.0,894.5 L1234.5,899.8 L1237.0,901.0 L1239.5,902.1 L1242.0,900.5 L1244.5,900.9 L1247.0,903.2 L1249.5,903.9 L1252.0,904.3 L1254.5,908.4 L1257.0,907.7 L1259.5,904.4 L1262.0,906.1 L1264.5,905.8 L1267.0,909.1 L1269.5,908.1 L1272.0,906.8 L1274.5,908.7 L1277.0,909.1 L1279.5,909.6 L1282.0,909.1 L1284.5,908.9 L1287.0,909.6 L1289.5,909.9 L1292.0,909.8 L1294.5,910.0 L1297.0,909.6 L1299.5,910.6 L1302.0,910.6 L1304.5,908.4" stroke="#141414" stroke-width="3.0" />
<path d="M727.0,879.3 L728.0,879.3 L729.0,879.2 L730.0,879.2 L731.0,879.2 L732.0,879.1 L733.0,879.1 L734.0,879.0 L735.0,879.0 L736.0,878.9 L737.0,878.9 L738.0,878.9 L739.0,878.8 L740.0,878.8 L741.0,878.7 L742.0,878.7 L743.0,878.6 L744.0,878.6 L745.0,878.5 L746.0,878.5 L747.0,878.4 L748.0,878.4 L749.0,878.3 L750.0,878.3 L751.0,878.2 L752.0,878.2 L753.0,878.1 L754.0,878.0 L755.0,878.0 L756.0,877.9 L757.0,877.9 L758.0,877.8 L759.0,877.8 L760.0,877.7 L761.0,877.6 L762.0,877.6 L763.0,877.5 L764.0,877.5 L765.0,877.4 L766.0,877.3 L767.0,877.3 L768.0,877.2 L769.0,877.1 L770.0,877.1 L771.0,877.0 L772.0,876.9 L773.0,876.9 L774.0,876.8 L775.0,876.7 L776.0,876.7 L777.0,876.6 L778.0,876.5 L779.0,876.5 L780.0,876.4 L781.0,876.3 L782.0,876.2 L783.0,876.2 L784.0,876.1 L785.0,876.0 L786.0,875.9 L787.0,875.8 L788.0,875.8 L789.0,875.7 L790.0,875.6 L791.0,875.5 L792.0,875.4 L793.0,875.3 L794.0,875.2 L795.0,875.2 L796.0,875.1 L797.0,875.0 L798.0,874.9 L799.0,874.8 L800.0,874.7 L801.0,874.6 L802.0,874.5 L803.0,874.4 L804.0,874.2 L805.0,874.1 L806.0,874.0 L807.0,873.9 L808.0,873.8 L809.0,873.7 L810.0,873.5 L811.0,873.4 L812.0,873.3 L813.0,873.1 L814.0,873.0 L815.0,872.8 L816.0,872.7 L817.0,872.5 L818.0,872.4 L819.0,872.2 L820.0,872.0 L821.0,871.9 L822.0,871.7 L823.0,871.5 L824.0,871.3 L825.0,871.1 L826.0,870.9 L827.0,870.7 L828.0,870.5 L829.0,870.3 L830.0,870.1 L831.0,869.8 L832.0,869.6 L833.0,869.3 L834.0,869.1 L835.0,868.8 L836.0,868.6 L837.0,868.3 L838.0,868.0 L839.0,867.7 L840.0,867.4 L841.0,867.1 L842.0,866.8 L843.0,866.5 L844.0,866.2 L845.0,865.8 L846.0,865.5 L847.0,865.2 L848.0,864.8 L849.0,864.4 L850.0,864.0 L851.0,863.7 L852.0,863.3 L853.0,862.8 L854.0,862.4 L855.0,862.0 L856.0,861.6 L857.0,861.1 L858.0,860.7 L859.0,860.2 L860.0,859.7 L861.0,859.2 L862.0,858.7 L863.0,858.2 L864.0,857.7 L865.0,857.2 L866.0,856.7 L867.0,856.1 L868.0,855.6 L869.0,855.0 L870.0,854.4 L871.0,853.8 L872.0,853.2 L873.0,852.6 L874.0,852.0 L875.0,851.4 L876.0,850.7 L877.0,850.1 L878.0,849.4 L879.0,848.7 L880.0,848.0 L881.0,847.3 L882.0,846.6 L883.0,845.9 L884.0,845.2 L885.0,844.5 L886.0,843.7 L887.0,843.0 L888.0,842.2 L889.0,841.5 L890.0,840.7 L891.0,839.9 L892.0,839.1 L893.0,838.3 L894.0,837.5 L895.0,836.7 L896.0,835.9 L897.0,835.0 L898.0,834.2 L899.0,833.3 L900.0,832.5 L901.0,831.6 L902.0,830.8 L903.0,829.9 L904.0,829.0 L905.0,828.2 L906.0,827.3 L907.0,826.4 L908.0,825.5 L909.0,824.6 L910.0,823.7 L911.0,822.9 L912.0,822.0 L913.0,821.1 L914.0,820.2 L915.0,819.3 L916.0,818.4 L917.0,817.5 L918.0,816.6 L919.0,815.7 L920.0,814.8 L921.0,813.9 L922.0,813.0 L923.0,812.1 L924.0,811.3 L925.0,810.4 L926.0,809.5 L927.0,808.6 L928.0,807.8 L929.0,806.9 L930.0,806.0 L931.0,805.2 L932.0,804.3 L933.0,803.5 L934.0,802.6 L935.0,801.8 L936.0,801.0 L937.0,800.2 L938.0,799.3 L939.0,798.5 L940.0,797.7 L941.0,797.0 L942.0,796.2 L943.0,795.4 L944.0,794.7 L945.0,793.9 L946.0,793.2 L947.0,792.5 L948.0,791.7 L949.0,791.0 L950.0,790.3 L951.0,789.7 L952.0,789.0 L953.0,788.3 L954.0,787.7 L955.0,787.0 L956.0,786.4 L957.0,785.8 L958.0,785.1 L959.0,784.5 L960.0,783.9 L961.0,783.3 L962.0,782.8 L963.0,782.2 L964.0,781.6 L965.0,781.1 L966.0,780.5 L967.0,780.0 L968.0,779.4 L969.0,778.9 L970.0,778.4 L971.0,777.9 L972.0,777.4 L973.0,776.9 L974.0,776.4 L975.0,775.9 L976.0,775.4 L977.0,774.9 L978.0,774.5 L979.0,774.0 L980.0,773.5 L981.0,773.0 L982.0,772.5 L983.0,772.1 L984.0,771.6 L985.0,771.1 L986.0,770.6 L987.0,770.1 L988.0,769.6 L989.0,769.1 L990.0,768.6 L991.0,768.1 L992.0,767.6 L993.0,767.0 L994.0,766.5 L995.0,765.9 L996.0,765.3 L997.0,764.7 L998.0,764.0 L999.0,763.4 L1000.0,762.7 L1001.0,762.0 L1002.0,761.2 L1003.0,760.5 L1004.0,759.7 L1005.0,758.9 L1006.0,758.0 L1007.0,757.1 L1008.0,756.2 L1009.0,755.2 L1010.0,754.2 L1011.0,753.1 L1012.0,752.0 L1013.0,750.9 L1014.0,749.7 L1015.0,748.4 L1016.0,747.1 L1017.0,745.8 L1018.0,744.4 L1019.0,743.0 L1020.0,741.5 L1021.0,739.9 L1022.0,738.3 L1023.0,736.7 L1024.0,735.0 L1025.0,733.2 L1026.0,731.4 L1027.0,729.5 L1028.0,727.6 L1029.0,725.6 L1030.0,723.6 L1031.0,721.5 L1032.0,719.4 L1033.0,717.3 L1034.0,715.1 L1035.0,712.8 L1036.0,710.6 L1037.0,708.3 L1038.0,706.0 L1039.0,703.6 L1040.0,701.2 L1041.0,698.9 L1042.0,696.5 L1043.0,694.1 L1044.0,691.7 L1045.0,689.3 L1046.0,686.9 L1047.0,684.5 L1048.0,682.1 L1049.0,679.8 L1050.0,677.4 L1051.0,675.2 L1052.0,672.9 L1053.0,670.7 L1054.0,668.5 L1055.0,666.4 L1056.0,664.3 L1057.0,662.3 L1058.0,660.4 L1059.0,658.4 L1060.0,656.5 L1061.0,654.6 L1062.0,652.7 L1063.0,650.8 L1064.0,648.9 L1065.0,646.9 L1066.0,645.0 L1067.0,643.1 L1068.0,641.2 L1069.0,639.3 L1070.0,637.5 L1071.0,635.6 L1072.0,633.9 L1073.0,632.1 L1074.0,630.4 L1075.0,628.8 L1076.0,627.2 L1077.0,625.7 L1078.0,624.2 L1079.0,622.8 L1080.0,621.5 L1081.0,620.3 L1082.0,619.1 L1083.0,618.0 L1084.0,617.0 L1085.0,616.0 L1086.0,615.1 L1087.0,614.3 L1088.0,613.5 L1089.0,612.7 L1090.0,612.1 L1091.0,611.4 L1092.0,610.9 L1093.0,610.4 L1094.0,609.9 L1095.0,609.5 L1096.0,609.2 L1097.0,608.9 L1098.0,608.7 L1099.0,608.6 L1100.0,608.5 L1101.0,608.4 L1102.0,608.5 L1103.0,608.6 L1104.0,608.9 L1105.0,609.2 L1106.0,609.6 L1107.0,610.1 L1108.0,610.7 L1109.0,611.4 L1110.0,612.2 L1111.0,613.0 L1112.0,614.0 L1113.0,615.1 L1114.0,616.2 L1115.0,617.5 L1116.0,618.9 L1117.0,620.3 L1118.0,621.9 L1119.0,623.6 L1120.0,625.3 L1121.0,627.2 L1122.0,629.1 L1123.0,631.2 L1124.0,633.3 L1125.0,635.5 L1126.0,637.8 L1127.0,640.2 L1128.0,642.7 L1129.0,645.3 L1130.0,647.9 L1131.0,650.6 L1132.0,653.5 L1133.0,656.4 L1134.0,659.4 L1135.0,662.6 L1136.0,665.7 L1137.0,669.0 L1138.0,672.3 L1139.0,675.7 L1140.0,679.2 L1141.0,682.6 L1142.0,686.2 L1143.0,689.8 L1144.0,693.4 L1145.0,697.0 L1146.0,700.6 L1147.0,704.3 L1148.0,708.0 L1149.0,711.6 L1150.0,715.3 L1151.0,719.0 L1152.0,722.6 L1153.0,726.3 L1154.0,730.0 L1155.0,733.6 L1156.0,737.3 L1157.0,741.0 L1158.0,744.6 L1159.0,748.3 L1160.0,751.9 L1161.0,755.6 L1162.0,759.2 L1163.0,762.8 L1164.0,766.3 L1165.0,769.9 L1166.0,773.4 L1167.0,776.8 L1168.0,780.1 L1169.0,783.3 L1170.0,786.5 L1171.0,789.6 L1172.0,792.6 L1173.0,795.6 L1174.0,798.6 L1175.0,801.5 L1176.0,804.3 L1177.0,807.2 L1178.0,810.0 L1179.0,812.8 L1180.0,815.6 L1181.0,818.3 L1182.0,821.1 L1183.0,823.7 L1184.0,826.3 L1185.0,828.8 L1186.0,831.3 L1187.0,833.7 L1188.0,836.1 L1189.0,838.4 L1190.0,840.6 L1191.0,842.9 L1192.0,845.0 L1193.0,847.2 L1194.0,849.3 L1195.0,851.3 L1196.0,853.3 L1197.0,855.3 L1198.0,857.3 L1199.0,859.2 L1200.0,861.1 L1201.0,863.0 L1202.0,864.8 L1203.0,866.5 L1204.0,868.2 L1205.0,869.9 L1206.0,871.5 L1207.0,873.0 L1208.0,874.5 L1209.0,875.9 L1210.0,877.3 L1211.0,878.7 L1212.0,880.0 L1213.0,881.2 L1214.0,882.4 L1215.0,883.6 L1216.0,884.7 L1217.0,885.8 L1218.0,886.8 L1219.0,887.8 L1220.0,888.7 L1221.0,889.7 L1222.0,890.6 L1223.0,891.5 L1224.0,892.3 L1225.0,893.2 L1226.0,894.0 L1227.0,894.8 L1228.0,895.6 L1229.0,896.3 L1230.0,897.1 L1231.0,897.8 L1232.0,898.5 L1233.0,899.1 L1234.0,899.8 L1235.0,900.4 L1236.0,901.0 L1237.0,901.5 L1238.0,902.1 L1239.0,902.6 L1240.0,903.0 L1241.0,903.5 L1242.0,903.9 L1243.0,904.3 L1244.0,904.6 L1245.0,904.9 L1246.0,905.2 L1247.0,905.5 L1248.0,905.8 L1249.0,906.0 L1250.0,906.3 L1251.0,906.5 L1252.0,906.7 L1253.0,906.9 L1254.0,907.1 L1255.0,907.3 L1256.0,907.4 L1257.0,907.6 L1258.0,907.8 L1259.0,907.9 L1260.0,908.1 L1261.0,908.2 L1262.0,908.3 L1263.0,908.4 L1264.0,908.6 L1265.0,908.7 L1266.0,908.8 L1267.0,908.9 L1268.0,909.0 L1269.0,909.1 L1270.0,909.2 L1271.0,909.2 L1272.0,909.3 L1273.0,909.4 L1274.0,909.5 L1275.0,909.5 L1276.0,909.6 L1277.0,909.7 L1278.0,909.7 L1279.0,909.8 L1280.0,909.8 L1281.0,909.9 L1282.0,910.0 L1283.0,910.0 L1284.0,910.1 L1285.0,910.1 L1286.0,910.1 L1287.0,910.2 L1288.0,910.2 L1289.0,910.3 L1290.0,910.3 L1291.0,910.4 L1292.0,910.4 L1293.0,910.4 L1294.0,910.5 L1295.0,910.5 L1296.0,910.5 L1297.0,910.6 L1298.0,910.6 L1299.0,910.6 L1300.0,910.7 L1301.0,910.7 L1302.0,910.7 L1303.0,910.8 L1304.0,910.8 L1305.0,910.8 L1306.0,910.8" stroke="#dc2832" />
<path d="M727.0,881.3 L728.0,881.2 L729.0,881.2 L730.0,881.2 L731.0,881.1 L732.0,881.1 L733.0,881.1 L734.0,881.0 L735.0,881.0 L736.0,881.0 L737.0,880.9 L738.0,880.9 L739.0,880.9 L740.0,880.8 L741.0,880.8 L742.0,880.8 L743.0,880.7 L744.0,880.7 L745.0,880.6 L746.0,880.6 L747.0,880.6 L748.0,880.5 L749.0,880.5 L750.0,880.4 L751.0,880.4 L752.0,880.3 L753.0,880.3 L754.0,880.3 L755.0,880.2 L756.0,880.2 L757.0,880.1 L758.0,880.1 L759.0,880.0 L760.0,880.0 L761.0,879.9 L762.0,879.9 L763.0,879.8 L764.0,879.8 L765.0,879.7 L766.0,879.7 L767.0,879.6 L768.0,879.6 L769.0,879.5 L770.0,879.5 L771.0,879.4 L772.0,879.4 L773.0,879.3 L774.0,879.3 L775.0,879.2 L776.0,879.2 L777.0,879.1 L778.0,879.1 L779.0,879.0 L780.0,878.9 L781.0,878.9 L782.0,878.8 L783.0,878.8 L784.0,878.7 L785.0,878.6 L786.0,878.6 L787.0,878.5 L788.0,878.5 L789.0,878.4 L790.0,878.3 L791.0,878.3 L792.0,878.2 L793.0,878.1 L794.0,878.1 L795.0,878.0 L796.0,877.9 L797.0,877.8 L798.0,877.8 L799.0,877.7 L800.0,877.6 L801.0,877.5 L802.0,877.5 L803.0,877.4 L804.0,877.3 L805.0,877.2 L806.0,877.1 L807.0,877.0 L808.0,876.9 L809.0,876.8 L810.0,876.7 L811.0,876.6 L812.0,876.5 L813.0,876.4 L814.0,876.3 L815.0,876.2 L816.0,876.0 L817.0,875.9 L818.0,875.8 L819.0,875.7 L820.0,875.5 L821.0,875.4 L822.0,875.2 L823.0,875.1 L824.0,874.9 L825.0,874.8 L826.0,874.6 L827.0,874.4 L828.0,874.2 L829.0,874.1 L830.0,873.9 L831.0,873.7 L832.0,873.5 L833.0,873.3 L834.0,873.0 L835.0,872.8 L836.0,872.6 L837.0,872.4 L838.0,872.1 L839.0,871.9 L840.0,871.6 L841.0,871.4 L842.0,871.1 L843.0,870.8 L844.0,870.5 L845.0,870.2 L846.0,869.9 L847.0,869.6 L848.0,869.3 L849.0,869.0 L850.0,868.6 L851.0,868.3 L852.0,868.0 L853.0,867.6 L854.0,867.2 L855.0,866.8 L856.0,866.5 L857.0,866.1 L858.0,865.7 L859.0,865.2 L860.0,864.8 L861.0,864.4 L862.0,863.9 L863.0,863.5 L864.0,863.0 L865.0,862.6 L866.0,862.1 L867.0,861.6 L868.0,861.1 L869.0,860.6 L870.0,860.0 L871.0,859.5 L872.0,859.0 L873.0,858.4 L874.0,857.9 L875.0,857.3 L876.0,856.7 L877.0,856.1 L878.0,855.5 L879.0,854.9 L880.0,854.3 L881.0,853.7 L882.0,853.0 L883.0,852.4 L884.0,851.7 L885.0,851.1 L886.0,850.4 L887.0,849.7 L888.0,849.1 L889.0,848.4 L890.0,847.7 L891.0,847.0 L892.0,846.3 L893.0,845.5 L894.0,844.8 L895.0,844.1 L896.0,843.3 L897.0,842.6 L898.0,841.8 L899.0,841.1 L900.0,840.3 L901.0,839.6 L902.0,838.8 L903.0,838.0 L904.0,837.2 L905.0,836.5 L906.0,835.7 L907.0,834.9 L908.0,834.1 L909.0,833.3 L910.0,832.5 L911.0,831.7 L912.0,830.9 L913.0,830.2 L914.0,829.4 L915.0,828.6 L916.0,827.8 L917.0,827.0 L918.0,826.2 L919.0,825.4 L920.0,824.6 L921.0,823.9 L922.0,823.1 L923.0,822.3 L924.0,821.6 L925.0,820.8 L926.0,820.1 L927.0,819.3 L928.0,818.6 L929.0,817.8 L930.0,817.1 L931.0,816.4 L932.0,815.7 L933.0,815.0 L934.0,814.3 L935.0,813.6 L936.0,813.0 L937.0,812.3 L938.0,811.6 L939.0,811.0 L940.0,810.4 L941.0,809.8 L942.0,809.2 L943.0,808.6 L944.0,808.1 L945.0,807.5 L946.0,807.0 L947.0,806.5 L948.0,806.0 L949.0,805.5 L950.0,805.1 L951.0,804.6 L952.0,804.2 L953.0,803.8 L954.0,803.4 L955.0,803.0 L956.0,802.7 L957.0,802.3 L958.0,802.0 L959.0,801.7 L960.0,801.4 L961.0,801.2 L962.0,800.9 L963.0,800.7 L964.0,800.5 L965.0,800.4 L966.0,800.2 L967.0,800.1 L968.0,800.0 L969.0,799.9 L970.0,799.8 L971.0,799.8 L972.0,799.8 L973.0,799.8 L974.0,799.8 L975.0,799.9 L976.0,800.0 L977.0,800.1 L978.0,800.2 L979.0,800.3 L980.0,800.5 L981.0,800.7 L982.0,801.0 L983.0,801.2 L984.0,801.5 L985.0,801.8 L986.0,802.1 L987.0,802.4 L988.0,802.8 L989.0,803.2 L990.0,803.6 L991.0,804.0 L992.0,804.5 L993.0,805.0 L994.0,805.5 L995.0,806.0 L996.0,806.5 L997.0,807.1 L998.0,807.6 L999.0,808.2 L1000.0,808.9 L1001.0,809.5 L1002.0,810.1 L1003.0,810.8 L1004.0,811.5 L1005.0,812.2 L1006.0,812.9 L1007.0,813.6 L1008.0,814.4 L1009.0,815.1 L1010.0,815.9 L1011.0,816.7 L1012.0,817.5 L1013.0,818.3 L1014.0,819.1 L1015.0,819.9 L1016.0,820.7 L1017.0,821.6 L1018.0,822.4 L1019.0,823.3 L1020.0,824.2 L1021.0,825.0 L1022.0,825.9 L1023.0,826.8 L1024.0,827.7 L1025.0,828.6 L1026.0,829.5 L1027.0,830.4 L1028.0,831.3 L1029.0,832.2 L1030.0,833.1 L1031.0,834.1 L1032.0,835.0 L1033.0,835.9 L1034.0,836.8 L1035.0,837.8 L1036.0,838.7 L1037.0,839.6 L1038.0,840.5 L1039.0,841.5 L1040.0,842.4 L1041.0,843.3 L1042.0,844.3 L1043.0,845.2 L1044.0,846.1 L1045.0,847.0 L1046.0,848.0 L1047.0,848.9 L1048.0,849.8 L1049.0,850.7 L1050.0,851.6 L1051.0,852.6 L1052.0,853.5 L1053.0,854.4 L1054.0,855.3 L1055.0,856.2 L1056.0,857.1 L1057.0,858.0 L1058.0,858.9 L1059.0,859.8 L1060.0,860.7 L1061.0,861.6 L1062.0,862.5 L1063.0,863.4 L1064.0,864.2 L1065.0,865.1 L1066.0,866.0 L1067.0,866.9 L1068.0,867.8 L1069.0,868.6 L1070.0,869.5 L1071.0,870.4 L1072.0,871.2 L1073.0,872.1 L1074.0,872.9 L1075.0,873.7 L1076.0,874.6 L1077.0,875.4 L1078.0,876.2 L1079.0,877.0 L1080.0,877.8 L1081.0,878.6 L1082.0,879.4 L1083.0,880.2 L1084.0,880.9 L1085.0,881.7 L1086.0,882.4 L1087.0,883.2 L1088.0,883.9 L1089.0,884.6 L1090.0,885.3 L1091.0,886.0 L1092.0,886.7 L1093.0,887.4 L1094.0,888.0 L1095.0,888.7 L1096.0,889.3 L1097.0,889.9 L1098.0,890.5 L1099.0,891.2 L1100.0,891.8 L1101.0,892.3 L1102.0,892.9 L1103.0,893.5 L1104.0,894.1 L1105.0,894.7 L1106.0,895.2 L1107.0,895.8 L1108.0,896.4 L1109.0,896.9 L1110.0,897.4 L1111.0,898.0 L1112.0,898.5 L1113.0,899.0 L1114.0,899.5 L1115.0,900.0 L1116.0,900.5 L1117.0,901.0 L1118.0,901.5 L1119.0,902.0 L1120.0,902.4 L1121.0,902.9 L1122.0,903.3 L1123.0,903.7 L1124.0,904.1 L1125.0,904.6 L1126.0,904.9 L1127.0,905.3 L1128.0,905.7 L1129.0,906.1 L1130.0,906.4 L1131.0,906.8 L1132.0,907.1 L1133.0,907.4 L1134.0,907.7 L1135.0,908.0 L1136.0,908.3 L1137.0,908.5 L1138.0,908.8 L1139.0,909.0 L1140.0,909.3 L1141.0,909.5 L1142.0,909.7 L1143.0,909.9 L1144.0,910.1 L1145.0,910.3 L1146.0,910.5 L1147.0,910.7 L1148.0,910.8 L1149.0,911.0 L1150.0,911.2 L1151.0,911.4 L1152.0,911.5 L1153.0,911.7 L1154.0,911.8 L1155.0,912.0 L1156.0,912.2 L1157.0,912.3 L1158.0,912.4 L1159.0,912.6 L1160.0,912.7 L1161.0,912.9 L1162.0,913.0 L1163.0,913.1 L1164.0,913.2 L1165.0,913.4 L1166.0,913.5 L1167.0,913.6 L1168.0,913.7 L1169.0,913.8 L1170.0,913.9 L1171.0,914.0 L1172.0,914.1 L1173.0,914.2 L1174.0,914.3 L1175.0,914.4 L1176.0,914.5 L1177.0,914.6 L1178.0,914.7 L1179.0,914.7 L1180.0,914.8 L1181.0,914.9 L1182.0,915.0 L1183.0,915.0 L1184.0,915.1 L1185.0,915.2 L1186.0,915.2 L1187.0,915.3 L1188.0,915.3 L1189.0,915.4 L1190.0,915.5 L1191.0,915.5 L1192.0,915.5 L1193.0,915.6 L1194.0,915.6 L1195.0,915.7 L1196.0,915.7 L1197.0,915.7 L1198.0,915.8 L1199.0,915.8 L1200.0,915.8 L1201.0,915.9 L1202.0,915.9 L1203.0,915.9 L1204.0,915.9 L1205.0,916.0 L1206.0,916.0 L1207.0,916.0 L1208.0,916.0 L1209.0,916.0 L1210.0,916.1 L1211.0,916.1 L1212.0,916.1 L1213.0,916.1 L1214.0,916.1 L1215.0,916.2 L1216.0,916.2 L1217.0,916.2 L1218.0,916.2 L1219.0,916.2 L1220.0,916.2 L1221.0,916.3 L1222.0,916.3 L1223.0,916.3 L1224.0,916.3 L1225.0,916.3 L1226.0,916.3 L1227.0,916.3 L1228.0,916.4 L1229.0,916.4 L1230.0,916.4 L1231.0,916.4 L1232.0,916.4 L1233.0,916.4 L1234.0,916.4 L1235.0,916.4 L1236.0,916.5 L1237.0,916.5 L1238.0,916.5 L1239.0,916.5 L1240.0,916.5 L1241.0,916.5 L1242.0,916.5 L1243.0,916.5 L1244.0,916.5 L1245.0,916.6 L1246.0,916.6 L1247.0,916.6 L1248.0,916.6 L1249.0,916.6 L1250.0,916.6 L1251.0,916.6 L1252.0,916.6 L1253.0,916.6 L1254.0,916.6 L1255.0,916.6 L1256.0,916.7 L1257.0,916.7 L1258.0,916.7 L1259.0,916.7 L1260.0,916.7 L1261.0,916.7 L1262.0,916.7 L1263.0,916.7 L1264.0,916.7 L1265.0,916.7 L1266.0,916.7 L1267.0,916.7 L1268.0,916.7 L1269.0,916.8 L1270.0,916.8 L1271.0,916.8 L1272.0,916.8 L1273.0,916.8 L1274.0,916.8 L1275.0,916.8 L1276.0,916.8 L1277.0,916.8 L1278.0,916.8 L1279.0,916.8 L1280.0,916.8 L1281.0,916.8 L1282.0,916.8 L1283.0,916.9 L1284.0,916.9 L1285.0,916.9 L1286.0,916.9 L1287.0,916.9 L1288.0,916.9 L1289.0,916.9 L1290.0,916.9 L1291.0,916.9 L1292.0,916.9 L1293.0,916.9 L1294.0,916.9 L1295.0,916.9 L1296.0,917.0 L1297.0,917.0 L1298.0,917.0 L1299.0,917.0 L1300.0,917.0 L1301.0,917.0 L1302.0,917.0 L1303.0,917.0 L1304.0,917.0 L1305.0,917.0 L1306.0,917.0" stroke="#cf3cd0" />
<path d="M727.0,879.6 L728.0,879.6 L729.0,879.6 L730.0,879.5 L731.0,879.5 L732.0,879.5 L733.0,879.4 L734.0,879.4 L735.0,879.3 L736.0,879.3 L737.0,879.3 L738.0,879.2 L739.0,879.2 L740.0,879.1 L741.0,879.1 L742.0,879.1 L743.0,879.0 L744.0,879.0 L745.0,878.9 L746.0,878.9 L747.0,878.9 L748.0,878.8 L749.0,878.8 L750.0,878.7 L751.0,878.7 L752.0,878.6 L753.0,878.6 L754.0,878.5 L755.0,878.5 L756.0,878.5 L757.0,878.4 L758.0,878.4 L759.0,878.3 L760.0,878.3 L761.0,878.2 L762.0,878.2 L763.0,878.2 L764.0,878.1 L765.0,878.1 L766.0,878.0 L767.0,878.0 L768.0,877.9 L769.0,877.9 L770.0,877.9 L771.0,877.8 L772.0,877.8 L773.0,877.7 L774.0,877.7 L775.0,877.7 L776.0,877.6 L777.0,877.6 L778.0,877.5 L779.0,877.5 L780.0,877.5 L781.0,877.4 L782.0,877.4 L783.0,877.4 L784.0,877.3 L785.0,877.3 L786.0,877.3 L787.0,877.2 L788.0,877.2 L789.0,877.2 L790.0,877.1 L791.0,877.1 L792.0,877.1 L793.0,877.0 L794.0,877.0 L795.0,877.0 L796.0,877.0 L797.0,876.9 L798.0,876.9 L799.0,876.9 L800.0,876.9 L801.0,876.9 L802.0,876.8 L803.0,876.8 L804.0,876.8 L805.0,876.8 L806.0,876.8 L807.0,876.8 L808.0,876.7 L809.0,876.7 L810.0,876.7 L811.0,876.7 L812.0,876.7 L813.0,876.7 L814.0,876.7 L815.0,876.6 L816.0,876.6 L817.0,876.6 L818.0,876.6 L819.0,876.6 L820.0,876.6 L821.0,876.6 L822.0,876.6 L823.0,876.6 L824.0,876.6 L825.0,876.6 L826.0,876.5 L827.0,876.5 L828.0,876.5 L829.0,876.5 L830.0,876.5 L831.0,876.5 L832.0,876.5 L833.0,876.5 L834.0,876.5 L835.0,876.5 L836.0,876.5 L837.0,876.5 L838.0,876.5 L839.0,876.5 L840.0,876.5 L841.0,876.4 L842.0,876.4 L843.0,876.4 L844.0,876.4 L845.0,876.4 L846.0,876.4 L847.0,876.4 L848.0,876.4 L849.0,876.4 L850.0,876.4 L851.0,876.4 L852.0,876.3 L853.0,876.3 L854.0,876.3 L855.0,876.3 L856.0,876.3 L857.0,876.3 L858.0,876.3 L859.0,876.3 L860.0,876.2 L861.0,876.2 L862.0,876.2 L863.0,876.2 L864.0,876.2 L865.0,876.2 L866.0,876.1 L867.0,876.1 L868.0,876.1 L869.0,876.1 L870.0,876.1 L871.0,876.0 L872.0,876.0 L873.0,876.0 L874.0,875.9 L875.0,875.9 L876.0,875.9 L877.0,875.9 L878.0,875.8 L879.0,875.8 L880.0,875.8 L881.0,875.7 L882.0,875.7 L883.0,875.6 L884.0,875.6 L885.0,875.6 L886.0,875.5 L887.0,875.5 L888.0,875.4 L889.0,875.4 L890.0,875.4 L891.0,875.3 L892.0,875.3 L893.0,875.2 L894.0,875.2 L895.0,875.1 L896.0,875.1 L897.0,875.0 L898.0,875.0 L899.0,874.9 L900.0,874.9 L901.0,874.8 L902.0,874.7 L903.0,874.7 L904.0,874.6 L905.0,874.6 L906.0,874.5 L907.0,874.4 L908.0,874.4 L909.0,874.3 L910.0,874.2 L911.0,874.1 L912.0,874.1 L913.0,874.0 L914.0,873.9 L915.0,873.8 L916.0,873.8 L917.0,873.7 L918.0,873.6 L919.0,873.5 L920.0,873.4 L921.0,873.3 L922.0,873.3 L923.0,873.2 L924.0,873.1 L925.0,873.0 L926.0,872.9 L927.0,872.8 L928.0,872.7 L929.0,872.6 L930.0,872.4 L931.0,872.3 L932.0,872.2 L933.0,872.1 L934.0,872.0 L935.0,871.9 L936.0,871.7 L937.0,871.6 L938.0,871.5 L939.0,871.3 L940.0,871.2 L941.0,871.1 L942.0,870.9 L943.0,870.8 L944.0,870.6 L945.0,870.5 L946.0,870.3 L947.0,870.2 L948.0,870.0 L949.0,869.8 L950.0,869.7 L951.0,869.5 L952.0,869.3 L953.0,869.1 L954.0,868.9 L955.0,868.7 L956.0,868.5 L957.0,868.3 L958.0,868.1 L959.0,867.8 L960.0,867.6 L961.0,867.4 L962.0,867.1 L963.0,866.8 L964.0,866.6 L965.0,866.3 L966.0,866.0 L967.0,865.7 L968.0,865.4 L969.0,865.1 L970.0,864.8 L971.0,864.4 L972.0,864.1 L973.0,863.8 L974.0,863.4 L975.0,863.0 L976.0,862.6 L977.0,862.2 L978.0,861.8 L979.0,861.4 L980.0,860.9 L981.0,860.5 L982.0,860.0 L983.0,859.5 L984.0,859.0 L985.0,858.5 L986.0,858.0 L987.0,857.4 L988.0,856.8 L989.0,856.3 L990.0,855.7 L991.0,855.0 L992.0,854.4 L993.0,853.7 L994.0,853.0 L995.0,852.3 L996.0,851.6 L997.0,850.8 L998.0,850.1 L999.0,849.3 L1000.0,848.5 L1001.0,847.6 L1002.0,846.7 L1003.0,845.9 L1004.0,844.9 L1005.0,844.0 L1006.0,843.0 L1007.0,842.0 L1008.0,841.0 L1009.0,840.0 L1010.0,838.9 L1011.0,837.8 L1012.0,836.7 L1013.0,835.5 L1014.0,834.3 L1015.0,833.1 L1016.0,831.9 L1017.0,830.6 L1018.0,829.4 L1019.0,828.1 L1020.0,826.7 L1021.0,825.4 L1022.0,824.0 L1023.0,822.6 L1024.0,821.2 L1025.0,819.8 L1026.0,818.3 L1027.0,816.9 L1028.0,815.4 L1029.0,813.9 L1030.0,812.4 L1031.0,811.0 L1032.0,809.5 L1033.0,808.0 L1034.0,806.5 L1035.0,805.0 L1036.0,803.6 L1037.0,802.1 L1038.0,800.7 L1039.0,799.3 L1040.0,798.0 L1041.0,796.7 L1042.0,795.4 L1043.0,794.1 L1044.0,793.0 L1045.0,791.9 L1046.0,790.8 L1047.0,789.8 L1048.0,788.9 L1049.0,788.1 L1050.0,787.3 L1051.0,786.6 L1052.0,786.1 L1053.0,785.6 L1054.0,785.2 L1055.0,784.9 L1056.0,784.8 L1057.0,784.7 L1058.0,784.7 L1059.0,784.9 L1060.0,785.1 L1061.0,785.4 L1062.0,785.7 L1063.0,786.1 L1064.0,786.6 L1065.0,787.1 L1066.0,787.7 L1067.0,788.4 L1068.0,789.1 L1069.0,789.9 L1070.0,790.8 L1071.0,791.7 L1072.0,792.6 L1073.0,793.6 L1074.0,794.7 L1075.0,795.8 L1076.0,796.9 L1077.0,798.1 L1078.0,799.3 L1079.0,800.6 L1080.0,801.8 L1081.0,803.2 L1082.0,804.5 L1083.0,805.9 L1084.0,807.3 L1085.0,808.7 L1086.0,810.2 L1087.0,811.6 L1088.0,813.1 L1089.0,814.6 L1090.0,816.1 L1091.0,817.6 L1092.0,819.1 L1093.0,820.7 L1094.0,822.2 L1095.0,823.7 L1096.0,825.3 L1097.0,826.8 L1098.0,828.3 L1099.0,829.9 L1100.0,831.4 L1101.0,832.9 L1102.0,834.5 L1103.0,836.0 L1104.0,837.5 L1105.0,839.1 L1106.0,840.6 L1107.0,842.1 L1108.0,843.6 L1109.0,845.1 L1110.0,846.5 L1111.0,848.0 L1112.0,849.4 L1113.0,850.9 L1114.0,852.3 L1115.0,853.7 L1116.0,855.1 L1117.0,856.5 L1118.0,857.8 L1119.0,859.2 L1120.0,860.5 L1121.0,861.8 L1122.0,863.0 L1123.0,864.3 L1124.0,865.5 L1125.0,866.7 L1126.0,867.9 L1127.0,869.1 L1128.0,870.2 L1129.0,871.3 L1130.0,872.4 L1131.0,873.5 L1132.0,874.5 L1133.0,875.5 L1134.0,876.5 L1135.0,877.5 L1136.0,878.4 L1137.0,879.4 L1138.0,880.2 L1139.0,881.1 L1140.0,881.9 L1141.0,882.7 L1142.0,883.5 L1143.0,884.3 L1144.0,885.1 L1145.0,885.8 L1146.0,886.5 L1147.0,887.2 L1148.0,887.9 L1149.0,888.6 L1150.0,889.2 L1151.0,889.8 L1152.0,890.5 L1153.0,891.1 L1154.0,891.6 L1155.0,892.2 L1156.0,892.8 L1157.0,893.3 L1158.0,893.8 L1159.0,894.3 L1160.0,894.8 L1161.0,895.3 L1162.0,895.8 L1163.0,896.2 L1164.0,896.7 L1165.0,897.1 L1166.0,897.5 L1167.0,897.9 L1168.0,898.3 L1169.0,898.7 L1170.0,899.0 L1171.0,899.4 L1172.0,899.7 L1173.0,900.1 L1174.0,900.4 L1175.0,900.7 L1176.0,901.0 L1177.0,901.3 L1178.0,901.6 L1179.0,901.9 L1180.0,902.1 L1181.0,902.4 L1182.0,902.6 L1183.0,902.9 L1184.0,903.1 L1185.0,903.3 L1186.0,903.6 L1187.0,903.8 L1188.0,904.0 L1189.0,904.2 L1190.0,904.4 L1191.0,904.5 L1192.0,904.7 L1193.0,904.9 L1194.0,905.0 L1195.0,905.2 L1196.0,905.3 L1197.0,905.5 L1198.0,905.6 L1199.0,905.8 L1200.0,905.9 L1201.0,906.0 L1202.0,906.1 L1203.0,906.3 L1204.0,906.4 L1205.0,906.5 L1206.0,906.6 L1207.0,906.7 L1208.0,906.8 L1209.0,906.9 L1210.0,907.0 L1211.0,907.1 L1212.0,907.2 L1213.0,907.3 L1214.0,907.4 L1215.0,907.5 L1216.0,907.5 L1217.0,907.6 L1218.0,907.7 L1219.0,907.8 L1220.0,907.8 L1221.0,907.9 L1222.0,908.0 L1223.0,908.1 L1224.0,908.1 L1225.0,908.2 L1226.0,908.3 L1227.0,908.3 L1228.0,908.4 L1229.0,908.5 L1230.0,908.5 L1231.0,908.6 L1232.0,908.6 L1233.0,908.7 L1234.0,908.8 L1235.0,908.8 L1236.0,908.9 L1237.0,908.9 L1238.0,909.0 L1239.0,909.0 L1240.0,909.1 L1241.0,909.1 L1242.0,909.2 L1243.0,909.2 L1244.0,909.3 L1245.0,909.3 L1246.0,909.4 L1247.0,909.4 L1248.0,909.4 L1249.0,909.5 L1250.0,909.5 L1251.0,909.6 L1252.0,909.6 L1253.0,909.7 L1254.0,909.7 L1255.0,909.7 L1256.0,909.8 L1257.0,909.8 L1258.0,909.8 L1259.0,909.9 L1260.0,909.9 L1261.0,910.0 L1262.0,910.0 L1263.0,910.0 L1264.0,910.1 L1265.0,910.1 L1266.0,910.1 L1267.0,910.2 L1268.0,910.2 L1269.0,910.2 L1270.0,910.3 L1271.0,910.3 L1272.0,910.3 L1273.0,910.4 L1274.0,910.4 L1275.0,910.4 L1276.0,910.5 L1277.0,910.5 L1278.0,910.5 L1279.0,910.5 L1280.0,910.6 L1281.0,910.6 L1282.0,910.6 L1283.0,910.7 L1284.0,910.7 L1285.0,910.7 L1286.0,910.7 L1287.0,910.8 L1288.0,910.8 L1289.0,910.8 L1290.0,910.8 L1291.0,910.9 L1292.0,910.9 L1293.0,910.9 L1294.0,910.9 L1295.0,911.0 L1296.0,911.0 L1297.0,911.0 L1298.0,911.0 L1299.0,911.1 L1300.0,911.1 L1301.0,911.1 L1302.0,911.1 L1303.0,911.2 L1304.0,911.2 L1305.0,911.2 L1306.0,911.2" stroke="#3a8a40" />
<path d="M727.0,881.0 L728.0,881.0 L729.0,881.0 L730.0,880.9 L731.0,880.9 L732.0,880.9 L733.0,880.9 L734.0,880.8 L735.0,880.8 L736.0,880.8 L737.0,880.7 L738.0,880.7 L739.0,880.7 L740.0,880.7 L741.0,880.6 L742.0,880.6 L743.0,880.6 L744.0,880.5 L745.0,880.5 L746.0,880.5 L747.0,880.4 L748.0,880.4 L749.0,880.4 L750.0,880.3 L751.0,880.3 L752.0,880.3 L753.0,880.2 L754.0,880.2 L755.0,880.2 L756.0,880.1 L757.0,880.1 L758.0,880.1 L759.0,880.0 L760.0,880.0 L761.0,880.0 L762.0,879.9 L763.0,879.9 L764.0,879.9 L765.0,879.9 L766.0,879.8 L767.0,879.8 L768.0,879.8 L769.0,879.7 L770.0,879.7 L771.0,879.7 L772.0,879.6 L773.0,879.6 L774.0,879.6 L775.0,879.6 L776.0,879.5 L777.0,879.5 L778.0,879.5 L779.0,879.5 L780.0,879.4 L781.0,879.4 L782.0,879.4 L783.0,879.4 L784.0,879.4 L785.0,879.3 L786.0,879.3 L787.0,879.3 L788.0,879.3 L789.0,879.3 L790.0,879.3 L791.0,879.3 L792.0,879.2 L793.0,879.2 L794.0,879.2 L795.0,879.2 L796.0,879.2 L797.0,879.2 L798.0,879.2 L799.0,879.2 L800.0,879.2 L801.0,879.2 L802.0,879.2 L803.0,879.2 L804.0,879.2 L805.0,879.2 L806.0,879.2 L807.0,879.2 L808.0,879.2 L809.0,879.2 L810.0,879.2 L811.0,879.2 L812.0,879.2 L813.0,879.2 L814.0,879.2 L815.0,879.2 L816.0,879.3 L817.0,879.3 L818.0,879.3 L819.0,879.3 L820.0,879.3 L821.0,879.3 L822.0,879.3 L823.0,879.3 L824.0,879.4 L825.0,879.4 L826.0,879.4 L827.0,879.4 L828.0,879.4 L829.0,879.4 L830.0,879.5 L831.0,879.5 L832.0,879.5 L833.0,879.5 L834.0,879.5 L835.0,879.6 L836.0,879.6 L837.0,879.6 L838.0,879.6 L839.0,879.7 L840.0,879.7 L841.0,879.7 L842.0,879.7 L843.0,879.7 L844.0,879.8 L845.0,879.8 L846.0,879.8 L847.0,879.8 L848.0,879.9 L849.0,879.9 L850.0,879.9 L851.0,879.9 L852.0,880.0 L853.0,880.0 L854.0,880.0 L855.0,880.0 L856.0,880.0 L857.0,880.1 L858.0,880.1 L859.0,880.1 L860.0,880.1 L861.0,880.2 L862.0,880.2 L863.0,880.2 L864.0,880.2 L865.0,880.3 L866.0,880.3 L867.0,880.3 L868.0,880.3 L869.0,880.3 L870.0,880.4 L871.0,880.4 L872.0,880.4 L873.0,880.4 L874.0,880.4 L875.0,880.5 L876.0,880.5 L877.0,880.5 L878.0,880.5 L879.0,880.5 L880.0,880.6 L881.0,880.6 L882.0,880.6 L883.0,880.6 L884.0,880.6 L885.0,880.6 L886.0,880.7 L887.0,880.7 L888.0,880.7 L889.0,880.7 L890.0,880.7 L891.0,880.7 L892.0,880.8 L893.0,880.8 L894.0,880.8 L895.0,880.8 L896.0,880.8 L897.0,880.8 L898.0,880.9 L899.0,880.9 L900.0,880.9 L901.0,880.9 L902.0,880.9 L903.0,880.9 L904.0,881.0 L905.0,881.0 L906.0,881.0 L907.0,881.0 L908.0,881.0 L909.0,881.0 L910.0,881.1 L911.0,881.1 L912.0,881.1 L913.0,881.1 L914.0,881.1 L915.0,881.2 L916.0,881.2 L917.0,881.2 L918.0,881.2 L919.0,881.2 L920.0,881.2 L921.0,881.3 L922.0,881.3 L923.0,881.3 L924.0,881.3 L925.0,881.3 L926.0,881.4 L927.0,881.4 L928.0,881.4 L929.0,881.4 L930.0,881.5 L931.0,881.5 L932.0,881.5 L933.0,881.5 L934.0,881.5 L935.0,881.6 L936.0,881.6 L937.0,881.6 L938.0,881.6 L939.0,881.7 L940.0,881.7 L941.0,881.7 L942.0,881.7 L943.0,881.8 L944.0,881.8 L945.0,881.8 L946.0,881.9 L947.0,881.9 L948.0,881.9 L949.0,882.0 L950.0,882.0 L951.0,882.0 L952.0,882.1 L953.0,882.1 L954.0,882.1 L955.0,882.2 L956.0,882.2 L957.0,882.2 L958.0,882.2 L959.0,882.3 L960.0,882.3 L961.0,882.3 L962.0,882.3 L963.0,882.3 L964.0,882.4 L965.0,882.4 L966.0,882.4 L967.0,882.4 L968.0,882.4 L969.0,882.4 L970.0,882.4 L971.0,882.4 L972.0,882.4 L973.0,882.4 L974.0,882.4 L975.0,882.4 L976.0,882.4 L977.0,882.4 L978.0,882.4 L979.0,882.3 L980.0,882.3 L981.0,882.2 L982.0,882.2 L983.0,882.1 L984.0,882.1 L985.0,882.0 L986.0,881.9 L987.0,881.8 L988.0,881.7 L989.0,881.6 L990.0,881.5 L991.0,881.4 L992.0,881.2 L993.0,881.1 L994.0,880.9 L995.0,880.7 L996.0,880.5 L997.0,880.3 L998.0,880.1 L999.0,879.8 L1000.0,879.6 L1001.0,879.3 L1002.0,879.0 L1003.0,878.6 L1004.0,878.3 L1005.0,877.9 L1006.0,877.5 L1007.0,877.1 L1008.0,876.6 L1009.0,876.1 L1010.0,875.6 L1011.0,875.1 L1012.0,874.5 L1013.0,873.9 L1014.0,873.3 L1015.0,872.6 L1016.0,871.9 L1017.0,871.2 L1018.0,870.5 L1019.0,869.6 L1020.0,868.8 L1021.0,867.9 L1022.0,867.0 L1023.0,866.0 L1024.0,865.0 L1025.0,864.0 L1026.0,862.9 L1027.0,861.7 L1028.0,860.6 L1029.0,859.3 L1030.0,858.0 L1031.0,856.7 L1032.0,855.3 L1033.0,853.9 L1034.0,852.4 L1035.0,850.9 L1036.0,849.4 L1037.0,847.7 L1038.0,846.1 L1039.0,844.3 L1040.0,842.6 L1041.0,840.7 L1042.0,838.9 L1043.0,836.9 L1044.0,834.9 L1045.0,832.9 L1046.0,830.8 L1047.0,828.7 L1048.0,826.5 L1049.0,824.3 L1050.0,822.0 L1051.0,819.7 L1052.0,817.3 L1053.0,814.9 L1054.0,812.4 L1055.0,809.9 L1056.0,807.4 L1057.0,804.8 L1058.0,802.1 L1059.0,799.5 L1060.0,796.8 L1061.0,794.0 L1062.0,791.3 L1063.0,788.5 L1064.0,785.6 L1065.0,782.8 L1066.0,779.9 L1067.0,777.0 L1068.0,774.1 L1069.0,771.2 L1070.0,768.3 L1071.0,765.3 L1072.0,762.4 L1073.0,759.4 L1074.0,756.4 L1075.0,753.5 L1076.0,750.5 L1077.0,747.5 L1078.0,744.6 L1079.0,741.6 L1080.0,738.7 L1081.0,735.8 L1082.0,732.9 L1083.0,730.1 L1084.0,727.2 L1085.0,724.4 L1086.0,721.7 L1087.0,719.0 L1088.0,716.3 L1089.0,713.6 L1090.0,711.1 L1091.0,708.5 L1092.0,706.1 L1093.0,703.7 L1094.0,701.3 L1095.0,699.0 L1096.0,696.8 L1097.0,694.7 L1098.0,692.6 L1099.0,690.7 L1100.0,688.8 L1101.0,687.0 L1102.0,685.3 L1103.0,683.8 L1104.0,682.3 L1105.0,680.9 L1106.0,679.7 L1107.0,678.5 L1108.0,677.5 L1109.0,676.5 L1110.0,675.7 L1111.0,675.1 L1112.0,674.5 L1113.0,674.0 L1114.0,673.7 L1115.0,673.5 L1116.0,673.4 L1117.0,673.4 L1118.0,673.6 L1119.0,673.9 L1120.0,674.3 L1121.0,674.8 L1122.0,675.4 L1123.0,676.1 L1124.0,677.0 L1125.0,678.0 L1126.0,679.0 L1127.0,680.2 L1128.0,681.5 L1129.0,682.9 L1130.0,684.4 L1131.0,685.9 L1132.0,687.6 L1133.0,689.4 L1134.0,691.3 L1135.0,693.2 L1136.0,695.3 L1137.0,697.4 L1138.0,699.6 L1139.0,701.9 L1140.0,704.3 L1141.0,706.7 L1142.0,709.2 L1143.0,711.8 L1144.0,714.5 L1145.0,717.2 L1146.0,719.9 L1147.0,722.8 L1148.0,725.7 L1149.0,728.6 L1150.0,731.6 L1151.0,734.6 L1152.0,737.7 L1153.0,740.7 L1154.0,743.9 L1155.0,747.0 L1156.0,750.2 L1157.0,753.4 L1158.0,756.6 L1159.0,759.9 L1160.0,763.1 L1161.0,766.3 L1162.0,769.6 L1163.0,772.8 L1164.0,776.1 L1165.0,779.3 L1166.0,782.5 L1167.0,785.8 L1168.0,789.0 L1169.0,792.1 L1170.0,795.3 L1171.0,798.4 L1172.0,801.5 L1173.0,804.6 L1174.0,807.7 L1175.0,810.7 L1176.0,813.7 L1177.0,816.6 L1178.0,819.5 L1179.0,822.4 L1180.0,825.2 L1181.0,828.0 L1182.0,830.7 L1183.0,833.4 L1184.0,836.0 L1185.0,838.6 L1186.0,841.2 L1187.0,843.6 L1188.0,846.1 L1189.0,848.5 L1190.0,850.8 L1191.0,853.1 L1192.0,855.3 L1193.0,857.5 L1194.0,859.6 L1195.0,861.6 L1196.0,863.6 L1197.0,865.6 L1198.0,867.5 L1199.0,869.3 L1200.0,871.1 L1201.0,872.8 L1202.0,874.5 L1203.0,876.2 L1204.0,877.7 L1205.0,879.3 L1206.0,880.8 L1207.0,882.2 L1208.0,883.6 L1209.0,884.9 L1210.0,886.2 L1211.0,887.5 L1212.0,888.7 L1213.0,889.8 L1214.0,890.9 L1215.0,892.0 L1216.0,893.0 L1217.0,894.0 L1218.0,895.0 L1219.0,895.9 L1220.0,896.8 L1221.0,897.6 L1222.0,898.4 L1223.0,899.2 L1224.0,899.9 L1225.0,900.6 L1226.0,901.3 L1227.0,902.0 L1228.0,902.6 L1229.0,903.2 L1230.0,903.7 L1231.0,904.3 L1232.0,904.8 L1233.0,905.3 L1234.0,905.7 L1235.0,906.2 L1236.0,906.6 L1237.0,907.0 L1238.0,907.4 L1239.0,907.7 L1240.0,908.1 L1241.0,908.4 L1242.0,908.7 L1243.0,909.0 L1244.0,909.3 L1245.0,909.5 L1246.0,909.8 L1247.0,910.0 L1248.0,910.2 L1249.0,910.4 L1250.0,910.6 L1251.0,910.8 L1252.0,911.0 L1253.0,911.1 L1254.0,911.3 L1255.0,911.4 L1256.0,911.6 L1257.0,911.7 L1258.0,911.8 L1259.0,911.9 L1260.0,912.0 L1261.0,912.1 L1262.0,912.2 L1263.0,912.3 L1264.0,912.4 L1265.0,912.5 L1266.0,912.5 L1267.0,912.6 L1268.0,912.7 L1269.0,912.7 L1270.0,912.8 L1271.0,912.8 L1272.0,912.9 L1273.0,912.9 L1274.0,913.0 L1275.0,913.0 L1276.0,913.1 L1277.0,913.1 L1278.0,913.1 L1279.0,913.2 L1280.0,913.2 L1281.0,913.2 L1282.0,913.2 L1283.0,913.3 L1284.0,913.3 L1285.0,913.3 L1286.0,913.3 L1287.0,913.3 L1288.0,913.4 L1289.0,913.4 L1290.0,913.4 L1291.0,913.4 L1292.0,913.4 L1293.0,913.4 L1294.0,913.5 L1295.0,913.5 L1296.0,913.5 L1297.0,913.5 L1298.0,913.5 L1299.0,913.5 L1300.0,913.5 L1301.0,913.5 L1302.0,913.5 L1303.0,913.5 L1304.0,913.6 L1305.0,913.6 L1306.0,913.6" stroke="#201c6e" />
</g>
<rect x="52.6" y="8.1" width="574.20" height="423.50" fill="none" stroke="#111" stroke-width="3.1"/>
<rect x="724.2" y="5.8" width="582.20" height="429.50" fill="none" stroke="#111" stroke-width="3.1"/>
<rect x="54.8" y="529.1" width="581.40" height="428.30" fill="none" stroke="#111" stroke-width="3.1"/>
<rect x="725" y="527.5" width="582.80" height="430.30" fill="none" stroke="#111" stroke-width="3.1"/>
<path d="M96.55,431.60v10.5M184.85,431.60v10.5M273.15,431.60v10.5M361.45,431.60v10.5M449.75,431.60v10.5M538.05,431.60v10.5M626.35,431.60v10.5M52.40,431.60v6.3M140.70,431.60v6.3M229.00,431.60v6.3M317.30,431.60v6.3M405.60,431.60v6.3M493.90,431.60v6.3M582.20,431.60v6.3" stroke="#111" stroke-width="2.9" fill="none"/>
<path d="M724.40,435.30v10.5M797.00,435.30v10.5M869.60,435.30v10.5M942.20,435.30v10.5M1014.80,435.30v10.5M1087.40,435.30v10.5M1160.00,435.30v10.5M1232.60,435.30v10.5M1305.20,435.30v10.5M760.70,435.30v6.3M833.30,435.30v6.3M905.90,435.30v6.3M978.50,435.30v6.3M1051.10,435.30v6.3M1123.70,435.30v6.3M1196.30,435.30v6.3M1268.90,435.30v6.3" stroke="#111" stroke-width="2.9" fill="none"/>
<path d="M98.94,957.40v10.5M188.42,957.40v10.5M277.90,957.40v10.5M367.38,957.40v10.5M456.86,957.40v10.5M546.34,957.40v10.5M635.82,957.40v10.5M54.20,957.40v6.3M143.68,957.40v6.3M233.16,957.40v6.3M322.64,957.40v6.3M412.12,957.40v6.3M501.60,957.40v6.3M591.08,957.40v6.3" stroke="#111" stroke-width="2.9" fill="none"/>
<path d="M725.00,957.80v10.5M797.80,957.80v10.5M870.60,957.80v10.5M943.40,957.80v10.5M1016.20,957.80v10.5M1089.00,957.80v10.5M1161.80,957.80v10.5M1234.60,957.80v10.5M1307.40,957.80v10.5M761.40,957.80v6.3M834.20,957.80v6.3M907.00,957.80v6.3M979.80,957.80v6.3M1052.60,957.80v6.3M1125.40,957.80v6.3M1198.20,957.80v6.3M1271.00,957.80v6.3" stroke="#111" stroke-width="2.9" fill="none"/>
<path d="M298.00,142.80V431.60" stroke="#111" stroke-width="3.4" stroke-dasharray="15.5 14.5" fill="none"/>
<path d="M462.50,107.00V431.60" stroke="#111" stroke-width="3.4" stroke-dasharray="15.5 14.5" fill="none"/>
<path d="M970.60,286.00V435.30" stroke="#111" stroke-width="3.4" stroke-dasharray="15.5 14.5" fill="none"/>
<path d="M1075.00,157.20V435.30" stroke="#111" stroke-width="3.4" stroke-dasharray="15.5 14.5" fill="none"/>
<path d="M1122.70,241.80V435.30" stroke="#111" stroke-width="3.4" stroke-dasharray="15.5 14.5" fill="none"/>
<path d="M315.30,647.10V957.40" stroke="#111" stroke-width="3.4" stroke-dasharray="15.5 14.5" fill="none"/>
<path d="M479.30,637.80V957.40" stroke="#111" stroke-width="3.4" stroke-dasharray="15.5 14.5" fill="none"/>
<path d="M972.50,757.50V957.80" stroke="#111" stroke-width="3.4" stroke-dasharray="15.5 14.5" fill="none"/>
<path d="M1058.80,757.50V957.80" stroke="#111" stroke-width="3.4" stroke-dasharray="15.5 14.5" fill="none"/>
<path d="M1117.40,606.10V957.80" stroke="#111" stroke-width="3.4" stroke-dasharray="15.5 14.5" fill="none"/>
<g style='font-family:"Liberation Serif",serif;font-weight:bold' fill="#111" stroke="#111" stroke-width="0.25">
<text transform="translate(82.42,469.6) scale(0.9700,1)" font-size="29.60">92</text>
<text transform="translate(85.11,994.6) scale(1.0000,1)" font-size="28.09">92</text>
<text transform="translate(170.65,469.6) scale(0.9700,1)" font-size="29.60">90</text>
<text transform="translate(174.52,994.6) scale(1.0000,1)" font-size="28.09">90</text>
<text transform="translate(258.79,469.6) scale(0.9700,1)" font-size="29.60">88</text>
<text transform="translate(263.85,994.6) scale(1.0000,1)" font-size="28.09">88</text>
<text transform="translate(347.04,469.6) scale(0.9700,1)" font-size="29.60">86</text>
<text transform="translate(353.28,994.6) scale(1.0000,1)" font-size="28.09">86</text>
<text transform="translate(435.18,469.6) scale(0.9700,1)" font-size="29.60">84</text>
<text transform="translate(442.61,994.6) scale(1.0000,1)" font-size="28.09">84</text>
<text transform="translate(523.83,469.6) scale(0.9700,1)" font-size="29.60">82</text>
<text transform="translate(532.43,994.6) scale(1.0000,1)" font-size="28.09">82</text>
<text transform="translate(612.06,469.6) scale(0.9700,1)" font-size="29.60">80</text>
<text transform="translate(621.84,994.6) scale(1.0000,1)" font-size="28.09">80</text>
<text transform="translate(702.95,473.2) scale(0.9500,1)" font-size="30.21">404</text>
<text transform="translate(704.41,995) scale(0.9500,1)" font-size="29.00">404</text>
<text transform="translate(775.77,473.2) scale(0.9500,1)" font-size="30.21">403</text>
<text transform="translate(777.42,995) scale(0.9500,1)" font-size="29.00">403</text>
<text transform="translate(848.5,473.2) scale(0.9500,1)" font-size="30.21">402</text>
<text transform="translate(850.34,995) scale(0.9500,1)" font-size="29.00">402</text>
<text transform="translate(921.22,473.2) scale(0.9500,1)" font-size="30.21">401</text>
<text transform="translate(923.26,995) scale(0.9500,1)" font-size="29.00">401</text>
<text transform="translate(993.63,473.2) scale(0.9500,1)" font-size="30.21">400</text>
<text transform="translate(995.88,995) scale(0.9500,1)" font-size="29.00">400</text>
<text transform="translate(1065.86,473.2) scale(0.9500,1)" font-size="30.21">399</text>
<text transform="translate(1068.32,995) scale(0.9500,1)" font-size="29.00">399</text>
<text transform="translate(1138.41,473.2) scale(0.9500,1)" font-size="30.21">398</text>
<text transform="translate(1141.08,995) scale(0.9500,1)" font-size="29.00">398</text>
<text transform="translate(1210.89,473.2) scale(0.9500,1)" font-size="30.21">397</text>
<text transform="translate(1213.76,995) scale(0.9500,1)" font-size="29.00">397</text>
<text transform="translate(1283.56,473.2) scale(0.9500,1)" font-size="30.21">396</text>
<text transform="translate(1286.62,995) scale(0.9500,1)" font-size="29.00">396</text>
<text transform="translate(161.59,502.7) scale(1.0454,1)" font-size="35.13" fill="#000">Binding energy(eV)</text>
<text transform="translate(871.59,505) scale(1.0877,1)" font-size="33.90" fill="#000">Binding energy(eV)</text>
<text transform="translate(201.89,1029.7) scale(1.0239,1)" font-size="36.04" fill="#000">Binding energy(eV)</text>
<text transform="translate(869.28,1029.5) scale(1.0343,1)" font-size="35.89" fill="#000">Binding energy(eV)</text>
<text transform="translate(32,329.24) rotate(-90) scale(1.0160,1)" font-size="36.20">Intensity(a.u.)</text>
<text transform="translate(711.2,348.76) rotate(-90) scale(0.9717,1)" font-size="38.49">Intensity(a.u.)</text>
<text transform="translate(34.7,883.95) rotate(-90) scale(1.1106,1)" font-size="33.45">Intensity(a.u.)</text>
<text transform="translate(708.7,869.24) rotate(-90) scale(1.0651,1)" font-size="34.67">Intensity(a.u.)</text>
<text transform="translate(85.18,53.1) scale(0.9201,1)" font-size="51.15" fill="#000">a</text>
<text transform="translate(743.59,53) scale(0.9566,1)" font-size="50.30" fill="#000">b</text>
<text transform="translate(87.52,569.8) scale(1.0863,1)" font-size="50.72" fill="#000">c</text>
<text transform="translate(739.34,574.7) scale(1.0852,1)" font-size="49.15" fill="#000">d</text>
<text transform="translate(548.71,45.6) scale(1.0781,1)" font-size="27.72" fill="#000">Au4f</text>
<text transform="translate(1248.95,42.1) scale(0.9454,1)" font-size="30.70" fill="#000">N1s</text>
<text transform="translate(554.82,562.7) scale(1.1130,1)" font-size="25.45" fill="#000">Au4f</text>
<text transform="translate(1249.94,558.7) scale(0.9780,1)" font-size="29.93" fill="#000">N1s</text>
<text transform="translate(282.22,115.4) scale(0.9856,1)" font-size="26.77" fill="#000">87.4</text>
<text transform="translate(439.12,78) scale(1.0502,1)" font-size="25.26" fill="#000">83.7</text>
<text transform="translate(1055.88,149.3) scale(1.0048,1)" font-size="26.88" fill="#000">399.2</text>
<text transform="translate(1093.62,236.1) scale(1.0951,1)" font-size="23.71" fill="#000">398.5</text>
<text transform="translate(929.94,276.9) scale(1.0465,1)" font-size="25.37" fill="#000">400.6</text>
<text transform="translate(286.32,636) scale(1.1257,1)" font-size="23.46" fill="#000">87.2</text>
<text transform="translate(459.29,584.2) scale(1.0908,1)" font-size="25.26" fill="#000">83.5</text>
<text transform="translate(1088.99,597.8) scale(1.1287,1)" font-size="23.86" fill="#000">398.6</text>
<text transform="translate(938.14,755.2) scale(1.1036,1)" font-size="23.85" fill="#000">400.6</text>
<text transform="translate(1020.81,749) scale(1.1022,1)" font-size="23.86" fill="#000">399.4</text>
<g transform="translate(55.52,85.4) scale(0.9636,1)"><text x="0" y="0" font-size="29.84">Au/C</text><text x="67.99" y="9.85" font-size="15.52">3</text><text x="75.75" y="0" font-size="29.84">N</text><text x="97.3" y="9.85" font-size="15.52">4</text><text x="105.06" y="0" font-size="29.84">-500(N</text><text x="191.24" y="9.85" font-size="15.52">2</text><text x="199" y="0" font-size="29.84">)</text></g>
<g transform="translate(727.71,86.2) scale(1.1435,1)"><text x="0" y="0" font-size="25.75">Au/C</text><text x="58.67" y="8.5" font-size="13.39">3</text><text x="65.37" y="0" font-size="25.75">N</text><text x="83.96" y="8.5" font-size="13.39">4</text><text x="90.66" y="0" font-size="25.75">-500(N</text><text x="165.03" y="8.5" font-size="13.39">2</text><text x="171.73" y="0" font-size="25.75">)</text></g>
<g transform="translate(58.72,612.5) scale(1.0711,1)"><text x="0" y="0" font-size="27.11">Au/C</text><text x="61.78" y="8.95" font-size="14.10">3</text><text x="68.83" y="0" font-size="27.11">N</text><text x="88.41" y="8.95" font-size="14.10">4</text><text x="95.46" y="0" font-size="27.11">-500(Air)</text></g>
<g transform="translate(727.72,608.8) scale(1.1264,1)"><text x="0" y="0" font-size="25.90">Au/C</text><text x="59.02" y="8.55" font-size="13.47">3</text><text x="65.75" y="0" font-size="25.90">N</text><text x="84.46" y="8.55" font-size="13.47">4</text><text x="91.19" y="0" font-size="25.90">-500(Air)</text></g>
</g>
</svg></div>
</body></html>
